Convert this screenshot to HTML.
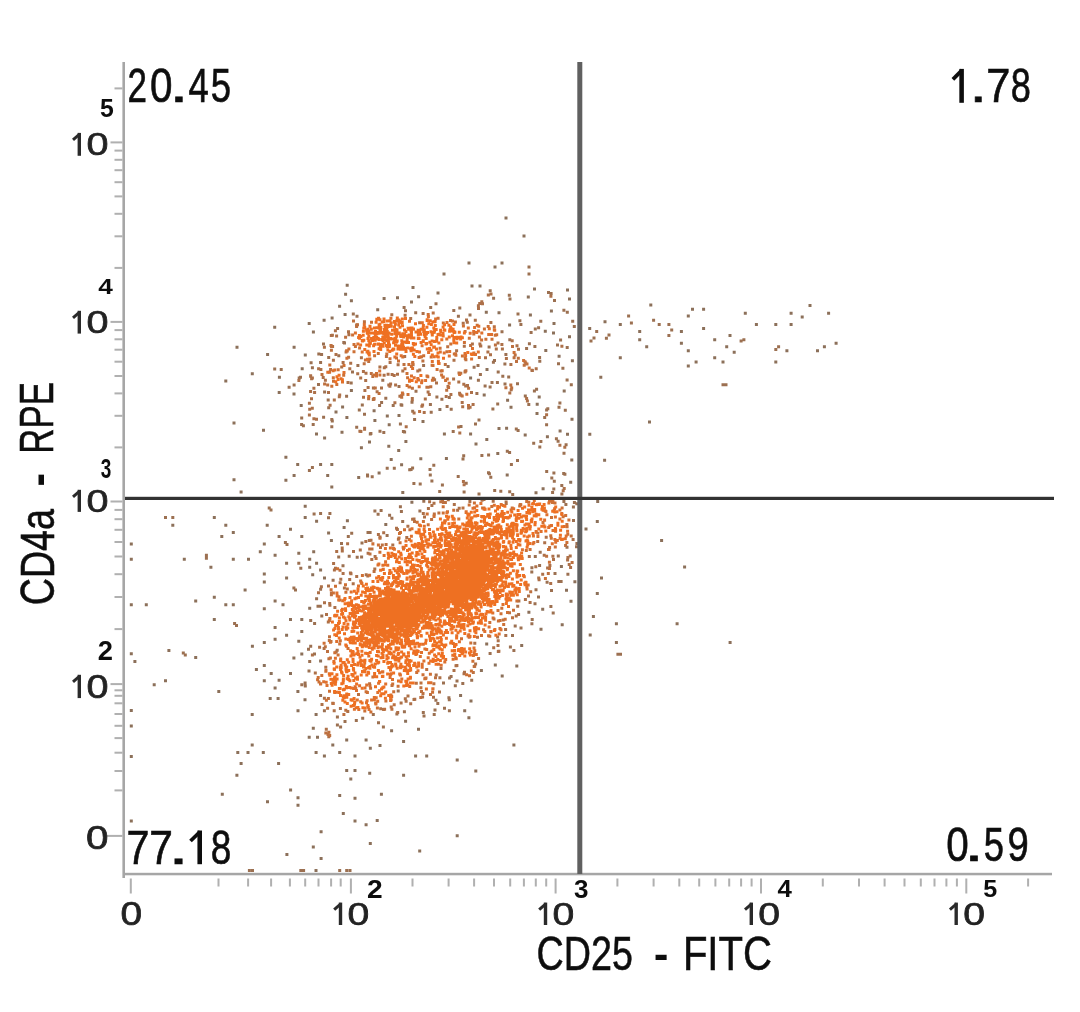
<!DOCTYPE html>
<html><head><meta charset="utf-8"><style>
html,body{margin:0;padding:0;background:#fff;}
body{width:1080px;height:1012px;overflow:hidden;}
svg{display:block;font-family:"Liberation Sans", sans-serif;}
</style></head><body>
<svg width="1080" height="1012" viewBox="0 0 1080 1012">
<defs><filter id="bl" x="0" y="0" width="1" height="1"><feGaussianBlur stdDeviation="0.55"/></filter></defs>
<rect width="1080" height="1012" fill="#fff"/>
<g filter="url(#bl)">
<rect x="122.4" y="62" width="2.6" height="816" fill="#a6a6a6"/>
<rect x="123" y="872.8" width="929" height="2.5" fill="#a6a6a6"/>
<rect x="106.5" y="834.9" width="16" height="2" fill="#b0b0b0"/>
<rect x="110.5" y="683.1" width="12" height="2" fill="#b0b0b0"/>
<rect x="110.5" y="500.5" width="12" height="2" fill="#b0b0b0"/>
<rect x="110.5" y="320.9" width="12" height="2" fill="#b0b0b0"/>
<rect x="110.5" y="141.4" width="12" height="2" fill="#b0b0b0"/>
<rect x="114.5" y="628.1" width="8" height="2" fill="#b0b0b0"/>
<rect x="114.5" y="596.0" width="8" height="2" fill="#b0b0b0"/>
<rect x="114.5" y="573.2" width="8" height="2" fill="#b0b0b0"/>
<rect x="114.5" y="555.5" width="8" height="2" fill="#b0b0b0"/>
<rect x="114.5" y="541.0" width="8" height="2" fill="#b0b0b0"/>
<rect x="114.5" y="528.8" width="8" height="2" fill="#b0b0b0"/>
<rect x="114.5" y="518.2" width="8" height="2" fill="#b0b0b0"/>
<rect x="114.5" y="508.9" width="8" height="2" fill="#b0b0b0"/>
<rect x="114.5" y="446.4" width="8" height="2" fill="#b0b0b0"/>
<rect x="114.5" y="414.8" width="8" height="2" fill="#b0b0b0"/>
<rect x="114.5" y="392.4" width="8" height="2" fill="#b0b0b0"/>
<rect x="114.5" y="375.0" width="8" height="2" fill="#b0b0b0"/>
<rect x="114.5" y="360.7" width="8" height="2" fill="#b0b0b0"/>
<rect x="114.5" y="348.7" width="8" height="2" fill="#b0b0b0"/>
<rect x="114.5" y="338.3" width="8" height="2" fill="#b0b0b0"/>
<rect x="114.5" y="329.1" width="8" height="2" fill="#b0b0b0"/>
<rect x="114.5" y="266.9" width="8" height="2" fill="#b0b0b0"/>
<rect x="114.5" y="235.3" width="8" height="2" fill="#b0b0b0"/>
<rect x="114.5" y="212.8" width="8" height="2" fill="#b0b0b0"/>
<rect x="114.5" y="195.4" width="8" height="2" fill="#b0b0b0"/>
<rect x="114.5" y="181.2" width="8" height="2" fill="#b0b0b0"/>
<rect x="114.5" y="169.2" width="8" height="2" fill="#b0b0b0"/>
<rect x="114.5" y="158.8" width="8" height="2" fill="#b0b0b0"/>
<rect x="114.5" y="149.6" width="8" height="2" fill="#b0b0b0"/>
<rect x="114.5" y="87.4" width="8" height="2" fill="#b0b0b0"/>
<rect x="114.5" y="689.3" width="8" height="2" fill="#b0b0b0"/>
<rect x="114.5" y="694.8" width="8" height="2" fill="#b0b0b0"/>
<rect x="114.5" y="702.3" width="8" height="2" fill="#b0b0b0"/>
<rect x="114.5" y="713.0" width="8" height="2" fill="#b0b0b0"/>
<rect x="114.5" y="724.8" width="8" height="2" fill="#b0b0b0"/>
<rect x="114.5" y="737.1" width="8" height="2" fill="#b0b0b0"/>
<rect x="114.5" y="751.7" width="8" height="2" fill="#b0b0b0"/>
<rect x="114.5" y="770.0" width="8" height="2" fill="#b0b0b0"/>
<rect x="114.5" y="789.4" width="8" height="2" fill="#b0b0b0"/>
<rect x="129.8" y="878.5" width="2" height="15" fill="#b0b0b0"/>
<rect x="349.9" y="878.5" width="2" height="15" fill="#b0b0b0"/>
<rect x="554.6" y="878.5" width="2" height="15" fill="#b0b0b0"/>
<rect x="760.0" y="878.5" width="2" height="15" fill="#b0b0b0"/>
<rect x="965.3" y="878.5" width="2" height="15" fill="#b0b0b0"/>
<rect x="411.5" y="878.5" width="2" height="8" fill="#b0b0b0"/>
<rect x="447.6" y="878.5" width="2" height="8" fill="#b0b0b0"/>
<rect x="473.1" y="878.5" width="2" height="8" fill="#b0b0b0"/>
<rect x="493.0" y="878.5" width="2" height="8" fill="#b0b0b0"/>
<rect x="509.2" y="878.5" width="2" height="8" fill="#b0b0b0"/>
<rect x="522.9" y="878.5" width="2" height="8" fill="#b0b0b0"/>
<rect x="534.8" y="878.5" width="2" height="8" fill="#b0b0b0"/>
<rect x="545.2" y="878.5" width="2" height="8" fill="#b0b0b0"/>
<rect x="616.4" y="878.5" width="2" height="8" fill="#b0b0b0"/>
<rect x="652.6" y="878.5" width="2" height="8" fill="#b0b0b0"/>
<rect x="678.3" y="878.5" width="2" height="8" fill="#b0b0b0"/>
<rect x="698.2" y="878.5" width="2" height="8" fill="#b0b0b0"/>
<rect x="714.4" y="878.5" width="2" height="8" fill="#b0b0b0"/>
<rect x="728.2" y="878.5" width="2" height="8" fill="#b0b0b0"/>
<rect x="740.1" y="878.5" width="2" height="8" fill="#b0b0b0"/>
<rect x="750.6" y="878.5" width="2" height="8" fill="#b0b0b0"/>
<rect x="821.8" y="878.5" width="2" height="8" fill="#b0b0b0"/>
<rect x="858.0" y="878.5" width="2" height="8" fill="#b0b0b0"/>
<rect x="883.6" y="878.5" width="2" height="8" fill="#b0b0b0"/>
<rect x="903.5" y="878.5" width="2" height="8" fill="#b0b0b0"/>
<rect x="919.8" y="878.5" width="2" height="8" fill="#b0b0b0"/>
<rect x="933.5" y="878.5" width="2" height="8" fill="#b0b0b0"/>
<rect x="945.4" y="878.5" width="2" height="8" fill="#b0b0b0"/>
<rect x="955.9" y="878.5" width="2" height="8" fill="#b0b0b0"/>
<rect x="1027.1" y="878.5" width="2" height="8" fill="#b0b0b0"/>
<rect x="217.5" y="878.5" width="2" height="8" fill="#b0b0b0"/>
<rect x="247.1" y="878.5" width="2" height="8" fill="#b0b0b0"/>
<rect x="270.1" y="878.5" width="2" height="8" fill="#b0b0b0"/>
<rect x="288.9" y="878.5" width="2" height="8" fill="#b0b0b0"/>
<rect x="304.2" y="878.5" width="2" height="8" fill="#b0b0b0"/>
<rect x="317.5" y="878.5" width="2" height="8" fill="#b0b0b0"/>
<rect x="330.1" y="878.5" width="2" height="8" fill="#b0b0b0"/>
<rect x="339.7" y="878.5" width="2" height="8" fill="#b0b0b0"/>
<g fill="#ec6e22"><path fill="rgb(140, 112, 90)" d="M527.4 610.7h3.0v3.0h-3.0zM559.9 565.1h3.0v3.0h-3.0zM342.6 526.1h3.0v3.0h-3.0zM541.6 487.3h3.0v3.0h-3.0zM384.3 522.9h3.0v3.0h-3.0zM515.3 664.4h3.0v3.0h-3.0zM345.9 519.2h3.0v3.0h-3.0zM469.5 699.6h3.0v3.0h-3.0zM560.7 623.3h3.0v3.0h-3.0zM404.1 719.7h3.0v3.0h-3.0zM565.0 588.7h3.0v3.0h-3.0zM390.1 729.3h3.0v3.0h-3.0zM541.2 607.8h3.0v3.0h-3.0zM573.4 580.3h3.0v3.0h-3.0zM496.3 451.9h3.0v3.0h-3.0zM539.5 627.7h3.0v3.0h-3.0zM410.4 500.7h3.0v3.0h-3.0zM485.2 642.6h3.0v3.0h-3.0zM277.6 678.8h3.0v3.0h-3.0zM569.5 599.7h3.0v3.0h-3.0zM417.0 727.8h3.0v3.0h-3.0zM327.1 531.5h3.0v3.0h-3.0zM534.5 491.2h3.0v3.0h-3.0zM569.2 480.8h3.0v3.0h-3.0zM543.8 329.8h3.0v3.0h-3.0zM528.9 313.5h3.0v3.0h-3.0zM508.1 323.6h3.0v3.0h-3.0zM387.3 444.8h3.0v3.0h-3.0zM469.1 376.4h3.0v3.0h-3.0zM509.5 405.8h3.0v3.0h-3.0zM570.9 359.3h3.0v3.0h-3.0zM506.1 398.8h3.0v3.0h-3.0zM482.7 393.6h3.0v3.0h-3.0zM417.1 295.2h3.0v3.0h-3.0zM400.1 463.2h3.0v3.0h-3.0zM442.9 432.5h3.0v3.0h-3.0zM568.0 335.2h3.0v3.0h-3.0zM382.6 297.0h3.0v3.0h-3.0zM343.6 312.9h3.0v3.0h-3.0zM349.9 299.3h3.0v3.0h-3.0zM387.7 423.2h3.0v3.0h-3.0zM338.1 304.8h3.0v3.0h-3.0zM330.6 316.4h3.0v3.0h-3.0zM410.0 300.6h3.0v3.0h-3.0zM438.4 408.0h3.0v3.0h-3.0zM533.0 287.6h3.0v3.0h-3.0zM485.5 368.1h3.0v3.0h-3.0zM376.2 308.3h3.0v3.0h-3.0zM344.1 292.8h3.0v3.0h-3.0zM273.2 325.7h3.0v3.0h-3.0zM340.5 430.7h3.0v3.0h-3.0zM396.0 296.3h3.0v3.0h-3.0zM469.1 432.4h3.0v3.0h-3.0zM345.7 283.7h3.0v3.0h-3.0zM397.2 449.1h3.0v3.0h-3.0zM421.5 419.9h3.0v3.0h-3.0zM341.1 405.6h3.0v3.0h-3.0zM397.5 414.1h3.0v3.0h-3.0zM497.5 311.3h3.0v3.0h-3.0zM545.9 435.3h3.0v3.0h-3.0zM505.7 473.6h3.0v3.0h-3.0zM535.7 402.8h3.0v3.0h-3.0zM474.5 442.4h3.0v3.0h-3.0zM419.3 457.3h3.0v3.0h-3.0zM562.7 389.4h3.0v3.0h-3.0zM523.7 433.5h3.0v3.0h-3.0zM497.5 427.1h3.0v3.0h-3.0zM377.6 471.6h3.0v3.0h-3.0zM368.0 440.5h3.0v3.0h-3.0zM404.4 440.1h3.0v3.0h-3.0zM359.9 446.3h3.0v3.0h-3.0zM389.7 457.9h3.0v3.0h-3.0zM349.9 389.0h3.0v3.0h-3.0zM373.4 418.9h3.0v3.0h-3.0zM566.0 432.8h3.0v3.0h-3.0zM537.7 395.4h3.0v3.0h-3.0zM357.2 475.9h3.0v3.0h-3.0zM485.3 438.1h3.0v3.0h-3.0zM401.3 490.9h3.0v3.0h-3.0zM535.5 411.9h3.0v3.0h-3.0zM558.6 429.6h3.0v3.0h-3.0zM385.8 414.5h3.0v3.0h-3.0zM570.5 417.7h3.0v3.0h-3.0zM570.3 458.6h3.0v3.0h-3.0zM372.6 409.3h3.0v3.0h-3.0zM345.4 416.1h3.0v3.0h-3.0zM444.9 457.0h3.0v3.0h-3.0zM505.1 426.8h3.0v3.0h-3.0zM484.8 310.8h3.0v3.0h-3.0zM549.9 309.5h3.0v3.0h-3.0zM544.3 349.0h3.0v3.0h-3.0zM568.0 297.6h3.0v3.0h-3.0zM552.0 331.6h3.0v3.0h-3.0zM552.5 322.0h3.0v3.0h-3.0zM557.6 354.7h3.0v3.0h-3.0zM526.8 295.6h3.0v3.0h-3.0zM588.2 327.1h3.0v3.0h-3.0zM603.5 320.2h3.0v3.0h-3.0zM618.8 322.9h3.0v3.0h-3.0zM638.2 329.9h3.0v3.0h-3.0zM638.2 338.2h3.0v3.0h-3.0zM645.2 345.2h3.0v3.0h-3.0zM618.8 356.3h3.0v3.0h-3.0zM599.3 375.7h3.0v3.0h-3.0zM649.3 303.5h3.0v3.0h-3.0zM679.9 329.9h3.0v3.0h-3.0zM679.9 341.8h3.0v3.0h-3.0zM686.8 314.6h3.0v3.0h-3.0zM691.0 307.7h3.0v3.0h-3.0zM702.1 307.7h3.0v3.0h-3.0zM702.1 327.1h3.0v3.0h-3.0zM686.8 349.3h3.0v3.0h-3.0zM686.8 364.6h3.0v3.0h-3.0zM694.6 360.4h3.0v3.0h-3.0zM713.2 338.2h3.0v3.0h-3.0zM713.2 356.3h3.0v3.0h-3.0zM721.5 360.4h3.0v3.0h-3.0zM728.5 334.1h3.0v3.0h-3.0zM725.2 345.2h3.0v3.0h-3.0zM732.7 350.7h3.0v3.0h-3.0zM743.8 311.8h3.0v3.0h-3.0zM754.9 322.9h3.0v3.0h-3.0zM774.3 322.9h3.0v3.0h-3.0zM785.4 349.3h3.0v3.0h-3.0zM774.3 360.4h3.0v3.0h-3.0zM789.6 311.8h3.0v3.0h-3.0zM789.6 322.9h3.0v3.0h-3.0zM800.7 315.4h3.0v3.0h-3.0zM808.5 304.1h3.0v3.0h-3.0zM827.1 311.8h3.0v3.0h-3.0zM816.0 349.3h3.0v3.0h-3.0zM822.9 345.2h3.0v3.0h-3.0zM834.6 341.8h3.0v3.0h-3.0zM648.0 420.5h3.0v3.0h-3.0zM588.3 432.7h3.0v3.0h-3.0zM603.1 458.8h3.0v3.0h-3.0zM596.2 499.9h3.0v3.0h-3.0zM595.8 520.1h3.0v3.0h-3.0zM584.5 527.5h3.0v3.0h-3.0zM660.1 538.9h3.0v3.0h-3.0zM683.1 565.5h3.0v3.0h-3.0zM600.0 576.5h3.0v3.0h-3.0zM595.8 591.9h3.0v3.0h-3.0zM591.9 614.9h3.0v3.0h-3.0zM614.9 622.3h3.0v3.0h-3.0zM675.6 622.3h3.0v3.0h-3.0zM588.7 633.6h3.0v3.0h-3.0zM614.9 641.1h3.0v3.0h-3.0zM728.6 641.1h3.0v3.0h-3.0zM171.3 523.8h3.0v3.0h-3.0zM212.8 515.9h3.0v3.0h-3.0zM224.3 523.8h3.0v3.0h-3.0zM231.8 531.1h3.0v3.0h-3.0zM220.3 535.0h3.0v3.0h-3.0zM265.7 523.8h3.0v3.0h-3.0zM303.7 504.8h3.0v3.0h-3.0zM303.7 515.9h3.0v3.0h-3.0zM315.1 519.8h3.0v3.0h-3.0zM289.0 527.7h3.0v3.0h-3.0zM277.6 535.0h3.0v3.0h-3.0zM300.3 535.0h3.0v3.0h-3.0zM329.9 539.0h3.0v3.0h-3.0zM129.8 542.4h3.0v3.0h-3.0zM129.8 557.8h3.0v3.0h-3.0zM182.8 557.8h3.0v3.0h-3.0zM209.4 565.7h3.0v3.0h-3.0zM231.8 557.8h3.0v3.0h-3.0zM247.0 557.8h3.0v3.0h-3.0zM262.8 542.4h3.0v3.0h-3.0zM258.8 550.3h3.0v3.0h-3.0zM273.6 553.8h3.0v3.0h-3.0zM297.3 551.8h3.0v3.0h-3.0zM312.2 550.3h3.0v3.0h-3.0zM308.2 557.8h3.0v3.0h-3.0zM285.1 561.7h3.0v3.0h-3.0zM308.2 565.7h3.0v3.0h-3.0zM315.1 561.7h3.0v3.0h-3.0zM319.1 568.6h3.0v3.0h-3.0zM311.2 573.2h3.0v3.0h-3.0zM323.0 576.5h3.0v3.0h-3.0zM262.8 572.6h3.0v3.0h-3.0zM262.8 580.5h3.0v3.0h-3.0zM285.1 576.5h3.0v3.0h-3.0zM243.6 588.4h3.0v3.0h-3.0zM129.8 603.2h3.0v3.0h-3.0zM144.8 603.2h3.0v3.0h-3.0zM194.2 599.6h3.0v3.0h-3.0zM212.8 595.7h3.0v3.0h-3.0zM224.3 603.2h3.0v3.0h-3.0zM231.8 603.2h3.0v3.0h-3.0zM273.6 599.6h3.0v3.0h-3.0zM281.5 603.2h3.0v3.0h-3.0zM262.8 607.2h3.0v3.0h-3.0zM308.2 606.8h3.0v3.0h-3.0zM212.8 618.0h3.0v3.0h-3.0zM289.0 618.0h3.0v3.0h-3.0zM300.3 618.0h3.0v3.0h-3.0zM273.6 625.9h3.0v3.0h-3.0zM285.1 633.8h3.0v3.0h-3.0zM300.3 629.9h3.0v3.0h-3.0zM273.6 637.8h3.0v3.0h-3.0zM262.8 641.1h3.0v3.0h-3.0zM250.9 644.7h3.0v3.0h-3.0zM297.3 639.7h3.0v3.0h-3.0zM129.8 652.2h3.0v3.0h-3.0zM133.4 660.1h3.0v3.0h-3.0zM167.4 649.0h3.0v3.0h-3.0zM194.2 656.1h3.0v3.0h-3.0zM292.4 656.5h3.0v3.0h-3.0zM300.3 652.6h3.0v3.0h-3.0zM319.1 659.5h3.0v3.0h-3.0zM262.8 664.0h3.0v3.0h-3.0zM254.9 668.0h3.0v3.0h-3.0zM269.7 671.9h3.0v3.0h-3.0zM289.0 671.9h3.0v3.0h-3.0zM152.7 683.2h3.0v3.0h-3.0zM164.0 679.3h3.0v3.0h-3.0zM262.8 679.3h3.0v3.0h-3.0zM273.6 686.6h3.0v3.0h-3.0zM296.4 690.1h3.0v3.0h-3.0zM217.3 690.1h3.0v3.0h-3.0zM268.7 697.0h3.0v3.0h-3.0zM276.6 697.0h3.0v3.0h-3.0zM250.7 712.9h3.0v3.0h-3.0zM250.7 743.5h3.0v3.0h-3.0zM236.3 751.0h3.0v3.0h-3.0zM246.5 751.0h3.0v3.0h-3.0zM261.8 751.0h3.0v3.0h-3.0zM239.6 762.1h3.0v3.0h-3.0zM235.4 773.8h3.0v3.0h-3.0zM277.1 762.1h3.0v3.0h-3.0zM289.1 788.5h3.0v3.0h-3.0zM296.5 796.3h3.0v3.0h-3.0zM296.5 803.8h3.0v3.0h-3.0zM266.0 800.2h3.0v3.0h-3.0zM307.7 735.7h3.0v3.0h-3.0zM316.0 735.7h3.0v3.0h-3.0zM311.8 726.8h3.0v3.0h-3.0zM314.6 751.0h3.0v3.0h-3.0zM322.9 754.6h3.0v3.0h-3.0zM331.3 743.5h3.0v3.0h-3.0zM338.2 751.0h3.0v3.0h-3.0zM345.2 738.5h3.0v3.0h-3.0zM353.5 754.6h3.0v3.0h-3.0zM345.2 769.1h3.0v3.0h-3.0zM353.5 769.1h3.0v3.0h-3.0zM349.3 777.4h3.0v3.0h-3.0zM368.2 771.8h3.0v3.0h-3.0zM364.6 738.5h3.0v3.0h-3.0zM368.8 746.8h3.0v3.0h-3.0zM378.5 744.1h3.0v3.0h-3.0zM402.1 739.9h3.0v3.0h-3.0zM402.1 773.8h3.0v3.0h-3.0zM379.9 792.7h3.0v3.0h-3.0zM338.2 794.1h3.0v3.0h-3.0zM353.5 796.8h3.0v3.0h-3.0zM341.8 812.1h3.0v3.0h-3.0zM353.5 819.6h3.0v3.0h-3.0zM364.6 823.2h3.0v3.0h-3.0zM375.7 819.1h3.0v3.0h-3.0zM319.6 830.2h3.0v3.0h-3.0zM311.8 845.4h3.0v3.0h-3.0zM285.4 852.9h3.0v3.0h-3.0zM319.6 857.1h3.0v3.0h-3.0zM368.8 842.1h3.0v3.0h-3.0zM418.2 849.6h3.0v3.0h-3.0zM455.7 834.3h3.0v3.0h-3.0zM414.1 754.6h3.0v3.0h-3.0zM425.2 754.6h3.0v3.0h-3.0zM455.7 758.5h3.0v3.0h-3.0zM474.3 769.6h3.0v3.0h-3.0zM512.4 743.5h3.0v3.0h-3.0zM467.4 716.3h3.0v3.0h-3.0zM463.2 709.3h3.0v3.0h-3.0zM459.1 694.1h3.0v3.0h-3.0zM500.7 674.6h3.0v3.0h-3.0zM493.8 663.5h3.0v3.0h-3.0zM520.2 644.1h3.0v3.0h-3.0zM479.9 669.1h3.0v3.0h-3.0zM296.5 709.3h3.0v3.0h-3.0zM303.5 698.2h3.0v3.0h-3.0zM314.6 712.9h3.0v3.0h-3.0zM129.8 709.1h3.0v3.0h-3.0zM129.8 724.5h3.0v3.0h-3.0zM129.8 755.1h3.0v3.0h-3.0zM129.8 819.5h3.0v3.0h-3.0zM220.8 792.7h3.0v3.0h-3.0zM314.5 869.1h3.0v3.0h-3.0zM235.5 345.8h3.0v3.0h-3.0zM224.3 379.4h3.0v3.0h-3.0zM250.8 372.3h3.0v3.0h-3.0zM266.1 352.9h3.0v3.0h-3.0zM277.9 375.8h3.0v3.0h-3.0zM277.7 391.0h3.0v3.0h-3.0zM292.6 345.8h3.0v3.0h-3.0zM303.8 353.4h3.0v3.0h-3.0zM311.9 330.5h3.0v3.0h-3.0zM232.5 421.6h3.0v3.0h-3.0zM262.0 428.7h3.0v3.0h-3.0zM284.4 455.8h3.0v3.0h-3.0zM296.2 462.9h3.0v3.0h-3.0zM292.6 474.1h3.0v3.0h-3.0zM284.4 478.8h3.0v3.0h-3.0zM232.5 478.2h3.0v3.0h-3.0zM239.6 490.5h3.0v3.0h-3.0zM319.1 462.9h3.0v3.0h-3.0zM330.3 462.9h3.0v3.0h-3.0zM326.2 474.1h3.0v3.0h-3.0zM330.3 485.4h3.0v3.0h-3.0zM300.7 367.2h3.0v3.0h-3.0zM299.7 403.9h3.0v3.0h-3.0zM315.0 432.4h3.0v3.0h-3.0zM323.1 436.5h3.0v3.0h-3.0zM307.7 322.0h3.0v3.0h-3.0zM322.6 318.8h3.0v3.0h-3.0zM504.5 216.5h3.0v3.0h-3.0zM522.5 234.5h3.0v3.0h-3.0zM467.5 261.5h3.0v3.0h-3.0zM493.5 265.5h3.0v3.0h-3.0zM500.5 261.5h3.0v3.0h-3.0zM442.5 272.5h3.0v3.0h-3.0zM411.5 286.0h3.0v3.0h-3.0zM566.0 288.5h3.0v3.0h-3.0zM436.5 291.5h3.0v3.0h-3.0zM470.5 284.5h3.0v3.0h-3.0zM478.5 284.5h3.0v3.0h-3.0zM292.5 392.5h3.0v3.0h-3.0zM334.5 410.4h3.0v3.0h-3.0z"/><path fill="rgb(156, 112, 81)" d="M312.6 512.6h3.0v3.0h-3.0zM307.5 669.4h3.0v3.0h-3.0zM340.0 542.1h3.0v3.0h-3.0zM449.6 675.0h3.0v3.0h-3.0zM461.5 457.5h3.0v3.0h-3.0zM442.0 681.5h3.0v3.0h-3.0zM461.3 681.9h3.0v3.0h-3.0zM575.0 545.2h3.0v3.0h-3.0zM530.7 618.1h3.0v3.0h-3.0zM571.9 505.6h3.0v3.0h-3.0zM514.8 427.5h3.0v3.0h-3.0zM557.3 579.9h3.0v3.0h-3.0zM530.4 566.2h3.0v3.0h-3.0zM307.0 647.7h3.0v3.0h-3.0zM572.0 518.9h3.0v3.0h-3.0zM343.5 720.1h3.0v3.0h-3.0zM519.5 626.5h3.0v3.0h-3.0zM487.1 453.4h3.0v3.0h-3.0zM402.9 710.2h3.0v3.0h-3.0zM354.8 719.1h3.0v3.0h-3.0zM545.6 580.7h3.0v3.0h-3.0zM379.6 509.1h3.0v3.0h-3.0zM422.5 714.6h3.0v3.0h-3.0zM347.7 554.7h3.0v3.0h-3.0zM328.4 511.9h3.0v3.0h-3.0zM534.5 588.3h3.0v3.0h-3.0zM438.2 489.9h3.0v3.0h-3.0zM488.6 651.9h3.0v3.0h-3.0zM533.5 602.3h3.0v3.0h-3.0zM551.7 611.6h3.0v3.0h-3.0zM360.5 541.6h3.0v3.0h-3.0zM453.8 684.3h3.0v3.0h-3.0zM538.7 550.7h3.0v3.0h-3.0zM530.3 570.5h3.0v3.0h-3.0zM390.4 516.7h3.0v3.0h-3.0zM422.3 499.8h3.0v3.0h-3.0zM388.1 513.7h3.0v3.0h-3.0zM538.1 564.0h3.0v3.0h-3.0zM559.6 580.1h3.0v3.0h-3.0zM428.8 473.6h3.0v3.0h-3.0zM401.2 520.1h3.0v3.0h-3.0zM530.4 622.3h3.0v3.0h-3.0zM537.0 595.4h3.0v3.0h-3.0zM448.1 676.6h3.0v3.0h-3.0zM350.2 531.7h3.0v3.0h-3.0zM443.0 706.7h3.0v3.0h-3.0zM355.7 555.8h3.0v3.0h-3.0zM553.5 571.9h3.0v3.0h-3.0zM434.4 698.8h3.0v3.0h-3.0zM433.5 708.4h3.0v3.0h-3.0zM572.9 501.0h3.0v3.0h-3.0zM339.1 725.6h3.0v3.0h-3.0zM335.9 715.5h3.0v3.0h-3.0zM373.4 509.5h3.0v3.0h-3.0zM335.9 723.5h3.0v3.0h-3.0zM303.8 684.5h3.0v3.0h-3.0zM418.4 509.6h3.0v3.0h-3.0zM513.7 624.4h3.0v3.0h-3.0zM376.6 512.7h3.0v3.0h-3.0zM331.6 578.7h3.0v3.0h-3.0zM455.5 679.6h3.0v3.0h-3.0zM566.4 572.7h3.0v3.0h-3.0zM398.9 505.2h3.0v3.0h-3.0zM477.5 492.4h3.0v3.0h-3.0zM436.3 701.9h3.0v3.0h-3.0zM371.8 712.9h3.0v3.0h-3.0zM385.6 534.1h3.0v3.0h-3.0zM395.4 712.6h3.0v3.0h-3.0zM545.2 470.1h3.0v3.0h-3.0zM511.0 634.1h3.0v3.0h-3.0zM318.8 604.8h3.0v3.0h-3.0zM396.7 689.4h3.0v3.0h-3.0zM368.6 531.0h3.0v3.0h-3.0zM366.5 531.0h3.0v3.0h-3.0zM508.9 645.4h3.0v3.0h-3.0zM550.0 588.9h3.0v3.0h-3.0zM377.0 721.3h3.0v3.0h-3.0zM303.6 681.4h3.0v3.0h-3.0zM575.3 502.2h3.0v3.0h-3.0zM565.5 545.7h3.0v3.0h-3.0zM346.8 535.1h3.0v3.0h-3.0zM361.2 716.8h3.0v3.0h-3.0zM447.8 698.2h3.0v3.0h-3.0zM480.4 453.9h3.0v3.0h-3.0zM313.0 652.4h3.0v3.0h-3.0zM421.8 711.1h3.0v3.0h-3.0zM509.9 463.0h3.0v3.0h-3.0zM447.4 696.2h3.0v3.0h-3.0zM493.2 489.1h3.0v3.0h-3.0zM575.4 541.9h3.0v3.0h-3.0zM381.9 725.5h3.0v3.0h-3.0zM316.5 604.8h3.0v3.0h-3.0zM545.1 408.5h3.0v3.0h-3.0zM399.9 510.1h3.0v3.0h-3.0zM320.3 614.5h3.0v3.0h-3.0zM337.2 555.5h3.0v3.0h-3.0zM556.8 554.5h3.0v3.0h-3.0zM549.4 604.9h3.0v3.0h-3.0zM341.5 564.3h3.0v3.0h-3.0zM533.8 555.1h3.0v3.0h-3.0zM560.4 492.6h3.0v3.0h-3.0zM562.4 500.1h3.0v3.0h-3.0zM360.1 555.6h3.0v3.0h-3.0zM511.2 492.9h3.0v3.0h-3.0zM550.3 476.4h3.0v3.0h-3.0zM564.4 502.9h3.0v3.0h-3.0zM404.0 309.3h3.0v3.0h-3.0zM414.2 311.3h3.0v3.0h-3.0zM343.0 341.4h3.0v3.0h-3.0zM342.3 341.0h3.0v3.0h-3.0zM355.5 314.7h3.0v3.0h-3.0zM529.6 330.9h3.0v3.0h-3.0zM527.9 342.2h3.0v3.0h-3.0zM539.3 319.7h3.0v3.0h-3.0zM472.6 365.7h3.0v3.0h-3.0zM537.1 326.3h3.0v3.0h-3.0zM456.9 314.7h3.0v3.0h-3.0zM508.3 338.2h3.0v3.0h-3.0zM518.4 319.3h3.0v3.0h-3.0zM458.3 306.5h3.0v3.0h-3.0zM452.3 308.9h3.0v3.0h-3.0zM500.5 330.2h3.0v3.0h-3.0zM336.1 326.9h3.0v3.0h-3.0zM422.1 364.0h3.0v3.0h-3.0zM476.5 364.1h3.0v3.0h-3.0zM381.3 378.8h3.0v3.0h-3.0zM478.9 373.0h3.0v3.0h-3.0zM408.2 468.2h3.0v3.0h-3.0zM351.0 370.6h3.0v3.0h-3.0zM572.8 325.1h3.0v3.0h-3.0zM363.0 412.7h3.0v3.0h-3.0zM337.3 354.2h3.0v3.0h-3.0zM516.0 382.3h3.0v3.0h-3.0zM475.4 391.9h3.0v3.0h-3.0zM445.6 404.9h3.0v3.0h-3.0zM501.3 374.8h3.0v3.0h-3.0zM527.3 402.9h3.0v3.0h-3.0zM496.2 402.6h3.0v3.0h-3.0zM533.8 327.6h3.0v3.0h-3.0zM378.1 404.1h3.0v3.0h-3.0zM357.8 408.4h3.0v3.0h-3.0zM533.4 344.9h3.0v3.0h-3.0zM401.9 430.1h3.0v3.0h-3.0zM368.8 432.4h3.0v3.0h-3.0zM402.6 305.9h3.0v3.0h-3.0zM468.5 313.6h3.0v3.0h-3.0zM483.6 384.6h3.0v3.0h-3.0zM351.8 312.6h3.0v3.0h-3.0zM380.1 401.1h3.0v3.0h-3.0zM382.3 431.0h3.0v3.0h-3.0zM488.6 385.6h3.0v3.0h-3.0zM356.4 364.0h3.0v3.0h-3.0zM496.7 370.6h3.0v3.0h-3.0zM413.1 417.9h3.0v3.0h-3.0zM561.4 366.7h3.0v3.0h-3.0zM411.2 409.8h3.0v3.0h-3.0zM391.7 404.1h3.0v3.0h-3.0zM345.1 394.8h3.0v3.0h-3.0zM429.7 410.8h3.0v3.0h-3.0zM476.9 378.7h3.0v3.0h-3.0zM384.3 396.8h3.0v3.0h-3.0zM558.4 401.4h3.0v3.0h-3.0zM446.6 365.1h3.0v3.0h-3.0zM434.5 302.2h3.0v3.0h-3.0zM447.8 396.1h3.0v3.0h-3.0zM414.5 389.7h3.0v3.0h-3.0zM403.1 430.4h3.0v3.0h-3.0zM525.1 347.0h3.0v3.0h-3.0zM429.2 306.0h3.0v3.0h-3.0zM349.7 381.5h3.0v3.0h-3.0zM369.4 432.0h3.0v3.0h-3.0zM503.4 362.4h3.0v3.0h-3.0zM326.7 398.4h3.0v3.0h-3.0zM507.2 375.5h3.0v3.0h-3.0zM538.1 355.9h3.0v3.0h-3.0zM508.1 450.9h3.0v3.0h-3.0zM459.5 425.1h3.0v3.0h-3.0zM398.9 422.6h3.0v3.0h-3.0zM505.8 449.7h3.0v3.0h-3.0zM366.1 474.6h3.0v3.0h-3.0zM464.7 481.8h3.0v3.0h-3.0zM490.5 381.0h3.0v3.0h-3.0zM456.7 475.1h3.0v3.0h-3.0zM491.4 407.4h3.0v3.0h-3.0zM508.2 490.3h3.0v3.0h-3.0zM432.3 463.8h3.0v3.0h-3.0zM538.3 445.5h3.0v3.0h-3.0zM451.7 429.9h3.0v3.0h-3.0zM532.9 389.5h3.0v3.0h-3.0zM487.9 472.3h3.0v3.0h-3.0zM523.8 394.6h3.0v3.0h-3.0zM563.8 408.7h3.0v3.0h-3.0zM418.7 482.4h3.0v3.0h-3.0zM355.2 425.7h3.0v3.0h-3.0zM535.1 387.7h3.0v3.0h-3.0zM440.4 397.7h3.0v3.0h-3.0zM409.6 468.0h3.0v3.0h-3.0zM554.9 437.2h3.0v3.0h-3.0zM385.7 466.7h3.0v3.0h-3.0zM552.8 479.7h3.0v3.0h-3.0zM489.3 475.7h3.0v3.0h-3.0zM378.5 429.7h3.0v3.0h-3.0zM562.5 451.7h3.0v3.0h-3.0zM503.5 382.6h3.0v3.0h-3.0zM532.2 441.8h3.0v3.0h-3.0zM551.1 490.9h3.0v3.0h-3.0zM562.2 472.0h3.0v3.0h-3.0zM565.6 378.5h3.0v3.0h-3.0zM430.4 479.5h3.0v3.0h-3.0zM563.4 472.7h3.0v3.0h-3.0zM477.5 418.5h3.0v3.0h-3.0zM564.6 443.3h3.0v3.0h-3.0zM449.7 407.8h3.0v3.0h-3.0zM462.6 490.6h3.0v3.0h-3.0zM474.0 422.4h3.0v3.0h-3.0zM499.3 489.7h3.0v3.0h-3.0zM428.9 403.0h3.0v3.0h-3.0zM495.9 380.9h3.0v3.0h-3.0zM516.0 459.0h3.0v3.0h-3.0zM557.5 405.7h3.0v3.0h-3.0zM397.5 384.9h3.0v3.0h-3.0zM399.6 403.3h3.0v3.0h-3.0zM410.5 400.7h3.0v3.0h-3.0zM366.0 473.6h3.0v3.0h-3.0zM487.0 471.3h3.0v3.0h-3.0zM543.2 416.0h3.0v3.0h-3.0zM462.2 454.2h3.0v3.0h-3.0zM516.6 429.1h3.0v3.0h-3.0zM370.7 475.3h3.0v3.0h-3.0zM400.3 403.7h3.0v3.0h-3.0zM539.4 440.0h3.0v3.0h-3.0zM392.8 466.7h3.0v3.0h-3.0zM546.3 407.2h3.0v3.0h-3.0zM428.5 468.0h3.0v3.0h-3.0zM360.8 403.4h3.0v3.0h-3.0zM556.6 439.7h3.0v3.0h-3.0zM552.3 487.5h3.0v3.0h-3.0zM569.8 383.3h3.0v3.0h-3.0zM412.4 481.9h3.0v3.0h-3.0zM560.3 483.9h3.0v3.0h-3.0zM552.4 471.6h3.0v3.0h-3.0zM440.9 483.6h3.0v3.0h-3.0zM545.1 423.2h3.0v3.0h-3.0zM435.4 395.4h3.0v3.0h-3.0zM411.1 466.4h3.0v3.0h-3.0zM538.3 359.8h3.0v3.0h-3.0zM553.0 299.1h3.0v3.0h-3.0zM571.2 319.8h3.0v3.0h-3.0zM504.4 352.9h3.0v3.0h-3.0zM547.0 291.1h3.0v3.0h-3.0zM559.1 338.5h3.0v3.0h-3.0zM565.7 346.1h3.0v3.0h-3.0zM565.8 310.8h3.0v3.0h-3.0zM492.1 296.7h3.0v3.0h-3.0zM516.5 312.6h3.0v3.0h-3.0zM562.4 308.7h3.0v3.0h-3.0zM487.6 345.4h3.0v3.0h-3.0zM549.6 291.9h3.0v3.0h-3.0zM508.5 297.4h3.0v3.0h-3.0zM519.4 323.1h3.0v3.0h-3.0zM488.7 289.3h3.0v3.0h-3.0zM507.8 293.8h3.0v3.0h-3.0zM493.0 359.1h3.0v3.0h-3.0zM491.9 360.7h3.0v3.0h-3.0zM557.0 362.2h3.0v3.0h-3.0zM556.0 343.6h3.0v3.0h-3.0zM595.2 329.9h3.0v3.0h-3.0zM589.5 339.5h3.0v3.0h-3.0zM592.5 336.5h3.0v3.0h-3.0zM604.9 336.8h3.0v3.0h-3.0zM607.5 333.5h3.0v3.0h-3.0zM627.1 314.6h3.0v3.0h-3.0zM629.9 321.5h3.0v3.0h-3.0zM652.1 318.8h3.0v3.0h-3.0zM657.7 322.9h3.0v3.0h-3.0zM667.4 322.9h3.0v3.0h-3.0zM670.2 328.5h3.0v3.0h-3.0zM667.4 334.1h3.0v3.0h-3.0zM721.5 383.3h3.0v3.0h-3.0zM724.5 383.3h3.0v3.0h-3.0zM739.6 339.6h3.0v3.0h-3.0zM742.4 338.2h3.0v3.0h-3.0zM774.3 347.9h3.0v3.0h-3.0zM777.1 345.2h3.0v3.0h-3.0zM616.4 652.8h3.0v3.0h-3.0zM619.0 652.8h3.0v3.0h-3.0zM164.0 515.9h3.0v3.0h-3.0zM171.3 515.9h3.0v3.0h-3.0zM267.7 506.4h3.0v3.0h-3.0zM269.5 508.5h3.0v3.0h-3.0zM319.1 511.9h3.0v3.0h-3.0zM327.0 516.3h3.0v3.0h-3.0zM283.9 541.0h3.0v3.0h-3.0zM285.5 543.0h3.0v3.0h-3.0zM204.9 553.8h3.0v3.0h-3.0zM204.9 556.8h3.0v3.0h-3.0zM297.3 561.7h3.0v3.0h-3.0zM299.3 566.7h3.0v3.0h-3.0zM292.4 586.4h3.0v3.0h-3.0zM294.0 588.5h3.0v3.0h-3.0zM319.1 587.8h3.0v3.0h-3.0zM315.1 597.3h3.0v3.0h-3.0zM233.1 622.0h3.0v3.0h-3.0zM235.0 624.0h3.0v3.0h-3.0zM309.2 619.0h3.0v3.0h-3.0zM313.1 622.0h3.0v3.0h-3.0zM309.2 644.7h3.0v3.0h-3.0zM181.8 651.6h3.0v3.0h-3.0zM183.8 653.6h3.0v3.0h-3.0zM308.2 660.1h3.0v3.0h-3.0zM300.3 683.2h3.0v3.0h-3.0zM319.1 694.1h3.0v3.0h-3.0zM447.9 709.3h3.0v3.0h-3.0zM432.7 712.9h3.0v3.0h-3.0zM470.2 678.8h3.0v3.0h-3.0zM512.4 649.1h3.0v3.0h-3.0zM322.9 709.3h3.0v3.0h-3.0zM247.9 869.1h3.0v3.0h-3.0zM251.0 869.1h3.0v3.0h-3.0zM299.3 869.1h3.0v3.0h-3.0zM302.1 869.1h3.0v3.0h-3.0zM338.2 869.1h3.0v3.0h-3.0zM345.2 869.1h3.0v3.0h-3.0zM348.5 869.1h3.0v3.0h-3.0zM273.2 367.6h3.0v3.0h-3.0zM307.9 469.1h3.0v3.0h-3.0zM310.9 466.0h3.0v3.0h-3.0zM292.6 383.5h3.0v3.0h-3.0zM297.7 376.4h3.0v3.0h-3.0zM323.1 390.6h3.0v3.0h-3.0zM330.3 418.1h3.0v3.0h-3.0zM330.3 425.3h3.0v3.0h-3.0zM310.9 366.2h3.0v3.0h-3.0zM319.1 361.1h3.0v3.0h-3.0zM320.1 352.9h3.0v3.0h-3.0zM327.2 356.0h3.0v3.0h-3.0zM527.5 265.5h3.0v3.0h-3.0zM527.5 272.5h3.0v3.0h-3.0zM301.9 424.3h3.0v3.0h-3.0zM317.0 382.9h3.0v3.0h-3.0zM309.6 361.2h3.0v3.0h-3.0zM322.0 342.4h3.0v3.0h-3.0zM311.7 423.0h3.0v3.0h-3.0zM300.2 416.5h3.0v3.0h-3.0zM317.3 352.5h3.0v3.0h-3.0zM279.7 368.1h3.0v3.0h-3.0zM327.2 406.2h3.0v3.0h-3.0zM322.1 415.7h3.0v3.0h-3.0zM287.6 385.7h3.0v3.0h-3.0zM330.8 419.5h3.0v3.0h-3.0zM300.1 423.1h3.0v3.0h-3.0zM299.0 375.8h3.0v3.0h-3.0z"/><path fill="rgb(173, 112, 72)" d="M523.9 597.9h3.0v3.0h-3.0zM452.8 502.9h3.0v3.0h-3.0zM411.1 517.8h3.0v3.0h-3.0zM569.1 566.0h3.0v3.0h-3.0zM421.8 511.9h3.0v3.0h-3.0zM432.0 695.7h3.0v3.0h-3.0zM514.7 614.5h3.0v3.0h-3.0zM373.6 555.0h3.0v3.0h-3.0zM346.1 542.2h3.0v3.0h-3.0zM537.6 578.2h3.0v3.0h-3.0zM426.9 506.9h3.0v3.0h-3.0zM322.6 647.0h3.0v3.0h-3.0zM396.2 711.1h3.0v3.0h-3.0zM379.2 707.2h3.0v3.0h-3.0zM412.5 517.4h3.0v3.0h-3.0zM563.3 445.7h3.0v3.0h-3.0zM376.9 533.0h3.0v3.0h-3.0zM571.6 538.1h3.0v3.0h-3.0zM546.1 566.6h3.0v3.0h-3.0zM339.3 577.7h3.0v3.0h-3.0zM395.9 528.1h3.0v3.0h-3.0zM434.7 673.5h3.0v3.0h-3.0zM335.2 550.0h3.0v3.0h-3.0zM567.7 562.9h3.0v3.0h-3.0zM568.7 554.6h3.0v3.0h-3.0zM497.4 649.8h3.0v3.0h-3.0zM391.3 543.4h3.0v3.0h-3.0zM504.7 502.1h3.0v3.0h-3.0zM412.5 698.0h3.0v3.0h-3.0zM517.1 612.9h3.0v3.0h-3.0zM527.0 594.4h3.0v3.0h-3.0zM462.5 672.3h3.0v3.0h-3.0zM463.0 670.8h3.0v3.0h-3.0zM457.7 506.7h3.0v3.0h-3.0zM324.3 665.8h3.0v3.0h-3.0zM338.6 581.3h3.0v3.0h-3.0zM428.1 500.2h3.0v3.0h-3.0zM328.4 603.8h3.0v3.0h-3.0zM438.4 676.2h3.0v3.0h-3.0zM370.3 557.9h3.0v3.0h-3.0zM317.0 591.2h3.0v3.0h-3.0zM474.1 662.5h3.0v3.0h-3.0zM322.9 696.8h3.0v3.0h-3.0zM527.8 555.1h3.0v3.0h-3.0zM517.4 599.5h3.0v3.0h-3.0zM544.7 535.7h3.0v3.0h-3.0zM432.5 501.7h3.0v3.0h-3.0zM340.8 549.6h3.0v3.0h-3.0zM396.9 537.8h3.0v3.0h-3.0zM346.3 709.9h3.0v3.0h-3.0zM468.4 500.0h3.0v3.0h-3.0zM332.1 561.9h3.0v3.0h-3.0zM562.7 487.0h3.0v3.0h-3.0zM454.5 664.2h3.0v3.0h-3.0zM404.6 699.7h3.0v3.0h-3.0zM542.7 553.7h3.0v3.0h-3.0zM364.7 573.2h3.0v3.0h-3.0zM369.5 538.7h3.0v3.0h-3.0zM496.7 639.2h3.0v3.0h-3.0zM439.5 667.0h3.0v3.0h-3.0zM338.9 707.1h3.0v3.0h-3.0zM382.1 707.9h3.0v3.0h-3.0zM409.2 702.2h3.0v3.0h-3.0zM423.0 515.4h3.0v3.0h-3.0zM534.3 565.2h3.0v3.0h-3.0zM504.6 500.5h3.0v3.0h-3.0zM324.8 727.7h3.0v3.0h-3.0zM413.3 697.7h3.0v3.0h-3.0zM320.5 702.9h3.0v3.0h-3.0zM340.7 546.5h3.0v3.0h-3.0zM319.9 585.2h3.0v3.0h-3.0zM492.2 646.2h3.0v3.0h-3.0zM399.6 701.6h3.0v3.0h-3.0zM403.8 697.3h3.0v3.0h-3.0zM342.9 586.4h3.0v3.0h-3.0zM355.2 575.1h3.0v3.0h-3.0zM358.8 548.6h3.0v3.0h-3.0zM430.4 503.9h3.0v3.0h-3.0zM327.3 735.3h3.0v3.0h-3.0zM364.3 540.1h3.0v3.0h-3.0zM395.0 526.8h3.0v3.0h-3.0zM366.3 574.5h3.0v3.0h-3.0zM549.2 582.0h3.0v3.0h-3.0zM504.1 628.0h3.0v3.0h-3.0zM313.8 671.6h3.0v3.0h-3.0zM378.5 535.6h3.0v3.0h-3.0zM332.9 568.5h3.0v3.0h-3.0zM382.2 531.3h3.0v3.0h-3.0zM334.7 650.6h3.0v3.0h-3.0zM367.8 539.0h3.0v3.0h-3.0zM541.2 572.7h3.0v3.0h-3.0zM438.0 690.4h3.0v3.0h-3.0zM473.3 641.7h3.0v3.0h-3.0zM352.0 550.0h3.0v3.0h-3.0zM455.4 664.0h3.0v3.0h-3.0zM504.3 633.9h3.0v3.0h-3.0zM406.5 694.6h3.0v3.0h-3.0zM421.1 695.5h3.0v3.0h-3.0zM548.4 564.1h3.0v3.0h-3.0zM491.7 499.8h3.0v3.0h-3.0zM446.8 498.3h3.0v3.0h-3.0zM335.7 648.8h3.0v3.0h-3.0zM349.5 572.2h3.0v3.0h-3.0zM496.1 635.6h3.0v3.0h-3.0zM351.7 582.2h3.0v3.0h-3.0zM326.8 620.4h3.0v3.0h-3.0zM452.5 669.1h3.0v3.0h-3.0zM348.9 571.4h3.0v3.0h-3.0zM333.4 606.1h3.0v3.0h-3.0zM348.2 577.9h3.0v3.0h-3.0zM551.4 554.7h3.0v3.0h-3.0zM552.0 558.1h3.0v3.0h-3.0zM480.5 498.8h3.0v3.0h-3.0zM406.4 524.8h3.0v3.0h-3.0zM405.3 536.1h3.0v3.0h-3.0zM528.6 601.0h3.0v3.0h-3.0zM566.1 558.5h3.0v3.0h-3.0zM328.2 602.1h3.0v3.0h-3.0zM373.3 567.6h3.0v3.0h-3.0zM516.2 604.7h3.0v3.0h-3.0zM496.8 649.9h3.0v3.0h-3.0zM566.4 556.1h3.0v3.0h-3.0zM543.2 541.2h3.0v3.0h-3.0zM310.9 653.6h3.0v3.0h-3.0zM334.0 566.8h3.0v3.0h-3.0zM537.2 576.4h3.0v3.0h-3.0zM482.5 498.0h3.0v3.0h-3.0zM366.6 551.7h3.0v3.0h-3.0zM456.1 508.7h3.0v3.0h-3.0zM341.6 572.1h3.0v3.0h-3.0zM355.1 323.4h3.0v3.0h-3.0zM333.9 329.3h3.0v3.0h-3.0zM409.2 317.1h3.0v3.0h-3.0zM388.6 361.0h3.0v3.0h-3.0zM347.4 333.3h3.0v3.0h-3.0zM421.6 312.0h3.0v3.0h-3.0zM455.1 349.2h3.0v3.0h-3.0zM479.3 344.5h3.0v3.0h-3.0zM465.0 318.6h3.0v3.0h-3.0zM496.5 341.4h3.0v3.0h-3.0zM500.4 343.0h3.0v3.0h-3.0zM465.8 320.7h3.0v3.0h-3.0zM478.4 342.6h3.0v3.0h-3.0zM461.7 321.8h3.0v3.0h-3.0zM484.0 356.3h3.0v3.0h-3.0zM403.6 313.7h3.0v3.0h-3.0zM312.4 386.7h3.0v3.0h-3.0zM386.6 372.7h3.0v3.0h-3.0zM340.2 365.5h3.0v3.0h-3.0zM356.2 372.3h3.0v3.0h-3.0zM504.9 357.1h3.0v3.0h-3.0zM375.6 390.2h3.0v3.0h-3.0zM462.3 382.7h3.0v3.0h-3.0zM477.0 307.0h3.0v3.0h-3.0zM457.3 380.4h3.0v3.0h-3.0zM390.6 373.1h3.0v3.0h-3.0zM452.5 358.7h3.0v3.0h-3.0zM387.3 383.5h3.0v3.0h-3.0zM466.0 384.0h3.0v3.0h-3.0zM346.5 381.0h3.0v3.0h-3.0zM366.6 385.9h3.0v3.0h-3.0zM389.1 382.6h3.0v3.0h-3.0zM515.5 344.3h3.0v3.0h-3.0zM530.4 368.8h3.0v3.0h-3.0zM390.3 313.2h3.0v3.0h-3.0zM416.3 369.5h3.0v3.0h-3.0zM348.3 367.2h3.0v3.0h-3.0zM427.8 392.9h3.0v3.0h-3.0zM364.5 371.7h3.0v3.0h-3.0zM458.3 431.5h3.0v3.0h-3.0zM480.3 300.2h3.0v3.0h-3.0zM420.4 404.7h3.0v3.0h-3.0zM410.8 398.3h3.0v3.0h-3.0zM384.3 365.2h3.0v3.0h-3.0zM470.9 342.4h3.0v3.0h-3.0zM321.7 376.0h3.0v3.0h-3.0zM494.8 347.4h3.0v3.0h-3.0zM525.9 399.6h3.0v3.0h-3.0zM468.6 405.8h3.0v3.0h-3.0zM371.8 398.1h3.0v3.0h-3.0zM341.6 361.0h3.0v3.0h-3.0zM382.8 366.2h3.0v3.0h-3.0zM530.9 368.9h3.0v3.0h-3.0zM364.2 379.0h3.0v3.0h-3.0zM479.0 344.6h3.0v3.0h-3.0zM396.6 363.3h3.0v3.0h-3.0zM457.1 425.6h3.0v3.0h-3.0zM398.4 394.7h3.0v3.0h-3.0zM449.4 393.0h3.0v3.0h-3.0zM418.3 368.6h3.0v3.0h-3.0zM423.8 397.5h3.0v3.0h-3.0zM319.4 368.1h3.0v3.0h-3.0zM371.9 386.6h3.0v3.0h-3.0zM525.1 396.9h3.0v3.0h-3.0zM297.4 378.9h3.0v3.0h-3.0zM486.8 293.5h3.0v3.0h-3.0zM433.1 378.2h3.0v3.0h-3.0zM464.2 384.4h3.0v3.0h-3.0zM489.0 353.3h3.0v3.0h-3.0zM396.0 372.8h3.0v3.0h-3.0zM467.1 406.6h3.0v3.0h-3.0zM392.7 373.9h3.0v3.0h-3.0zM393.4 401.2h3.0v3.0h-3.0zM452.1 377.4h3.0v3.0h-3.0zM534.7 367.2h3.0v3.0h-3.0zM378.4 365.5h3.0v3.0h-3.0zM388.4 384.8h3.0v3.0h-3.0zM458.5 393.0h3.0v3.0h-3.0zM461.2 405.2h3.0v3.0h-3.0zM435.0 381.4h3.0v3.0h-3.0zM349.2 361.7h3.0v3.0h-3.0zM347.0 330.2h3.0v3.0h-3.0zM508.3 391.5h3.0v3.0h-3.0zM359.2 376.4h3.0v3.0h-3.0zM462.8 344.8h3.0v3.0h-3.0zM382.6 373.8h3.0v3.0h-3.0zM380.0 386.5h3.0v3.0h-3.0zM403.2 355.1h3.0v3.0h-3.0zM335.1 334.4h3.0v3.0h-3.0zM363.1 426.8h3.0v3.0h-3.0zM458.1 391.7h3.0v3.0h-3.0zM331.1 344.9h3.0v3.0h-3.0zM338.2 393.4h3.0v3.0h-3.0zM359.9 356.3h3.0v3.0h-3.0zM401.3 369.6h3.0v3.0h-3.0zM329.8 333.9h3.0v3.0h-3.0zM361.9 370.1h3.0v3.0h-3.0zM363.4 389.1h3.0v3.0h-3.0zM470.0 391.1h3.0v3.0h-3.0zM426.6 390.5h3.0v3.0h-3.0zM558.4 443.8h3.0v3.0h-3.0zM461.9 480.1h3.0v3.0h-3.0zM359.4 430.0h3.0v3.0h-3.0zM446.5 385.1h3.0v3.0h-3.0zM404.7 425.2h3.0v3.0h-3.0zM358.4 429.7h3.0v3.0h-3.0zM444.7 394.9h3.0v3.0h-3.0zM394.1 383.4h3.0v3.0h-3.0zM422.7 411.1h3.0v3.0h-3.0zM471.6 403.1h3.0v3.0h-3.0zM545.1 413.3h3.0v3.0h-3.0zM509.7 388.2h3.0v3.0h-3.0zM412.6 411.4h3.0v3.0h-3.0zM460.7 400.9h3.0v3.0h-3.0zM462.6 483.3h3.0v3.0h-3.0zM410.8 397.0h3.0v3.0h-3.0zM363.1 427.8h3.0v3.0h-3.0zM362.0 395.8h3.0v3.0h-3.0zM421.1 403.4h3.0v3.0h-3.0zM561.7 489.3h3.0v3.0h-3.0zM486.4 350.6h3.0v3.0h-3.0zM489.4 321.1h3.0v3.0h-3.0zM476.9 304.3h3.0v3.0h-3.0zM510.7 339.3h3.0v3.0h-3.0zM500.9 347.6h3.0v3.0h-3.0zM560.4 344.7h3.0v3.0h-3.0zM517.0 347.7h3.0v3.0h-3.0zM481.0 302.2h3.0v3.0h-3.0zM478.2 302.1h3.0v3.0h-3.0zM549.4 294.8h3.0v3.0h-3.0zM509.4 362.9h3.0v3.0h-3.0zM473.8 318.7h3.0v3.0h-3.0zM327.0 584.4h3.0v3.0h-3.0zM323.0 601.2h3.0v3.0h-3.0zM325.0 613.1h3.0v3.0h-3.0zM318.1 645.7h3.0v3.0h-3.0zM496.5 644.1h3.0v3.0h-3.0zM332.7 709.3h3.0v3.0h-3.0zM331.3 701.8h3.0v3.0h-3.0zM310.9 376.4h3.0v3.0h-3.0zM307.9 401.8h3.0v3.0h-3.0zM307.9 413.6h3.0v3.0h-3.0zM315.0 417.7h3.0v3.0h-3.0zM322.9 345.7h3.0v3.0h-3.0zM330.9 333.7h3.0v3.0h-3.0zM489.5 292.5h3.0v3.0h-3.0zM332.8 398.4h3.0v3.0h-3.0zM309.1 390.1h3.0v3.0h-3.0zM334.5 353.0h3.0v3.0h-3.0zM308.2 407.7h3.0v3.0h-3.0zM310.0 397.3h3.0v3.0h-3.0zM312.4 417.2h3.0v3.0h-3.0zM309.1 374.2h3.0v3.0h-3.0zM337.8 395.3h3.0v3.0h-3.0zM310.8 406.7h3.0v3.0h-3.0zM317.1 367.3h3.0v3.0h-3.0zM328.6 403.7h3.0v3.0h-3.0zM313.1 391.1h3.0v3.0h-3.0zM309.2 374.7h3.0v3.0h-3.0zM323.9 378.7h3.0v3.0h-3.0zM310.1 377.3h3.0v3.0h-3.0zM331.9 358.7h3.0v3.0h-3.0zM327.0 390.9h3.0v3.0h-3.0z"/><path fill="rgb(189, 112, 63)" d="M492.5 617.6h3.0v3.0h-3.0zM570.6 561.1h3.0v3.0h-3.0zM374.6 557.1h3.0v3.0h-3.0zM476.0 635.7h3.0v3.0h-3.0zM379.0 546.0h3.0v3.0h-3.0zM345.8 587.4h3.0v3.0h-3.0zM397.5 536.6h3.0v3.0h-3.0zM327.4 730.8h3.0v3.0h-3.0zM443.9 501.0h3.0v3.0h-3.0zM441.1 498.0h3.0v3.0h-3.0zM390.5 684.0h3.0v3.0h-3.0zM414.8 681.8h3.0v3.0h-3.0zM477.1 657.0h3.0v3.0h-3.0zM441.9 500.9h3.0v3.0h-3.0zM328.2 733.9h3.0v3.0h-3.0zM392.7 703.3h3.0v3.0h-3.0zM473.2 664.8h3.0v3.0h-3.0zM421.5 691.9h3.0v3.0h-3.0zM326.5 733.0h3.0v3.0h-3.0zM413.0 520.0h3.0v3.0h-3.0zM326.1 706.8h3.0v3.0h-3.0zM323.8 645.3h3.0v3.0h-3.0zM501.7 618.5h3.0v3.0h-3.0zM368.5 552.5h3.0v3.0h-3.0zM547.6 548.0h3.0v3.0h-3.0zM419.4 686.2h3.0v3.0h-3.0zM419.5 681.4h3.0v3.0h-3.0zM471.8 670.9h3.0v3.0h-3.0zM545.1 554.7h3.0v3.0h-3.0zM425.2 668.0h3.0v3.0h-3.0zM328.0 635.3h3.0v3.0h-3.0zM383.1 707.7h3.0v3.0h-3.0zM548.0 567.1h3.0v3.0h-3.0zM439.3 500.2h3.0v3.0h-3.0zM569.7 534.4h3.0v3.0h-3.0zM472.7 665.0h3.0v3.0h-3.0zM329.9 591.5h3.0v3.0h-3.0zM432.4 682.3h3.0v3.0h-3.0zM329.5 640.1h3.0v3.0h-3.0zM508.0 611.3h3.0v3.0h-3.0zM419.3 696.0h3.0v3.0h-3.0zM368.1 682.3h3.0v3.0h-3.0zM390.4 707.8h3.0v3.0h-3.0zM327.4 657.2h3.0v3.0h-3.0zM368.2 547.4h3.0v3.0h-3.0zM326.9 696.9h3.0v3.0h-3.0zM344.3 708.7h3.0v3.0h-3.0zM434.0 676.2h3.0v3.0h-3.0zM380.8 543.4h3.0v3.0h-3.0zM546.8 572.1h3.0v3.0h-3.0zM529.2 590.2h3.0v3.0h-3.0zM430.1 518.1h3.0v3.0h-3.0zM420.0 690.1h3.0v3.0h-3.0zM408.4 528.3h3.0v3.0h-3.0zM370.5 547.6h3.0v3.0h-3.0zM327.8 638.9h3.0v3.0h-3.0zM331.7 702.0h3.0v3.0h-3.0zM326.0 649.9h3.0v3.0h-3.0zM548.1 546.1h3.0v3.0h-3.0zM357.0 693.1h3.0v3.0h-3.0zM461.5 506.6h3.0v3.0h-3.0zM437.4 511.5h3.0v3.0h-3.0zM429.0 693.1h3.0v3.0h-3.0zM511.0 616.3h3.0v3.0h-3.0zM378.5 536.7h3.0v3.0h-3.0zM327.9 618.9h3.0v3.0h-3.0zM372.6 570.0h3.0v3.0h-3.0zM389.7 705.5h3.0v3.0h-3.0zM564.1 544.0h3.0v3.0h-3.0zM338.5 568.7h3.0v3.0h-3.0zM432.8 512.6h3.0v3.0h-3.0zM536.2 540.1h3.0v3.0h-3.0zM384.6 542.9h3.0v3.0h-3.0zM355.1 325.0h3.0v3.0h-3.0zM362.9 320.2h3.0v3.0h-3.0zM384.9 355.1h3.0v3.0h-3.0zM352.0 319.5h3.0v3.0h-3.0zM344.6 350.4h3.0v3.0h-3.0zM511.0 345.1h3.0v3.0h-3.0zM477.8 355.9h3.0v3.0h-3.0zM493.9 343.4h3.0v3.0h-3.0zM516.8 356.7h3.0v3.0h-3.0zM418.1 321.2h3.0v3.0h-3.0zM421.4 359.4h3.0v3.0h-3.0zM356.0 323.3h3.0v3.0h-3.0zM402.5 362.9h3.0v3.0h-3.0zM431.7 311.4h3.0v3.0h-3.0zM492.8 325.2h3.0v3.0h-3.0zM344.1 335.8h3.0v3.0h-3.0zM446.2 345.2h3.0v3.0h-3.0zM469.1 343.9h3.0v3.0h-3.0zM464.4 358.2h3.0v3.0h-3.0zM463.5 370.6h3.0v3.0h-3.0zM457.5 371.5h3.0v3.0h-3.0zM504.4 386.3h3.0v3.0h-3.0zM418.1 409.9h3.0v3.0h-3.0zM329.5 344.1h3.0v3.0h-3.0zM425.4 385.7h3.0v3.0h-3.0zM362.7 362.3h3.0v3.0h-3.0zM410.9 386.8h3.0v3.0h-3.0zM329.9 348.8h3.0v3.0h-3.0zM443.8 363.1h3.0v3.0h-3.0zM445.2 388.8h3.0v3.0h-3.0zM329.1 368.1h3.0v3.0h-3.0zM522.7 363.8h3.0v3.0h-3.0zM371.3 375.1h3.0v3.0h-3.0zM447.1 385.9h3.0v3.0h-3.0zM467.1 386.8h3.0v3.0h-3.0zM439.4 369.6h3.0v3.0h-3.0zM401.4 392.7h3.0v3.0h-3.0zM347.1 355.7h3.0v3.0h-3.0zM367.2 360.0h3.0v3.0h-3.0zM367.1 397.3h3.0v3.0h-3.0zM369.8 371.9h3.0v3.0h-3.0zM459.3 371.8h3.0v3.0h-3.0zM525.5 362.5h3.0v3.0h-3.0zM464.4 369.3h3.0v3.0h-3.0zM400.2 395.7h3.0v3.0h-3.0zM524.2 361.6h3.0v3.0h-3.0zM460.7 394.4h3.0v3.0h-3.0zM513.7 353.5h3.0v3.0h-3.0zM377.6 392.1h3.0v3.0h-3.0zM467.0 404.0h3.0v3.0h-3.0zM373.8 386.5h3.0v3.0h-3.0zM463.8 369.7h3.0v3.0h-3.0zM429.3 385.2h3.0v3.0h-3.0zM403.5 367.2h3.0v3.0h-3.0zM426.6 385.8h3.0v3.0h-3.0zM323.1 382.6h3.0v3.0h-3.0zM411.6 363.2h3.0v3.0h-3.0zM372.5 397.1h3.0v3.0h-3.0zM509.3 383.6h3.0v3.0h-3.0zM510.2 386.6h3.0v3.0h-3.0zM459.4 393.7h3.0v3.0h-3.0zM399.9 394.2h3.0v3.0h-3.0zM431.8 376.8h3.0v3.0h-3.0zM372.6 397.5h3.0v3.0h-3.0zM512.6 356.2h3.0v3.0h-3.0zM523.5 360.2h3.0v3.0h-3.0zM515.0 360.0h3.0v3.0h-3.0zM329.9 593.3h3.0v3.0h-3.0zM324.3 731.5h3.0v3.0h-3.0zM342.4 712.9h3.0v3.0h-3.0zM326.2 383.5h3.0v3.0h-3.0zM330.0 344.8h3.0v3.0h-3.0zM320.5 372.9h3.0v3.0h-3.0zM330.2 345.1h3.0v3.0h-3.0z"/><path fill="rgb(205, 112, 54)" d="M338.8 639.2h3.0v3.0h-3.0zM500.3 606.7h3.0v3.0h-3.0zM488.3 620.9h3.0v3.0h-3.0zM565.6 525.2h3.0v3.0h-3.0zM344.0 583.3h3.0v3.0h-3.0zM547.0 548.0h3.0v3.0h-3.0zM536.4 531.7h3.0v3.0h-3.0zM496.9 619.6h3.0v3.0h-3.0zM336.1 567.2h3.0v3.0h-3.0zM547.9 560.8h3.0v3.0h-3.0zM371.4 542.5h3.0v3.0h-3.0zM333.3 651.3h3.0v3.0h-3.0zM525.2 500.1h3.0v3.0h-3.0zM467.7 635.7h3.0v3.0h-3.0zM491.6 616.6h3.0v3.0h-3.0zM472.9 501.6h3.0v3.0h-3.0zM469.3 641.5h3.0v3.0h-3.0zM524.8 549.0h3.0v3.0h-3.0zM364.6 690.2h3.0v3.0h-3.0zM482.4 506.5h3.0v3.0h-3.0zM553.8 545.4h3.0v3.0h-3.0zM441.7 505.2h3.0v3.0h-3.0zM482.1 628.3h3.0v3.0h-3.0zM338.2 642.4h3.0v3.0h-3.0zM328.4 617.1h3.0v3.0h-3.0zM549.3 534.2h3.0v3.0h-3.0zM320.3 673.9h3.0v3.0h-3.0zM396.6 684.7h3.0v3.0h-3.0zM502.2 622.9h3.0v3.0h-3.0zM567.4 518.4h3.0v3.0h-3.0zM423.3 677.3h3.0v3.0h-3.0zM403.0 528.2h3.0v3.0h-3.0zM424.5 676.6h3.0v3.0h-3.0zM376.9 543.5h3.0v3.0h-3.0zM488.3 634.8h3.0v3.0h-3.0zM441.7 511.5h3.0v3.0h-3.0zM499.5 612.2h3.0v3.0h-3.0zM428.9 672.7h3.0v3.0h-3.0zM521.0 567.3h3.0v3.0h-3.0zM561.6 515.3h3.0v3.0h-3.0zM336.6 653.5h3.0v3.0h-3.0zM328.0 689.7h3.0v3.0h-3.0zM425.7 512.4h3.0v3.0h-3.0zM467.7 503.4h3.0v3.0h-3.0zM550.0 516.1h3.0v3.0h-3.0zM424.0 676.9h3.0v3.0h-3.0zM371.4 542.2h3.0v3.0h-3.0zM565.4 523.1h3.0v3.0h-3.0zM550.8 499.8h3.0v3.0h-3.0zM324.9 698.8h3.0v3.0h-3.0zM331.9 591.4h3.0v3.0h-3.0zM565.4 541.0h3.0v3.0h-3.0zM541.5 521.0h3.0v3.0h-3.0zM415.7 520.7h3.0v3.0h-3.0zM334.0 584.7h3.0v3.0h-3.0zM369.1 686.8h3.0v3.0h-3.0zM432.5 515.1h3.0v3.0h-3.0zM549.8 536.7h3.0v3.0h-3.0zM368.1 573.7h3.0v3.0h-3.0zM503.7 617.8h3.0v3.0h-3.0zM421.9 519.9h3.0v3.0h-3.0zM454.3 656.2h3.0v3.0h-3.0zM415.2 671.1h3.0v3.0h-3.0zM384.4 699.6h3.0v3.0h-3.0zM365.9 691.1h3.0v3.0h-3.0zM346.5 647.0h3.0v3.0h-3.0zM324.3 669.8h3.0v3.0h-3.0zM465.1 673.3h3.0v3.0h-3.0zM496.5 609.1h3.0v3.0h-3.0zM344.4 590.7h3.0v3.0h-3.0zM480.0 634.0h3.0v3.0h-3.0zM506.0 611.1h3.0v3.0h-3.0zM369.4 710.4h3.0v3.0h-3.0zM490.3 505.0h3.0v3.0h-3.0zM392.2 690.2h3.0v3.0h-3.0zM371.4 675.4h3.0v3.0h-3.0zM528.6 548.0h3.0v3.0h-3.0zM468.0 674.2h3.0v3.0h-3.0zM498.5 626.9h3.0v3.0h-3.0zM566.3 532.8h3.0v3.0h-3.0zM426.7 523.3h3.0v3.0h-3.0zM521.2 567.4h3.0v3.0h-3.0zM487.1 634.3h3.0v3.0h-3.0zM515.4 599.4h3.0v3.0h-3.0zM324.5 669.0h3.0v3.0h-3.0zM363.3 709.4h3.0v3.0h-3.0zM421.5 673.2h3.0v3.0h-3.0zM359.2 579.5h3.0v3.0h-3.0zM457.3 517.6h3.0v3.0h-3.0zM431.1 690.8h3.0v3.0h-3.0zM316.7 676.0h3.0v3.0h-3.0zM338.4 598.5h3.0v3.0h-3.0zM378.4 550.8h3.0v3.0h-3.0zM319.2 682.2h3.0v3.0h-3.0zM543.9 577.1h3.0v3.0h-3.0zM368.5 684.3h3.0v3.0h-3.0zM512.0 608.7h3.0v3.0h-3.0zM398.6 541.3h3.0v3.0h-3.0zM391.2 682.4h3.0v3.0h-3.0zM481.1 506.5h3.0v3.0h-3.0zM319.0 682.6h3.0v3.0h-3.0zM322.6 641.8h3.0v3.0h-3.0zM407.9 538.1h3.0v3.0h-3.0zM432.6 514.5h3.0v3.0h-3.0zM498.6 619.1h3.0v3.0h-3.0zM452.2 508.8h3.0v3.0h-3.0zM469.9 669.4h3.0v3.0h-3.0zM375.9 706.4h3.0v3.0h-3.0zM460.0 637.3h3.0v3.0h-3.0zM398.0 532.1h3.0v3.0h-3.0zM329.6 588.3h3.0v3.0h-3.0zM471.4 659.8h3.0v3.0h-3.0zM360.9 573.9h3.0v3.0h-3.0zM374.2 701.6h3.0v3.0h-3.0zM510.7 506.6h3.0v3.0h-3.0zM551.5 500.3h3.0v3.0h-3.0zM518.2 504.5h3.0v3.0h-3.0zM551.0 500.9h3.0v3.0h-3.0zM560.6 506.5h3.0v3.0h-3.0zM553.5 501.6h3.0v3.0h-3.0zM519.3 503.2h3.0v3.0h-3.0zM527.3 500.8h3.0v3.0h-3.0zM399.0 531.1h3.0v3.0h-3.0zM518.7 503.0h3.0v3.0h-3.0zM548.0 499.8h3.0v3.0h-3.0zM564.2 514.0h3.0v3.0h-3.0zM446.0 510.2h3.0v3.0h-3.0zM347.4 347.5h3.0v3.0h-3.0zM345.4 356.8h3.0v3.0h-3.0zM352.5 350.2h3.0v3.0h-3.0zM351.1 333.4h3.0v3.0h-3.0zM353.9 345.0h3.0v3.0h-3.0zM373.1 354.3h3.0v3.0h-3.0zM352.5 343.0h3.0v3.0h-3.0zM370.0 320.8h3.0v3.0h-3.0zM436.6 316.7h3.0v3.0h-3.0zM426.7 313.1h3.0v3.0h-3.0zM368.4 357.4h3.0v3.0h-3.0zM385.3 352.5h3.0v3.0h-3.0zM463.6 330.1h3.0v3.0h-3.0zM420.0 355.2h3.0v3.0h-3.0zM449.0 319.1h3.0v3.0h-3.0zM512.6 351.1h3.0v3.0h-3.0zM452.8 352.4h3.0v3.0h-3.0zM472.3 332.6h3.0v3.0h-3.0zM486.7 325.0h3.0v3.0h-3.0zM376.8 352.1h3.0v3.0h-3.0zM475.7 323.7h3.0v3.0h-3.0zM453.9 320.6h3.0v3.0h-3.0zM449.3 342.5h3.0v3.0h-3.0zM358.1 346.4h3.0v3.0h-3.0zM490.5 337.8h3.0v3.0h-3.0zM477.9 335.4h3.0v3.0h-3.0zM450.9 319.5h3.0v3.0h-3.0zM493.8 333.7h3.0v3.0h-3.0zM445.4 350.2h3.0v3.0h-3.0zM462.9 341.1h3.0v3.0h-3.0zM441.8 321.4h3.0v3.0h-3.0zM431.5 364.0h3.0v3.0h-3.0zM429.7 355.6h3.0v3.0h-3.0zM336.7 368.2h3.0v3.0h-3.0zM367.3 394.9h3.0v3.0h-3.0zM444.1 379.1h3.0v3.0h-3.0zM430.6 363.8h3.0v3.0h-3.0zM407.4 363.0h3.0v3.0h-3.0zM441.4 375.7h3.0v3.0h-3.0zM417.7 385.2h3.0v3.0h-3.0zM411.3 361.1h3.0v3.0h-3.0zM342.2 373.7h3.0v3.0h-3.0zM328.3 363.6h3.0v3.0h-3.0zM465.3 392.7h3.0v3.0h-3.0zM342.5 363.9h3.0v3.0h-3.0zM345.8 349.6h3.0v3.0h-3.0zM375.0 372.0h3.0v3.0h-3.0zM400.9 391.4h3.0v3.0h-3.0zM484.4 337.7h3.0v3.0h-3.0zM405.5 372.1h3.0v3.0h-3.0zM454.0 352.3h3.0v3.0h-3.0zM467.8 336.8h3.0v3.0h-3.0zM388.5 357.2h3.0v3.0h-3.0zM419.0 355.6h3.0v3.0h-3.0zM438.6 346.7h3.0v3.0h-3.0zM378.4 373.6h3.0v3.0h-3.0zM440.1 373.4h3.0v3.0h-3.0zM411.1 361.7h3.0v3.0h-3.0zM363.9 358.4h3.0v3.0h-3.0zM426.3 375.3h3.0v3.0h-3.0zM463.8 356.9h3.0v3.0h-3.0zM401.3 355.4h3.0v3.0h-3.0zM395.0 356.5h3.0v3.0h-3.0zM425.5 374.5h3.0v3.0h-3.0zM345.1 349.3h3.0v3.0h-3.0zM397.0 359.6h3.0v3.0h-3.0zM460.9 354.4h3.0v3.0h-3.0zM440.7 369.3h3.0v3.0h-3.0zM406.5 392.9h3.0v3.0h-3.0zM435.6 368.1h3.0v3.0h-3.0zM454.4 353.7h3.0v3.0h-3.0zM458.1 373.1h3.0v3.0h-3.0zM335.3 383.0h3.0v3.0h-3.0zM422.2 354.3h3.0v3.0h-3.0zM461.9 324.5h3.0v3.0h-3.0zM482.9 327.5h3.0v3.0h-3.0zM408.1 385.4h3.0v3.0h-3.0zM405.6 384.0h3.0v3.0h-3.0zM375.0 374.4h3.0v3.0h-3.0zM447.7 381.8h3.0v3.0h-3.0zM445.8 377.4h3.0v3.0h-3.0zM406.1 376.2h3.0v3.0h-3.0zM409.9 365.0h3.0v3.0h-3.0zM430.9 378.7h3.0v3.0h-3.0zM373.0 373.6h3.0v3.0h-3.0zM441.8 375.5h3.0v3.0h-3.0zM407.6 385.5h3.0v3.0h-3.0zM522.1 359.0h3.0v3.0h-3.0zM480.1 338.5h3.0v3.0h-3.0zM495.2 333.3h3.0v3.0h-3.0zM527.7 366.4h3.0v3.0h-3.0zM328.9 640.7h3.0v3.0h-3.0zM328.9 656.5h3.0v3.0h-3.0zM316.1 678.3h3.0v3.0h-3.0zM317.5 680.5h3.0v3.0h-3.0zM328.1 370.7h3.0v3.0h-3.0zM331.8 376.3h3.0v3.0h-3.0zM332.0 379.8h3.0v3.0h-3.0zM330.3 384.7h3.0v3.0h-3.0z"/><path fill="rgb(222, 112, 45)" d="M526.7 583.6h3.0v3.0h-3.0zM473.1 506.2h3.0v3.0h-3.0zM376.5 563.6h3.0v3.0h-3.0zM355.0 689.1h3.0v3.0h-3.0zM410.5 527.3h3.0v3.0h-3.0zM381.3 670.3h3.0v3.0h-3.0zM380.8 670.4h3.0v3.0h-3.0zM468.5 635.0h3.0v3.0h-3.0zM543.5 509.3h3.0v3.0h-3.0zM443.2 519.4h3.0v3.0h-3.0zM370.1 698.4h3.0v3.0h-3.0zM501.5 602.9h3.0v3.0h-3.0zM352.9 707.7h3.0v3.0h-3.0zM547.4 501.4h3.0v3.0h-3.0zM388.9 546.4h3.0v3.0h-3.0zM497.7 632.4h3.0v3.0h-3.0zM427.1 681.2h3.0v3.0h-3.0zM558.4 508.4h3.0v3.0h-3.0zM398.2 672.5h3.0v3.0h-3.0zM420.7 665.8h3.0v3.0h-3.0zM471.9 654.1h3.0v3.0h-3.0zM548.3 524.6h3.0v3.0h-3.0zM518.4 543.5h3.0v3.0h-3.0zM564.7 534.6h3.0v3.0h-3.0zM335.4 591.4h3.0v3.0h-3.0zM324.7 680.8h3.0v3.0h-3.0zM499.7 502.9h3.0v3.0h-3.0zM457.9 640.3h3.0v3.0h-3.0zM422.4 659.4h3.0v3.0h-3.0zM483.3 630.0h3.0v3.0h-3.0zM424.9 687.5h3.0v3.0h-3.0zM352.1 686.9h3.0v3.0h-3.0zM383.9 547.1h3.0v3.0h-3.0zM451.8 641.9h3.0v3.0h-3.0zM558.6 536.7h3.0v3.0h-3.0zM522.8 575.2h3.0v3.0h-3.0zM388.0 572.0h3.0v3.0h-3.0zM367.3 654.6h3.0v3.0h-3.0zM512.2 507.2h3.0v3.0h-3.0zM423.4 647.5h3.0v3.0h-3.0zM427.5 661.8h3.0v3.0h-3.0zM489.3 630.0h3.0v3.0h-3.0zM553.4 537.9h3.0v3.0h-3.0zM344.8 627.7h3.0v3.0h-3.0zM390.2 695.1h3.0v3.0h-3.0zM443.8 519.2h3.0v3.0h-3.0zM374.4 702.5h3.0v3.0h-3.0zM373.1 675.1h3.0v3.0h-3.0zM451.6 657.8h3.0v3.0h-3.0zM414.4 653.1h3.0v3.0h-3.0zM555.8 538.9h3.0v3.0h-3.0zM525.3 585.6h3.0v3.0h-3.0zM384.2 682.6h3.0v3.0h-3.0zM473.3 649.3h3.0v3.0h-3.0zM543.1 518.8h3.0v3.0h-3.0zM357.0 584.4h3.0v3.0h-3.0zM377.4 562.4h3.0v3.0h-3.0zM335.2 640.1h3.0v3.0h-3.0zM359.2 700.3h3.0v3.0h-3.0zM391.0 678.1h3.0v3.0h-3.0zM333.9 656.8h3.0v3.0h-3.0zM397.0 679.6h3.0v3.0h-3.0zM437.0 662.7h3.0v3.0h-3.0zM365.0 701.3h3.0v3.0h-3.0zM531.9 534.5h3.0v3.0h-3.0zM489.6 630.3h3.0v3.0h-3.0zM337.2 598.6h3.0v3.0h-3.0zM365.6 699.3h3.0v3.0h-3.0zM536.4 534.9h3.0v3.0h-3.0zM381.8 567.7h3.0v3.0h-3.0zM421.8 642.8h3.0v3.0h-3.0zM417.9 523.6h3.0v3.0h-3.0zM532.8 499.0h3.0v3.0h-3.0zM426.7 656.3h3.0v3.0h-3.0zM400.3 677.4h3.0v3.0h-3.0zM547.2 526.0h3.0v3.0h-3.0zM418.8 655.1h3.0v3.0h-3.0zM409.9 534.8h3.0v3.0h-3.0zM466.6 634.6h3.0v3.0h-3.0zM471.5 506.7h3.0v3.0h-3.0zM334.7 690.7h3.0v3.0h-3.0zM428.0 528.0h3.0v3.0h-3.0zM398.9 673.6h3.0v3.0h-3.0zM467.3 633.2h3.0v3.0h-3.0zM431.5 687.3h3.0v3.0h-3.0zM562.8 524.9h3.0v3.0h-3.0zM359.9 581.2h3.0v3.0h-3.0zM376.3 690.9h3.0v3.0h-3.0zM416.5 669.2h3.0v3.0h-3.0zM381.4 563.7h3.0v3.0h-3.0zM472.5 646.4h3.0v3.0h-3.0zM444.2 657.9h3.0v3.0h-3.0zM367.6 708.1h3.0v3.0h-3.0zM443.3 660.4h3.0v3.0h-3.0zM551.5 529.1h3.0v3.0h-3.0zM543.1 518.4h3.0v3.0h-3.0zM408.8 676.7h3.0v3.0h-3.0zM372.9 698.3h3.0v3.0h-3.0zM451.3 653.7h3.0v3.0h-3.0zM550.0 523.9h3.0v3.0h-3.0zM332.4 660.1h3.0v3.0h-3.0zM552.4 509.3h3.0v3.0h-3.0zM377.1 681.8h3.0v3.0h-3.0zM360.4 581.9h3.0v3.0h-3.0zM357.3 707.9h3.0v3.0h-3.0zM389.1 698.9h3.0v3.0h-3.0zM479.4 502.1h3.0v3.0h-3.0zM322.2 680.2h3.0v3.0h-3.0zM429.4 681.2h3.0v3.0h-3.0zM455.2 634.2h3.0v3.0h-3.0zM337.5 595.2h3.0v3.0h-3.0zM404.5 539.4h3.0v3.0h-3.0zM464.6 511.0h3.0v3.0h-3.0zM389.7 672.3h3.0v3.0h-3.0zM401.6 545.7h3.0v3.0h-3.0zM363.5 686.5h3.0v3.0h-3.0zM365.2 683.6h3.0v3.0h-3.0zM534.8 530.7h3.0v3.0h-3.0zM553.1 507.2h3.0v3.0h-3.0zM445.4 511.3h3.0v3.0h-3.0zM392.0 546.9h3.0v3.0h-3.0zM374.7 696.2h3.0v3.0h-3.0zM376.2 699.7h3.0v3.0h-3.0zM474.8 653.1h3.0v3.0h-3.0zM420.0 651.1h3.0v3.0h-3.0zM420.7 662.8h3.0v3.0h-3.0zM560.3 512.1h3.0v3.0h-3.0zM341.2 599.2h3.0v3.0h-3.0zM355.8 698.4h3.0v3.0h-3.0zM339.2 657.4h3.0v3.0h-3.0zM382.6 554.1h3.0v3.0h-3.0zM474.4 628.2h3.0v3.0h-3.0zM408.2 685.0h3.0v3.0h-3.0zM566.1 529.7h3.0v3.0h-3.0zM340.9 607.7h3.0v3.0h-3.0zM493.4 628.0h3.0v3.0h-3.0zM439.7 663.8h3.0v3.0h-3.0zM388.9 673.1h3.0v3.0h-3.0zM402.6 546.1h3.0v3.0h-3.0zM487.6 625.4h3.0v3.0h-3.0zM353.6 685.2h3.0v3.0h-3.0zM354.7 706.3h3.0v3.0h-3.0zM392.9 547.7h3.0v3.0h-3.0zM372.8 695.9h3.0v3.0h-3.0zM525.6 587.5h3.0v3.0h-3.0zM388.6 676.0h3.0v3.0h-3.0zM389.7 698.2h3.0v3.0h-3.0zM366.8 705.7h3.0v3.0h-3.0zM531.5 542.3h3.0v3.0h-3.0zM422.8 524.8h3.0v3.0h-3.0zM425.2 648.0h3.0v3.0h-3.0zM554.2 540.8h3.0v3.0h-3.0zM335.7 594.6h3.0v3.0h-3.0zM354.3 686.8h3.0v3.0h-3.0zM333.0 667.7h3.0v3.0h-3.0zM378.1 671.2h3.0v3.0h-3.0zM454.7 657.2h3.0v3.0h-3.0zM491.3 611.4h3.0v3.0h-3.0zM345.1 644.7h3.0v3.0h-3.0zM349.7 590.4h3.0v3.0h-3.0zM325.5 684.1h3.0v3.0h-3.0zM402.0 547.6h3.0v3.0h-3.0zM464.7 510.2h3.0v3.0h-3.0zM499.5 628.3h3.0v3.0h-3.0zM427.8 651.8h3.0v3.0h-3.0zM389.5 693.6h3.0v3.0h-3.0zM333.2 691.1h3.0v3.0h-3.0zM384.1 560.3h3.0v3.0h-3.0zM472.7 651.5h3.0v3.0h-3.0zM532.4 541.0h3.0v3.0h-3.0zM431.3 687.4h3.0v3.0h-3.0zM520.9 548.3h3.0v3.0h-3.0zM358.1 684.3h3.0v3.0h-3.0zM525.4 583.6h3.0v3.0h-3.0zM558.4 517.4h3.0v3.0h-3.0zM553.9 515.6h3.0v3.0h-3.0zM492.8 503.7h3.0v3.0h-3.0zM545.4 513.3h3.0v3.0h-3.0zM554.1 529.8h3.0v3.0h-3.0zM501.6 504.1h3.0v3.0h-3.0zM381.6 568.0h3.0v3.0h-3.0zM550.8 542.2h3.0v3.0h-3.0zM544.4 510.0h3.0v3.0h-3.0zM475.4 504.5h3.0v3.0h-3.0zM563.8 537.3h3.0v3.0h-3.0zM534.6 529.9h3.0v3.0h-3.0zM509.6 508.4h3.0v3.0h-3.0zM539.6 529.9h3.0v3.0h-3.0zM386.3 563.7h3.0v3.0h-3.0zM482.5 507.6h3.0v3.0h-3.0zM393.4 355.4h3.0v3.0h-3.0zM377.1 316.8h3.0v3.0h-3.0zM426.9 315.3h3.0v3.0h-3.0zM445.3 337.4h3.0v3.0h-3.0zM418.0 350.4h3.0v3.0h-3.0zM377.0 317.2h3.0v3.0h-3.0zM356.4 342.4h3.0v3.0h-3.0zM389.4 316.7h3.0v3.0h-3.0zM362.8 322.9h3.0v3.0h-3.0zM353.9 331.4h3.0v3.0h-3.0zM472.2 330.0h3.0v3.0h-3.0zM475.2 330.9h3.0v3.0h-3.0zM448.2 349.9h3.0v3.0h-3.0zM447.8 354.6h3.0v3.0h-3.0zM476.9 329.5h3.0v3.0h-3.0zM464.1 354.1h3.0v3.0h-3.0zM487.8 327.2h3.0v3.0h-3.0zM420.6 344.2h3.0v3.0h-3.0zM468.7 331.8h3.0v3.0h-3.0zM473.1 325.9h3.0v3.0h-3.0zM471.0 347.0h3.0v3.0h-3.0zM427.1 350.9h3.0v3.0h-3.0zM408.0 319.8h3.0v3.0h-3.0zM433.6 319.9h3.0v3.0h-3.0zM492.8 328.3h3.0v3.0h-3.0zM442.7 351.4h3.0v3.0h-3.0zM463.5 352.0h3.0v3.0h-3.0zM445.5 320.9h3.0v3.0h-3.0zM466.8 326.4h3.0v3.0h-3.0zM472.0 352.8h3.0v3.0h-3.0zM399.7 354.3h3.0v3.0h-3.0zM420.5 379.3h3.0v3.0h-3.0zM432.6 355.2h3.0v3.0h-3.0zM438.8 350.5h3.0v3.0h-3.0zM430.8 360.1h3.0v3.0h-3.0zM410.0 374.5h3.0v3.0h-3.0zM341.0 380.4h3.0v3.0h-3.0zM411.1 367.1h3.0v3.0h-3.0zM472.4 351.5h3.0v3.0h-3.0zM417.0 378.6h3.0v3.0h-3.0zM412.7 376.2h3.0v3.0h-3.0zM417.6 356.1h3.0v3.0h-3.0zM408.0 379.8h3.0v3.0h-3.0zM378.2 369.4h3.0v3.0h-3.0zM331.6 369.2h3.0v3.0h-3.0zM474.0 352.9h3.0v3.0h-3.0zM366.4 349.7h3.0v3.0h-3.0zM360.7 350.4h3.0v3.0h-3.0zM416.3 376.9h3.0v3.0h-3.0zM366.0 357.7h3.0v3.0h-3.0zM424.1 379.1h3.0v3.0h-3.0zM470.1 357.6h3.0v3.0h-3.0zM436.9 359.8h3.0v3.0h-3.0zM339.5 377.2h3.0v3.0h-3.0zM493.2 328.7h3.0v3.0h-3.0zM434.1 317.6h3.0v3.0h-3.0zM420.1 381.3h3.0v3.0h-3.0zM342.5 371.0h3.0v3.0h-3.0zM437.6 362.0h3.0v3.0h-3.0zM420.8 321.3h3.0v3.0h-3.0zM476.8 350.6h3.0v3.0h-3.0zM480.3 331.5h3.0v3.0h-3.0zM490.1 333.1h3.0v3.0h-3.0zM477.3 324.7h3.0v3.0h-3.0zM487.2 332.9h3.0v3.0h-3.0zM326.3 370.7h3.0v3.0h-3.0zM333.3 368.6h3.0v3.0h-3.0z"/><path fill="rgb(238, 112, 36)" d="M376.8 620.8h3.0v3.0h-3.0zM361.9 637.3h3.0v3.0h-3.0zM401.4 616.1h3.0v3.0h-3.0zM386.4 585.2h3.0v3.0h-3.0zM382.1 613.6h3.0v3.0h-3.0zM392.9 609.4h3.0v3.0h-3.0zM409.7 592.7h3.0v3.0h-3.0zM400.2 598.4h3.0v3.0h-3.0zM390.8 594.2h3.0v3.0h-3.0zM394.9 601.9h3.0v3.0h-3.0zM359.7 593.7h3.0v3.0h-3.0zM409.0 617.0h3.0v3.0h-3.0zM363.9 627.7h3.0v3.0h-3.0zM391.1 630.1h3.0v3.0h-3.0zM375.5 606.6h3.0v3.0h-3.0zM350.9 607.9h3.0v3.0h-3.0zM396.4 631.6h3.0v3.0h-3.0zM397.8 574.4h3.0v3.0h-3.0zM374.4 601.3h3.0v3.0h-3.0zM373.8 629.9h3.0v3.0h-3.0zM394.3 627.4h3.0v3.0h-3.0zM395.3 596.9h3.0v3.0h-3.0zM388.5 607.7h3.0v3.0h-3.0zM385.3 608.8h3.0v3.0h-3.0zM369.5 629.2h3.0v3.0h-3.0zM388.9 597.8h3.0v3.0h-3.0zM397.8 613.9h3.0v3.0h-3.0zM412.2 609.7h3.0v3.0h-3.0zM408.3 597.9h3.0v3.0h-3.0zM397.7 606.8h3.0v3.0h-3.0zM377.0 650.2h3.0v3.0h-3.0zM367.8 627.2h3.0v3.0h-3.0zM368.4 616.7h3.0v3.0h-3.0zM398.1 620.8h3.0v3.0h-3.0zM382.9 631.4h3.0v3.0h-3.0zM402.1 593.2h3.0v3.0h-3.0zM384.7 599.4h3.0v3.0h-3.0zM401.4 624.1h3.0v3.0h-3.0zM405.7 618.4h3.0v3.0h-3.0zM400.2 623.0h3.0v3.0h-3.0zM376.5 641.5h3.0v3.0h-3.0zM416.3 579.0h3.0v3.0h-3.0zM398.7 582.2h3.0v3.0h-3.0zM415.8 609.7h3.0v3.0h-3.0zM382.0 628.4h3.0v3.0h-3.0zM361.0 629.5h3.0v3.0h-3.0zM369.5 632.6h3.0v3.0h-3.0zM367.1 613.0h3.0v3.0h-3.0zM394.0 593.8h3.0v3.0h-3.0zM399.9 603.3h3.0v3.0h-3.0zM411.3 604.1h3.0v3.0h-3.0zM422.6 600.4h3.0v3.0h-3.0zM394.2 606.5h3.0v3.0h-3.0zM396.1 615.4h3.0v3.0h-3.0zM389.3 628.0h3.0v3.0h-3.0zM385.2 620.0h3.0v3.0h-3.0zM367.2 616.8h3.0v3.0h-3.0zM405.1 625.6h3.0v3.0h-3.0zM384.8 597.1h3.0v3.0h-3.0zM382.5 617.7h3.0v3.0h-3.0zM386.9 639.0h3.0v3.0h-3.0zM408.9 634.1h3.0v3.0h-3.0zM416.3 618.0h3.0v3.0h-3.0zM385.9 606.9h3.0v3.0h-3.0zM380.7 591.1h3.0v3.0h-3.0zM376.3 611.8h3.0v3.0h-3.0zM383.4 613.8h3.0v3.0h-3.0zM383.4 616.2h3.0v3.0h-3.0zM377.0 604.0h3.0v3.0h-3.0zM375.4 611.9h3.0v3.0h-3.0zM394.6 611.3h3.0v3.0h-3.0zM406.9 602.0h3.0v3.0h-3.0zM381.3 634.0h3.0v3.0h-3.0zM411.5 606.5h3.0v3.0h-3.0zM385.1 622.1h3.0v3.0h-3.0zM378.8 609.9h3.0v3.0h-3.0zM356.2 631.6h3.0v3.0h-3.0zM340.1 612.7h3.0v3.0h-3.0zM395.8 601.9h3.0v3.0h-3.0zM361.8 605.1h3.0v3.0h-3.0zM400.2 607.1h3.0v3.0h-3.0zM391.5 617.8h3.0v3.0h-3.0zM391.9 611.6h3.0v3.0h-3.0zM416.3 617.0h3.0v3.0h-3.0zM382.3 606.0h3.0v3.0h-3.0zM358.5 621.4h3.0v3.0h-3.0zM399.8 600.8h3.0v3.0h-3.0zM424.8 609.3h3.0v3.0h-3.0zM377.7 598.8h3.0v3.0h-3.0zM387.1 635.7h3.0v3.0h-3.0zM375.2 638.5h3.0v3.0h-3.0zM399.1 614.0h3.0v3.0h-3.0zM358.9 624.1h3.0v3.0h-3.0zM370.6 625.6h3.0v3.0h-3.0zM387.1 607.1h3.0v3.0h-3.0zM397.9 627.0h3.0v3.0h-3.0zM376.9 602.9h3.0v3.0h-3.0zM397.3 593.2h3.0v3.0h-3.0zM369.4 623.4h3.0v3.0h-3.0zM354.9 596.5h3.0v3.0h-3.0zM390.2 631.4h3.0v3.0h-3.0zM386.5 608.6h3.0v3.0h-3.0zM387.1 623.3h3.0v3.0h-3.0zM417.9 597.4h3.0v3.0h-3.0zM368.0 599.2h3.0v3.0h-3.0zM397.1 607.5h3.0v3.0h-3.0zM381.4 621.9h3.0v3.0h-3.0zM385.0 597.3h3.0v3.0h-3.0zM374.9 605.7h3.0v3.0h-3.0zM375.3 604.8h3.0v3.0h-3.0zM416.1 606.8h3.0v3.0h-3.0zM374.9 602.2h3.0v3.0h-3.0zM407.3 588.3h3.0v3.0h-3.0zM376.1 617.8h3.0v3.0h-3.0zM381.3 617.7h3.0v3.0h-3.0zM400.1 596.7h3.0v3.0h-3.0zM360.4 649.8h3.0v3.0h-3.0zM372.5 643.5h3.0v3.0h-3.0zM380.1 599.0h3.0v3.0h-3.0zM405.3 627.1h3.0v3.0h-3.0zM398.7 612.4h3.0v3.0h-3.0zM386.6 622.1h3.0v3.0h-3.0zM370.9 632.8h3.0v3.0h-3.0zM391.4 590.8h3.0v3.0h-3.0zM386.4 595.3h3.0v3.0h-3.0zM373.5 627.1h3.0v3.0h-3.0zM384.3 604.1h3.0v3.0h-3.0zM430.9 625.8h3.0v3.0h-3.0zM386.5 606.6h3.0v3.0h-3.0zM375.4 632.5h3.0v3.0h-3.0zM375.2 605.9h3.0v3.0h-3.0zM395.0 638.1h3.0v3.0h-3.0zM403.8 629.1h3.0v3.0h-3.0zM391.8 589.0h3.0v3.0h-3.0zM375.6 624.2h3.0v3.0h-3.0zM378.2 619.0h3.0v3.0h-3.0zM412.0 619.9h3.0v3.0h-3.0zM383.9 580.8h3.0v3.0h-3.0zM405.7 597.3h3.0v3.0h-3.0zM370.8 634.2h3.0v3.0h-3.0zM370.8 616.7h3.0v3.0h-3.0zM398.2 596.5h3.0v3.0h-3.0zM363.9 604.6h3.0v3.0h-3.0zM394.0 612.7h3.0v3.0h-3.0zM384.9 609.9h3.0v3.0h-3.0zM366.9 602.7h3.0v3.0h-3.0zM409.6 600.3h3.0v3.0h-3.0zM382.3 604.1h3.0v3.0h-3.0zM380.9 618.8h3.0v3.0h-3.0zM388.9 620.5h3.0v3.0h-3.0zM397.2 620.9h3.0v3.0h-3.0zM365.5 628.9h3.0v3.0h-3.0zM367.8 608.4h3.0v3.0h-3.0zM366.4 620.4h3.0v3.0h-3.0zM353.1 625.8h3.0v3.0h-3.0zM407.7 613.9h3.0v3.0h-3.0zM404.1 591.7h3.0v3.0h-3.0zM414.0 617.3h3.0v3.0h-3.0zM360.2 626.6h3.0v3.0h-3.0zM396.9 615.2h3.0v3.0h-3.0zM394.4 601.0h3.0v3.0h-3.0zM385.8 629.5h3.0v3.0h-3.0zM395.5 598.3h3.0v3.0h-3.0zM380.2 638.6h3.0v3.0h-3.0zM373.4 625.4h3.0v3.0h-3.0zM379.3 627.2h3.0v3.0h-3.0zM379.6 623.9h3.0v3.0h-3.0zM367.0 611.9h3.0v3.0h-3.0zM409.9 618.2h3.0v3.0h-3.0zM361.6 604.7h3.0v3.0h-3.0zM380.6 616.8h3.0v3.0h-3.0zM382.2 625.5h3.0v3.0h-3.0zM426.1 603.6h3.0v3.0h-3.0zM369.7 612.8h3.0v3.0h-3.0zM391.0 602.5h3.0v3.0h-3.0zM412.7 593.6h3.0v3.0h-3.0zM363.1 611.2h3.0v3.0h-3.0zM373.0 616.2h3.0v3.0h-3.0zM376.5 605.0h3.0v3.0h-3.0zM370.0 628.0h3.0v3.0h-3.0zM403.9 598.9h3.0v3.0h-3.0zM374.8 607.0h3.0v3.0h-3.0zM398.0 594.6h3.0v3.0h-3.0zM395.6 608.4h3.0v3.0h-3.0zM382.1 602.6h3.0v3.0h-3.0zM392.6 588.6h3.0v3.0h-3.0zM375.6 602.5h3.0v3.0h-3.0zM403.9 604.8h3.0v3.0h-3.0zM356.4 603.8h3.0v3.0h-3.0zM376.3 618.7h3.0v3.0h-3.0zM409.7 609.7h3.0v3.0h-3.0zM351.9 622.7h3.0v3.0h-3.0zM391.9 604.0h3.0v3.0h-3.0zM371.6 599.2h3.0v3.0h-3.0zM372.7 605.6h3.0v3.0h-3.0zM372.9 611.1h3.0v3.0h-3.0zM407.8 603.7h3.0v3.0h-3.0zM361.7 620.1h3.0v3.0h-3.0zM392.2 592.2h3.0v3.0h-3.0zM390.4 601.3h3.0v3.0h-3.0zM373.0 602.0h3.0v3.0h-3.0zM395.9 630.0h3.0v3.0h-3.0zM393.3 598.5h3.0v3.0h-3.0zM387.2 632.3h3.0v3.0h-3.0zM354.7 607.4h3.0v3.0h-3.0zM385.0 598.6h3.0v3.0h-3.0zM383.0 633.5h3.0v3.0h-3.0zM379.0 611.8h3.0v3.0h-3.0zM400.5 633.3h3.0v3.0h-3.0zM402.6 613.7h3.0v3.0h-3.0zM422.0 610.5h3.0v3.0h-3.0zM382.5 592.1h3.0v3.0h-3.0zM389.7 612.4h3.0v3.0h-3.0zM396.9 600.9h3.0v3.0h-3.0zM400.8 625.9h3.0v3.0h-3.0zM359.3 621.1h3.0v3.0h-3.0zM378.1 616.7h3.0v3.0h-3.0zM363.7 613.4h3.0v3.0h-3.0zM387.1 588.0h3.0v3.0h-3.0zM409.2 606.7h3.0v3.0h-3.0zM389.8 604.4h3.0v3.0h-3.0zM373.6 623.5h3.0v3.0h-3.0zM392.5 594.0h3.0v3.0h-3.0zM372.1 618.5h3.0v3.0h-3.0zM385.2 599.9h3.0v3.0h-3.0zM365.8 615.7h3.0v3.0h-3.0zM367.1 624.4h3.0v3.0h-3.0zM362.6 617.1h3.0v3.0h-3.0zM390.2 616.5h3.0v3.0h-3.0zM369.8 604.3h3.0v3.0h-3.0zM390.4 602.8h3.0v3.0h-3.0zM375.3 635.6h3.0v3.0h-3.0zM389.3 599.0h3.0v3.0h-3.0zM366.6 597.3h3.0v3.0h-3.0zM412.5 613.3h3.0v3.0h-3.0zM400.7 600.6h3.0v3.0h-3.0zM377.1 601.8h3.0v3.0h-3.0zM381.0 597.6h3.0v3.0h-3.0zM393.4 614.5h3.0v3.0h-3.0zM386.3 594.7h3.0v3.0h-3.0zM372.1 595.1h3.0v3.0h-3.0zM406.4 607.9h3.0v3.0h-3.0zM380.3 617.3h3.0v3.0h-3.0zM361.7 633.3h3.0v3.0h-3.0zM386.7 602.8h3.0v3.0h-3.0zM387.2 615.7h3.0v3.0h-3.0zM392.8 593.4h3.0v3.0h-3.0zM393.0 601.8h3.0v3.0h-3.0zM389.5 611.5h3.0v3.0h-3.0zM389.6 612.5h3.0v3.0h-3.0zM395.2 621.5h3.0v3.0h-3.0zM381.8 625.0h3.0v3.0h-3.0zM363.4 612.1h3.0v3.0h-3.0zM371.4 612.5h3.0v3.0h-3.0zM390.0 620.0h3.0v3.0h-3.0zM361.5 644.6h3.0v3.0h-3.0zM383.9 621.0h3.0v3.0h-3.0zM370.5 616.4h3.0v3.0h-3.0zM387.6 615.6h3.0v3.0h-3.0zM382.5 631.5h3.0v3.0h-3.0zM396.6 626.2h3.0v3.0h-3.0zM380.7 608.6h3.0v3.0h-3.0zM400.8 591.4h3.0v3.0h-3.0zM382.8 616.1h3.0v3.0h-3.0zM380.3 608.3h3.0v3.0h-3.0zM387.9 612.4h3.0v3.0h-3.0zM355.5 618.9h3.0v3.0h-3.0zM373.7 625.1h3.0v3.0h-3.0zM411.8 605.8h3.0v3.0h-3.0zM404.0 623.6h3.0v3.0h-3.0zM396.4 625.1h3.0v3.0h-3.0zM404.9 605.8h3.0v3.0h-3.0zM379.6 604.9h3.0v3.0h-3.0zM389.0 623.6h3.0v3.0h-3.0zM379.2 608.4h3.0v3.0h-3.0zM352.8 612.8h3.0v3.0h-3.0zM399.5 601.4h3.0v3.0h-3.0zM376.6 600.0h3.0v3.0h-3.0zM397.1 632.4h3.0v3.0h-3.0zM388.8 626.1h3.0v3.0h-3.0zM385.9 631.4h3.0v3.0h-3.0zM351.2 626.4h3.0v3.0h-3.0zM388.5 609.0h3.0v3.0h-3.0zM420.3 595.1h3.0v3.0h-3.0zM399.0 598.8h3.0v3.0h-3.0zM382.8 614.2h3.0v3.0h-3.0zM375.8 623.7h3.0v3.0h-3.0zM383.0 603.9h3.0v3.0h-3.0zM392.0 607.7h3.0v3.0h-3.0zM392.7 625.6h3.0v3.0h-3.0zM400.1 606.0h3.0v3.0h-3.0zM362.3 601.3h3.0v3.0h-3.0zM397.1 592.8h3.0v3.0h-3.0zM385.1 603.0h3.0v3.0h-3.0zM376.1 611.4h3.0v3.0h-3.0zM383.9 616.0h3.0v3.0h-3.0zM386.7 599.3h3.0v3.0h-3.0zM407.5 621.3h3.0v3.0h-3.0zM386.8 608.8h3.0v3.0h-3.0zM398.5 611.8h3.0v3.0h-3.0zM417.1 582.1h3.0v3.0h-3.0zM350.5 604.1h3.0v3.0h-3.0zM360.3 633.6h3.0v3.0h-3.0zM393.1 619.2h3.0v3.0h-3.0zM378.7 630.2h3.0v3.0h-3.0zM388.1 609.6h3.0v3.0h-3.0zM364.5 627.3h3.0v3.0h-3.0zM384.0 602.0h3.0v3.0h-3.0zM396.8 584.0h3.0v3.0h-3.0zM403.8 603.1h3.0v3.0h-3.0zM373.9 626.3h3.0v3.0h-3.0zM385.3 619.3h3.0v3.0h-3.0zM405.2 613.1h3.0v3.0h-3.0zM419.8 606.4h3.0v3.0h-3.0zM377.9 628.2h3.0v3.0h-3.0zM379.1 627.0h3.0v3.0h-3.0zM405.1 605.0h3.0v3.0h-3.0zM378.5 609.1h3.0v3.0h-3.0zM360.2 600.1h3.0v3.0h-3.0zM403.9 605.2h3.0v3.0h-3.0zM370.7 640.6h3.0v3.0h-3.0zM380.1 622.9h3.0v3.0h-3.0zM413.3 624.3h3.0v3.0h-3.0zM382.4 625.0h3.0v3.0h-3.0zM386.9 585.4h3.0v3.0h-3.0zM376.2 634.6h3.0v3.0h-3.0zM394.0 597.3h3.0v3.0h-3.0zM394.5 608.6h3.0v3.0h-3.0zM409.6 595.7h3.0v3.0h-3.0zM384.4 615.4h3.0v3.0h-3.0zM392.9 633.8h3.0v3.0h-3.0zM394.1 627.2h3.0v3.0h-3.0zM395.7 591.0h3.0v3.0h-3.0zM380.1 625.0h3.0v3.0h-3.0zM382.2 608.2h3.0v3.0h-3.0zM424.9 611.1h3.0v3.0h-3.0zM409.7 624.4h3.0v3.0h-3.0zM397.2 604.6h3.0v3.0h-3.0zM387.2 629.8h3.0v3.0h-3.0zM408.3 619.2h3.0v3.0h-3.0zM376.7 633.4h3.0v3.0h-3.0zM374.1 640.1h3.0v3.0h-3.0zM374.9 622.7h3.0v3.0h-3.0zM412.6 607.8h3.0v3.0h-3.0zM391.9 614.4h3.0v3.0h-3.0zM376.4 625.0h3.0v3.0h-3.0zM384.3 619.2h3.0v3.0h-3.0zM383.7 590.5h3.0v3.0h-3.0zM405.9 604.2h3.0v3.0h-3.0zM371.8 640.9h3.0v3.0h-3.0zM401.3 591.0h3.0v3.0h-3.0zM400.0 602.5h3.0v3.0h-3.0zM361.1 590.4h3.0v3.0h-3.0zM385.1 621.9h3.0v3.0h-3.0zM396.6 611.5h3.0v3.0h-3.0zM389.8 626.2h3.0v3.0h-3.0zM399.8 629.1h3.0v3.0h-3.0zM368.0 614.8h3.0v3.0h-3.0zM357.6 622.6h3.0v3.0h-3.0zM427.5 599.2h3.0v3.0h-3.0zM388.1 607.7h3.0v3.0h-3.0zM395.6 618.9h3.0v3.0h-3.0zM385.9 592.5h3.0v3.0h-3.0zM406.3 599.7h3.0v3.0h-3.0zM395.5 594.7h3.0v3.0h-3.0zM363.8 606.5h3.0v3.0h-3.0zM387.3 615.9h3.0v3.0h-3.0zM382.4 601.4h3.0v3.0h-3.0zM395.6 600.7h3.0v3.0h-3.0zM376.0 613.0h3.0v3.0h-3.0zM376.3 580.1h3.0v3.0h-3.0zM395.0 617.8h3.0v3.0h-3.0zM409.8 604.2h3.0v3.0h-3.0zM350.3 636.7h3.0v3.0h-3.0zM386.7 608.4h3.0v3.0h-3.0zM400.8 624.0h3.0v3.0h-3.0zM399.4 610.1h3.0v3.0h-3.0zM381.0 601.6h3.0v3.0h-3.0zM377.7 623.7h3.0v3.0h-3.0zM404.3 618.8h3.0v3.0h-3.0zM392.3 608.4h3.0v3.0h-3.0zM374.8 619.2h3.0v3.0h-3.0zM370.3 629.0h3.0v3.0h-3.0zM400.4 615.8h3.0v3.0h-3.0zM377.6 624.8h3.0v3.0h-3.0zM395.1 603.6h3.0v3.0h-3.0zM413.9 606.7h3.0v3.0h-3.0zM389.4 608.7h3.0v3.0h-3.0zM389.4 608.0h3.0v3.0h-3.0zM396.7 624.2h3.0v3.0h-3.0zM406.1 597.6h3.0v3.0h-3.0zM403.3 592.2h3.0v3.0h-3.0zM392.1 617.5h3.0v3.0h-3.0zM393.0 596.7h3.0v3.0h-3.0zM395.1 624.1h3.0v3.0h-3.0zM380.8 617.8h3.0v3.0h-3.0zM405.0 616.7h3.0v3.0h-3.0zM386.3 613.5h3.0v3.0h-3.0zM369.0 609.3h3.0v3.0h-3.0zM348.5 595.9h3.0v3.0h-3.0zM396.6 594.5h3.0v3.0h-3.0zM380.1 632.4h3.0v3.0h-3.0zM368.2 616.9h3.0v3.0h-3.0zM388.8 623.8h3.0v3.0h-3.0zM404.8 617.4h3.0v3.0h-3.0zM352.0 609.8h3.0v3.0h-3.0zM394.2 602.5h3.0v3.0h-3.0zM392.3 607.5h3.0v3.0h-3.0zM378.1 637.6h3.0v3.0h-3.0zM380.1 638.4h3.0v3.0h-3.0zM380.4 606.2h3.0v3.0h-3.0zM419.8 602.7h3.0v3.0h-3.0zM385.7 617.9h3.0v3.0h-3.0zM396.7 591.6h3.0v3.0h-3.0zM407.9 615.7h3.0v3.0h-3.0zM374.2 643.5h3.0v3.0h-3.0zM381.0 601.4h3.0v3.0h-3.0zM405.8 610.7h3.0v3.0h-3.0zM375.9 609.3h3.0v3.0h-3.0zM411.8 613.0h3.0v3.0h-3.0zM378.1 632.9h3.0v3.0h-3.0zM363.6 621.1h3.0v3.0h-3.0zM379.8 614.1h3.0v3.0h-3.0zM406.7 623.4h3.0v3.0h-3.0zM380.5 613.4h3.0v3.0h-3.0zM407.4 615.5h3.0v3.0h-3.0zM354.1 607.1h3.0v3.0h-3.0zM369.9 601.7h3.0v3.0h-3.0zM413.9 611.5h3.0v3.0h-3.0zM352.6 635.4h3.0v3.0h-3.0zM390.0 606.2h3.0v3.0h-3.0zM367.5 607.9h3.0v3.0h-3.0zM377.5 620.3h3.0v3.0h-3.0zM374.3 600.5h3.0v3.0h-3.0zM364.5 622.4h3.0v3.0h-3.0zM404.7 610.6h3.0v3.0h-3.0zM393.9 603.6h3.0v3.0h-3.0zM395.4 584.6h3.0v3.0h-3.0zM379.3 592.5h3.0v3.0h-3.0zM370.2 614.5h3.0v3.0h-3.0zM382.9 582.3h3.0v3.0h-3.0zM371.9 630.8h3.0v3.0h-3.0zM369.0 611.5h3.0v3.0h-3.0zM413.9 586.7h3.0v3.0h-3.0zM400.5 598.2h3.0v3.0h-3.0zM388.7 599.2h3.0v3.0h-3.0zM416.7 612.3h3.0v3.0h-3.0zM378.5 606.6h3.0v3.0h-3.0zM388.1 593.4h3.0v3.0h-3.0zM381.2 629.1h3.0v3.0h-3.0zM377.7 606.5h3.0v3.0h-3.0zM397.1 625.9h3.0v3.0h-3.0zM413.3 605.9h3.0v3.0h-3.0zM374.0 612.5h3.0v3.0h-3.0zM403.1 603.2h3.0v3.0h-3.0zM380.6 600.6h3.0v3.0h-3.0zM354.2 614.4h3.0v3.0h-3.0zM365.2 639.3h3.0v3.0h-3.0zM374.6 613.5h3.0v3.0h-3.0zM401.8 600.4h3.0v3.0h-3.0zM387.9 604.1h3.0v3.0h-3.0zM414.7 597.2h3.0v3.0h-3.0zM388.0 606.9h3.0v3.0h-3.0zM408.4 600.0h3.0v3.0h-3.0zM391.2 610.0h3.0v3.0h-3.0zM381.8 633.3h3.0v3.0h-3.0zM395.0 600.7h3.0v3.0h-3.0zM375.8 617.2h3.0v3.0h-3.0zM367.3 625.3h3.0v3.0h-3.0zM370.7 608.7h3.0v3.0h-3.0zM384.7 620.4h3.0v3.0h-3.0zM390.5 608.7h3.0v3.0h-3.0zM396.6 598.8h3.0v3.0h-3.0zM391.8 598.8h3.0v3.0h-3.0zM417.9 593.3h3.0v3.0h-3.0zM359.8 631.0h3.0v3.0h-3.0zM387.3 617.9h3.0v3.0h-3.0zM430.0 597.4h3.0v3.0h-3.0zM381.0 611.4h3.0v3.0h-3.0zM377.0 636.7h3.0v3.0h-3.0zM377.1 619.7h3.0v3.0h-3.0zM379.8 631.7h3.0v3.0h-3.0zM378.5 613.1h3.0v3.0h-3.0zM420.0 609.1h3.0v3.0h-3.0zM367.5 624.9h3.0v3.0h-3.0zM373.2 610.8h3.0v3.0h-3.0zM406.3 596.0h3.0v3.0h-3.0zM393.6 612.2h3.0v3.0h-3.0zM382.9 592.6h3.0v3.0h-3.0zM383.6 617.9h3.0v3.0h-3.0zM390.0 583.9h3.0v3.0h-3.0zM373.9 623.0h3.0v3.0h-3.0zM397.1 595.6h3.0v3.0h-3.0zM382.3 598.6h3.0v3.0h-3.0zM381.7 608.0h3.0v3.0h-3.0zM387.5 630.0h3.0v3.0h-3.0zM412.0 621.7h3.0v3.0h-3.0zM390.7 605.7h3.0v3.0h-3.0zM390.6 630.5h3.0v3.0h-3.0zM391.5 614.6h3.0v3.0h-3.0zM382.7 639.2h3.0v3.0h-3.0zM407.5 602.6h3.0v3.0h-3.0zM412.8 608.2h3.0v3.0h-3.0zM398.8 592.3h3.0v3.0h-3.0zM399.8 623.0h3.0v3.0h-3.0zM400.9 617.2h3.0v3.0h-3.0zM375.2 636.6h3.0v3.0h-3.0zM392.4 632.5h3.0v3.0h-3.0zM382.8 611.7h3.0v3.0h-3.0zM389.1 618.7h3.0v3.0h-3.0zM386.6 588.3h3.0v3.0h-3.0zM376.6 607.5h3.0v3.0h-3.0zM370.2 606.6h3.0v3.0h-3.0zM411.1 611.2h3.0v3.0h-3.0zM387.4 621.8h3.0v3.0h-3.0zM381.4 622.8h3.0v3.0h-3.0zM359.8 632.2h3.0v3.0h-3.0zM380.6 646.0h3.0v3.0h-3.0zM390.4 624.4h3.0v3.0h-3.0zM389.5 605.7h3.0v3.0h-3.0zM372.7 646.6h3.0v3.0h-3.0zM398.7 631.6h3.0v3.0h-3.0zM398.7 619.8h3.0v3.0h-3.0zM367.7 594.6h3.0v3.0h-3.0zM383.9 603.6h3.0v3.0h-3.0zM412.1 606.4h3.0v3.0h-3.0zM375.5 616.5h3.0v3.0h-3.0zM353.8 611.1h3.0v3.0h-3.0zM383.7 618.1h3.0v3.0h-3.0zM371.1 613.4h3.0v3.0h-3.0zM389.4 616.9h3.0v3.0h-3.0zM400.4 610.6h3.0v3.0h-3.0zM410.5 621.5h3.0v3.0h-3.0zM387.9 601.6h3.0v3.0h-3.0zM415.7 613.0h3.0v3.0h-3.0zM388.1 600.7h3.0v3.0h-3.0zM410.0 615.9h3.0v3.0h-3.0zM396.7 615.9h3.0v3.0h-3.0zM395.1 615.8h3.0v3.0h-3.0zM381.9 619.5h3.0v3.0h-3.0zM384.4 606.5h3.0v3.0h-3.0zM382.3 622.6h3.0v3.0h-3.0zM387.3 621.8h3.0v3.0h-3.0zM396.8 625.6h3.0v3.0h-3.0zM407.6 607.6h3.0v3.0h-3.0zM387.4 620.5h3.0v3.0h-3.0zM390.9 596.7h3.0v3.0h-3.0zM359.5 605.6h3.0v3.0h-3.0zM384.9 617.3h3.0v3.0h-3.0zM421.0 626.7h3.0v3.0h-3.0zM392.3 608.5h3.0v3.0h-3.0zM355.7 618.8h3.0v3.0h-3.0zM371.6 585.6h3.0v3.0h-3.0zM387.8 620.9h3.0v3.0h-3.0zM364.4 612.4h3.0v3.0h-3.0zM358.1 620.9h3.0v3.0h-3.0zM375.4 623.5h3.0v3.0h-3.0zM376.0 628.5h3.0v3.0h-3.0zM409.7 626.3h3.0v3.0h-3.0zM403.8 620.7h3.0v3.0h-3.0zM401.5 614.5h3.0v3.0h-3.0zM403.6 603.1h3.0v3.0h-3.0zM348.4 618.5h3.0v3.0h-3.0zM382.1 612.1h3.0v3.0h-3.0zM398.5 619.6h3.0v3.0h-3.0zM364.3 594.6h3.0v3.0h-3.0zM378.0 616.9h3.0v3.0h-3.0zM385.2 635.3h3.0v3.0h-3.0zM395.7 620.6h3.0v3.0h-3.0zM385.2 610.1h3.0v3.0h-3.0zM403.7 598.4h3.0v3.0h-3.0zM397.3 615.7h3.0v3.0h-3.0zM389.4 608.1h3.0v3.0h-3.0zM390.7 618.4h3.0v3.0h-3.0zM386.5 637.1h3.0v3.0h-3.0zM387.9 608.6h3.0v3.0h-3.0zM396.3 599.3h3.0v3.0h-3.0zM401.1 619.6h3.0v3.0h-3.0zM374.2 625.2h3.0v3.0h-3.0zM360.6 616.8h3.0v3.0h-3.0zM385.9 585.5h3.0v3.0h-3.0zM401.2 629.3h3.0v3.0h-3.0zM403.6 630.0h3.0v3.0h-3.0zM374.5 618.4h3.0v3.0h-3.0zM402.0 611.7h3.0v3.0h-3.0zM400.0 608.9h3.0v3.0h-3.0zM387.2 619.9h3.0v3.0h-3.0zM406.9 625.8h3.0v3.0h-3.0zM377.6 625.8h3.0v3.0h-3.0zM386.4 612.7h3.0v3.0h-3.0zM360.9 633.7h3.0v3.0h-3.0zM385.2 617.5h3.0v3.0h-3.0zM429.0 600.0h3.0v3.0h-3.0zM397.3 604.7h3.0v3.0h-3.0zM410.0 591.9h3.0v3.0h-3.0zM408.6 628.1h3.0v3.0h-3.0zM396.8 619.1h3.0v3.0h-3.0zM397.2 620.4h3.0v3.0h-3.0zM396.3 639.8h3.0v3.0h-3.0zM399.8 607.3h3.0v3.0h-3.0zM376.9 617.4h3.0v3.0h-3.0zM391.9 616.8h3.0v3.0h-3.0zM431.0 574.9h3.0v3.0h-3.0zM390.7 599.0h3.0v3.0h-3.0zM375.6 606.1h3.0v3.0h-3.0zM408.3 610.4h3.0v3.0h-3.0zM385.7 592.7h3.0v3.0h-3.0zM385.3 615.7h3.0v3.0h-3.0zM371.7 620.9h3.0v3.0h-3.0zM395.5 630.0h3.0v3.0h-3.0zM380.0 612.6h3.0v3.0h-3.0zM395.2 622.2h3.0v3.0h-3.0zM399.5 618.3h3.0v3.0h-3.0zM397.6 618.2h3.0v3.0h-3.0zM384.0 636.3h3.0v3.0h-3.0zM385.7 589.8h3.0v3.0h-3.0zM397.5 614.0h3.0v3.0h-3.0zM365.0 621.7h3.0v3.0h-3.0zM391.4 606.4h3.0v3.0h-3.0zM395.5 627.6h3.0v3.0h-3.0zM390.9 603.8h3.0v3.0h-3.0zM368.5 615.3h3.0v3.0h-3.0zM391.2 628.7h3.0v3.0h-3.0zM373.0 594.4h3.0v3.0h-3.0zM378.4 637.8h3.0v3.0h-3.0zM389.6 597.6h3.0v3.0h-3.0zM395.4 635.4h3.0v3.0h-3.0zM389.5 601.9h3.0v3.0h-3.0zM377.2 628.0h3.0v3.0h-3.0zM369.7 628.6h3.0v3.0h-3.0zM372.0 624.4h3.0v3.0h-3.0zM359.5 637.7h3.0v3.0h-3.0zM377.0 620.0h3.0v3.0h-3.0zM401.1 621.9h3.0v3.0h-3.0zM413.9 607.8h3.0v3.0h-3.0zM395.3 584.8h3.0v3.0h-3.0zM391.9 573.9h3.0v3.0h-3.0zM422.1 626.3h3.0v3.0h-3.0zM406.7 570.5h3.0v3.0h-3.0zM392.1 612.2h3.0v3.0h-3.0zM399.2 598.5h3.0v3.0h-3.0zM394.6 600.5h3.0v3.0h-3.0zM344.8 625.6h3.0v3.0h-3.0zM404.1 633.8h3.0v3.0h-3.0zM395.6 622.6h3.0v3.0h-3.0zM387.8 597.9h3.0v3.0h-3.0zM385.3 624.5h3.0v3.0h-3.0zM379.0 621.3h3.0v3.0h-3.0zM393.3 638.4h3.0v3.0h-3.0zM400.3 607.5h3.0v3.0h-3.0zM385.2 590.7h3.0v3.0h-3.0zM421.5 618.3h3.0v3.0h-3.0zM380.9 643.1h3.0v3.0h-3.0zM417.2 623.2h3.0v3.0h-3.0zM421.9 604.5h3.0v3.0h-3.0zM363.1 600.2h3.0v3.0h-3.0zM382.8 600.1h3.0v3.0h-3.0zM362.2 622.6h3.0v3.0h-3.0zM347.0 638.0h3.0v3.0h-3.0zM364.5 619.3h3.0v3.0h-3.0zM391.4 617.6h3.0v3.0h-3.0zM383.4 597.8h3.0v3.0h-3.0zM377.6 608.9h3.0v3.0h-3.0zM391.7 597.3h3.0v3.0h-3.0zM390.9 606.1h3.0v3.0h-3.0zM405.5 577.7h3.0v3.0h-3.0zM377.7 645.2h3.0v3.0h-3.0zM366.9 607.8h3.0v3.0h-3.0zM373.5 609.2h3.0v3.0h-3.0zM379.6 621.8h3.0v3.0h-3.0zM374.4 606.7h3.0v3.0h-3.0zM428.7 600.7h3.0v3.0h-3.0zM386.9 624.4h3.0v3.0h-3.0zM402.9 616.6h3.0v3.0h-3.0zM360.3 615.6h3.0v3.0h-3.0zM370.7 608.3h3.0v3.0h-3.0zM397.2 599.6h3.0v3.0h-3.0zM398.7 597.1h3.0v3.0h-3.0zM361.9 625.1h3.0v3.0h-3.0zM420.2 595.3h3.0v3.0h-3.0zM392.9 607.0h3.0v3.0h-3.0zM371.9 612.8h3.0v3.0h-3.0zM401.0 619.5h3.0v3.0h-3.0zM384.7 630.3h3.0v3.0h-3.0zM369.9 633.4h3.0v3.0h-3.0zM393.5 616.2h3.0v3.0h-3.0zM402.5 609.1h3.0v3.0h-3.0zM413.6 619.8h3.0v3.0h-3.0zM358.0 620.5h3.0v3.0h-3.0zM364.7 606.9h3.0v3.0h-3.0zM382.9 611.6h3.0v3.0h-3.0zM403.0 602.0h3.0v3.0h-3.0zM405.1 596.7h3.0v3.0h-3.0zM379.2 612.5h3.0v3.0h-3.0zM366.9 620.0h3.0v3.0h-3.0zM397.7 610.1h3.0v3.0h-3.0zM375.4 608.6h3.0v3.0h-3.0zM387.4 597.2h3.0v3.0h-3.0zM402.8 601.6h3.0v3.0h-3.0zM399.7 611.9h3.0v3.0h-3.0zM370.5 619.0h3.0v3.0h-3.0zM360.4 609.4h3.0v3.0h-3.0zM363.9 625.1h3.0v3.0h-3.0zM395.3 599.5h3.0v3.0h-3.0zM407.7 607.1h3.0v3.0h-3.0zM368.4 616.5h3.0v3.0h-3.0zM378.7 616.7h3.0v3.0h-3.0zM378.3 630.7h3.0v3.0h-3.0zM385.8 615.3h3.0v3.0h-3.0zM373.4 619.4h3.0v3.0h-3.0zM372.3 617.5h3.0v3.0h-3.0zM401.5 593.0h3.0v3.0h-3.0zM404.7 610.5h3.0v3.0h-3.0zM378.9 597.7h3.0v3.0h-3.0zM400.7 595.9h3.0v3.0h-3.0zM371.5 607.5h3.0v3.0h-3.0zM397.1 613.9h3.0v3.0h-3.0zM386.4 645.5h3.0v3.0h-3.0zM367.6 606.4h3.0v3.0h-3.0zM406.1 611.7h3.0v3.0h-3.0zM367.9 623.4h3.0v3.0h-3.0zM392.9 638.7h3.0v3.0h-3.0zM353.4 597.3h3.0v3.0h-3.0zM361.9 615.1h3.0v3.0h-3.0zM390.4 619.7h3.0v3.0h-3.0zM387.7 613.4h3.0v3.0h-3.0zM365.9 632.0h3.0v3.0h-3.0zM408.8 575.5h3.0v3.0h-3.0zM408.1 597.2h3.0v3.0h-3.0zM368.4 615.2h3.0v3.0h-3.0zM405.8 633.2h3.0v3.0h-3.0zM391.1 616.9h3.0v3.0h-3.0zM379.1 624.3h3.0v3.0h-3.0zM364.8 623.0h3.0v3.0h-3.0zM395.7 630.1h3.0v3.0h-3.0zM384.3 617.3h3.0v3.0h-3.0zM407.1 607.7h3.0v3.0h-3.0zM382.9 602.7h3.0v3.0h-3.0zM376.8 633.8h3.0v3.0h-3.0zM381.5 630.4h3.0v3.0h-3.0zM379.2 602.7h3.0v3.0h-3.0zM396.1 596.8h3.0v3.0h-3.0zM370.4 628.3h3.0v3.0h-3.0zM388.9 609.5h3.0v3.0h-3.0zM400.5 592.3h3.0v3.0h-3.0zM364.8 628.3h3.0v3.0h-3.0zM412.2 608.5h3.0v3.0h-3.0zM377.6 618.4h3.0v3.0h-3.0zM382.6 609.2h3.0v3.0h-3.0zM380.4 622.5h3.0v3.0h-3.0zM390.6 608.0h3.0v3.0h-3.0zM392.1 605.8h3.0v3.0h-3.0zM397.1 613.3h3.0v3.0h-3.0zM438.1 603.6h3.0v3.0h-3.0zM356.5 649.9h3.0v3.0h-3.0zM380.1 620.4h3.0v3.0h-3.0zM364.6 622.4h3.0v3.0h-3.0zM383.7 616.1h3.0v3.0h-3.0zM377.6 623.1h3.0v3.0h-3.0zM386.9 623.4h3.0v3.0h-3.0zM385.1 611.9h3.0v3.0h-3.0zM377.5 618.7h3.0v3.0h-3.0zM403.1 609.0h3.0v3.0h-3.0zM358.0 616.1h3.0v3.0h-3.0zM378.5 618.0h3.0v3.0h-3.0zM389.0 616.4h3.0v3.0h-3.0zM412.7 609.7h3.0v3.0h-3.0zM368.0 628.3h3.0v3.0h-3.0zM364.3 618.2h3.0v3.0h-3.0zM387.4 595.6h3.0v3.0h-3.0zM383.0 603.8h3.0v3.0h-3.0zM356.2 610.9h3.0v3.0h-3.0zM397.3 590.4h3.0v3.0h-3.0zM385.8 602.2h3.0v3.0h-3.0zM378.0 609.4h3.0v3.0h-3.0zM384.7 621.0h3.0v3.0h-3.0zM386.5 608.8h3.0v3.0h-3.0zM379.8 613.6h3.0v3.0h-3.0zM392.4 611.0h3.0v3.0h-3.0zM386.6 600.7h3.0v3.0h-3.0zM361.9 608.1h3.0v3.0h-3.0zM358.7 618.9h3.0v3.0h-3.0zM404.3 586.9h3.0v3.0h-3.0zM387.6 632.8h3.0v3.0h-3.0zM422.0 612.9h3.0v3.0h-3.0zM388.5 610.2h3.0v3.0h-3.0zM348.5 639.7h3.0v3.0h-3.0zM400.1 625.9h3.0v3.0h-3.0zM382.5 635.5h3.0v3.0h-3.0zM359.3 643.5h3.0v3.0h-3.0zM391.4 620.9h3.0v3.0h-3.0zM377.2 635.1h3.0v3.0h-3.0zM377.0 603.3h3.0v3.0h-3.0zM391.7 581.2h3.0v3.0h-3.0zM393.7 597.4h3.0v3.0h-3.0zM390.3 617.2h3.0v3.0h-3.0zM382.4 602.5h3.0v3.0h-3.0zM385.3 607.4h3.0v3.0h-3.0zM376.5 618.6h3.0v3.0h-3.0zM370.8 621.0h3.0v3.0h-3.0zM373.0 605.4h3.0v3.0h-3.0zM387.1 609.4h3.0v3.0h-3.0zM379.7 629.6h3.0v3.0h-3.0zM386.2 621.6h3.0v3.0h-3.0zM386.3 612.9h3.0v3.0h-3.0zM370.8 619.2h3.0v3.0h-3.0zM410.7 619.3h3.0v3.0h-3.0zM415.5 619.5h3.0v3.0h-3.0zM382.8 601.1h3.0v3.0h-3.0zM368.0 614.9h3.0v3.0h-3.0zM353.5 624.8h3.0v3.0h-3.0zM351.7 641.4h3.0v3.0h-3.0zM403.5 602.8h3.0v3.0h-3.0zM387.0 607.9h3.0v3.0h-3.0zM386.8 635.5h3.0v3.0h-3.0zM366.2 631.1h3.0v3.0h-3.0zM378.2 606.0h3.0v3.0h-3.0zM400.1 605.2h3.0v3.0h-3.0zM389.9 609.2h3.0v3.0h-3.0zM379.2 638.0h3.0v3.0h-3.0zM419.9 567.0h3.0v3.0h-3.0zM393.6 608.1h3.0v3.0h-3.0zM368.0 626.2h3.0v3.0h-3.0zM399.1 622.6h3.0v3.0h-3.0zM392.1 609.7h3.0v3.0h-3.0zM401.7 614.8h3.0v3.0h-3.0zM396.3 618.2h3.0v3.0h-3.0zM356.9 605.9h3.0v3.0h-3.0zM388.3 603.6h3.0v3.0h-3.0zM370.0 613.3h3.0v3.0h-3.0zM388.5 612.6h3.0v3.0h-3.0zM377.4 599.5h3.0v3.0h-3.0zM398.5 610.9h3.0v3.0h-3.0zM387.4 607.1h3.0v3.0h-3.0zM382.3 617.6h3.0v3.0h-3.0zM412.2 565.6h3.0v3.0h-3.0zM382.9 618.6h3.0v3.0h-3.0zM382.2 618.4h3.0v3.0h-3.0zM384.4 593.5h3.0v3.0h-3.0zM391.9 605.4h3.0v3.0h-3.0zM404.1 609.1h3.0v3.0h-3.0zM376.6 646.3h3.0v3.0h-3.0zM373.6 610.2h3.0v3.0h-3.0zM402.9 602.9h3.0v3.0h-3.0zM384.9 600.8h3.0v3.0h-3.0zM393.4 614.9h3.0v3.0h-3.0zM355.9 609.7h3.0v3.0h-3.0zM360.3 617.8h3.0v3.0h-3.0zM373.8 620.1h3.0v3.0h-3.0zM489.3 583.2h3.0v3.0h-3.0zM492.2 531.7h3.0v3.0h-3.0zM496.2 579.8h3.0v3.0h-3.0zM438.7 584.0h3.0v3.0h-3.0zM453.4 584.1h3.0v3.0h-3.0zM481.2 565.2h3.0v3.0h-3.0zM469.3 583.4h3.0v3.0h-3.0zM477.6 549.0h3.0v3.0h-3.0zM449.5 627.7h3.0v3.0h-3.0zM502.0 545.3h3.0v3.0h-3.0zM515.6 569.5h3.0v3.0h-3.0zM449.5 610.1h3.0v3.0h-3.0zM461.5 583.1h3.0v3.0h-3.0zM449.2 579.4h3.0v3.0h-3.0zM464.8 589.7h3.0v3.0h-3.0zM488.8 569.4h3.0v3.0h-3.0zM451.1 577.5h3.0v3.0h-3.0zM450.3 591.0h3.0v3.0h-3.0zM487.0 575.9h3.0v3.0h-3.0zM502.3 570.9h3.0v3.0h-3.0zM459.4 583.9h3.0v3.0h-3.0zM472.0 572.1h3.0v3.0h-3.0zM434.9 590.6h3.0v3.0h-3.0zM474.2 549.0h3.0v3.0h-3.0zM518.1 554.4h3.0v3.0h-3.0zM481.2 571.5h3.0v3.0h-3.0zM464.6 575.6h3.0v3.0h-3.0zM443.4 622.5h3.0v3.0h-3.0zM471.0 592.5h3.0v3.0h-3.0zM415.1 589.6h3.0v3.0h-3.0zM460.0 539.4h3.0v3.0h-3.0zM501.1 551.4h3.0v3.0h-3.0zM487.8 549.8h3.0v3.0h-3.0zM479.8 585.3h3.0v3.0h-3.0zM465.2 556.0h3.0v3.0h-3.0zM461.7 594.8h3.0v3.0h-3.0zM477.4 580.3h3.0v3.0h-3.0zM461.2 561.0h3.0v3.0h-3.0zM487.9 601.8h3.0v3.0h-3.0zM411.9 609.4h3.0v3.0h-3.0zM473.3 574.7h3.0v3.0h-3.0zM471.2 565.4h3.0v3.0h-3.0zM449.5 584.4h3.0v3.0h-3.0zM466.0 560.6h3.0v3.0h-3.0zM474.7 557.1h3.0v3.0h-3.0zM431.8 615.5h3.0v3.0h-3.0zM467.2 545.2h3.0v3.0h-3.0zM455.8 584.3h3.0v3.0h-3.0zM445.2 596.1h3.0v3.0h-3.0zM469.3 577.1h3.0v3.0h-3.0zM451.3 591.0h3.0v3.0h-3.0zM475.5 608.6h3.0v3.0h-3.0zM447.2 595.0h3.0v3.0h-3.0zM451.9 588.3h3.0v3.0h-3.0zM436.3 589.7h3.0v3.0h-3.0zM467.5 603.8h3.0v3.0h-3.0zM457.8 610.9h3.0v3.0h-3.0zM431.6 589.0h3.0v3.0h-3.0zM475.0 551.2h3.0v3.0h-3.0zM456.2 567.0h3.0v3.0h-3.0zM482.7 583.7h3.0v3.0h-3.0zM499.4 555.2h3.0v3.0h-3.0zM485.0 577.1h3.0v3.0h-3.0zM456.8 567.6h3.0v3.0h-3.0zM445.4 595.0h3.0v3.0h-3.0zM480.4 566.8h3.0v3.0h-3.0zM485.0 584.0h3.0v3.0h-3.0zM477.0 553.6h3.0v3.0h-3.0zM438.2 550.3h3.0v3.0h-3.0zM456.5 581.2h3.0v3.0h-3.0zM438.3 623.2h3.0v3.0h-3.0zM493.2 590.8h3.0v3.0h-3.0zM417.4 578.3h3.0v3.0h-3.0zM461.7 592.5h3.0v3.0h-3.0zM482.4 580.9h3.0v3.0h-3.0zM468.9 580.6h3.0v3.0h-3.0zM459.6 575.7h3.0v3.0h-3.0zM478.3 578.0h3.0v3.0h-3.0zM432.8 606.1h3.0v3.0h-3.0zM481.3 596.4h3.0v3.0h-3.0zM482.6 553.2h3.0v3.0h-3.0zM504.3 582.8h3.0v3.0h-3.0zM438.1 602.3h3.0v3.0h-3.0zM477.4 558.6h3.0v3.0h-3.0zM483.6 584.9h3.0v3.0h-3.0zM447.9 595.1h3.0v3.0h-3.0zM449.1 610.4h3.0v3.0h-3.0zM468.3 588.4h3.0v3.0h-3.0zM486.7 553.5h3.0v3.0h-3.0zM472.1 569.6h3.0v3.0h-3.0zM467.4 617.0h3.0v3.0h-3.0zM457.0 565.6h3.0v3.0h-3.0zM488.8 568.5h3.0v3.0h-3.0zM475.5 594.8h3.0v3.0h-3.0zM463.8 594.7h3.0v3.0h-3.0zM486.2 587.2h3.0v3.0h-3.0zM419.5 602.1h3.0v3.0h-3.0zM481.4 582.3h3.0v3.0h-3.0zM451.4 613.5h3.0v3.0h-3.0zM448.2 562.3h3.0v3.0h-3.0zM476.6 579.7h3.0v3.0h-3.0zM458.7 576.9h3.0v3.0h-3.0zM445.8 584.0h3.0v3.0h-3.0zM466.3 594.9h3.0v3.0h-3.0zM483.8 571.3h3.0v3.0h-3.0zM453.7 615.7h3.0v3.0h-3.0zM453.3 598.3h3.0v3.0h-3.0zM454.2 554.5h3.0v3.0h-3.0zM474.4 560.7h3.0v3.0h-3.0zM468.7 584.1h3.0v3.0h-3.0zM463.1 596.4h3.0v3.0h-3.0zM472.6 562.1h3.0v3.0h-3.0zM463.7 591.9h3.0v3.0h-3.0zM496.4 540.4h3.0v3.0h-3.0zM501.7 573.3h3.0v3.0h-3.0zM502.5 553.6h3.0v3.0h-3.0zM452.0 598.7h3.0v3.0h-3.0zM431.3 556.4h3.0v3.0h-3.0zM461.1 584.2h3.0v3.0h-3.0zM444.5 600.4h3.0v3.0h-3.0zM448.4 578.5h3.0v3.0h-3.0zM477.2 558.0h3.0v3.0h-3.0zM453.7 602.7h3.0v3.0h-3.0zM453.8 576.1h3.0v3.0h-3.0zM494.4 558.1h3.0v3.0h-3.0zM451.3 550.7h3.0v3.0h-3.0zM480.3 578.0h3.0v3.0h-3.0zM446.9 556.3h3.0v3.0h-3.0zM435.0 566.0h3.0v3.0h-3.0zM458.5 584.3h3.0v3.0h-3.0zM462.1 565.3h3.0v3.0h-3.0zM441.8 572.5h3.0v3.0h-3.0zM469.2 581.6h3.0v3.0h-3.0zM453.5 581.4h3.0v3.0h-3.0zM476.8 595.6h3.0v3.0h-3.0zM494.4 555.5h3.0v3.0h-3.0zM487.5 582.3h3.0v3.0h-3.0zM432.7 588.1h3.0v3.0h-3.0zM464.0 584.1h3.0v3.0h-3.0zM503.1 556.2h3.0v3.0h-3.0zM436.4 587.3h3.0v3.0h-3.0zM469.0 566.6h3.0v3.0h-3.0zM462.2 574.5h3.0v3.0h-3.0zM424.7 623.3h3.0v3.0h-3.0zM451.0 550.4h3.0v3.0h-3.0zM510.1 557.9h3.0v3.0h-3.0zM456.0 593.9h3.0v3.0h-3.0zM457.1 579.9h3.0v3.0h-3.0zM490.9 573.6h3.0v3.0h-3.0zM434.9 558.7h3.0v3.0h-3.0zM474.1 605.4h3.0v3.0h-3.0zM472.2 576.3h3.0v3.0h-3.0zM448.7 611.9h3.0v3.0h-3.0zM466.0 560.8h3.0v3.0h-3.0zM445.7 603.8h3.0v3.0h-3.0zM466.8 578.2h3.0v3.0h-3.0zM490.3 577.9h3.0v3.0h-3.0zM483.9 539.3h3.0v3.0h-3.0zM473.0 616.2h3.0v3.0h-3.0zM473.5 579.4h3.0v3.0h-3.0zM486.5 594.4h3.0v3.0h-3.0zM435.3 609.3h3.0v3.0h-3.0zM465.2 581.8h3.0v3.0h-3.0zM471.4 577.0h3.0v3.0h-3.0zM486.2 582.9h3.0v3.0h-3.0zM509.2 557.4h3.0v3.0h-3.0zM460.1 567.7h3.0v3.0h-3.0zM460.0 573.9h3.0v3.0h-3.0zM469.9 586.5h3.0v3.0h-3.0zM455.2 566.6h3.0v3.0h-3.0zM479.8 577.5h3.0v3.0h-3.0zM488.7 547.7h3.0v3.0h-3.0zM456.6 606.4h3.0v3.0h-3.0zM471.7 584.7h3.0v3.0h-3.0zM428.3 622.2h3.0v3.0h-3.0zM433.9 602.4h3.0v3.0h-3.0zM479.8 589.8h3.0v3.0h-3.0zM425.2 608.6h3.0v3.0h-3.0zM486.5 591.5h3.0v3.0h-3.0zM478.7 546.8h3.0v3.0h-3.0zM453.8 596.5h3.0v3.0h-3.0zM449.0 585.6h3.0v3.0h-3.0zM480.9 597.1h3.0v3.0h-3.0zM464.6 597.1h3.0v3.0h-3.0zM473.0 590.1h3.0v3.0h-3.0zM447.7 583.7h3.0v3.0h-3.0zM481.8 566.6h3.0v3.0h-3.0zM461.9 563.6h3.0v3.0h-3.0zM457.4 572.0h3.0v3.0h-3.0zM438.7 630.1h3.0v3.0h-3.0zM442.5 577.7h3.0v3.0h-3.0zM470.3 583.5h3.0v3.0h-3.0zM487.9 580.1h3.0v3.0h-3.0zM460.9 597.9h3.0v3.0h-3.0zM492.9 589.7h3.0v3.0h-3.0zM465.5 548.1h3.0v3.0h-3.0zM465.4 601.2h3.0v3.0h-3.0zM495.8 588.5h3.0v3.0h-3.0zM453.2 571.1h3.0v3.0h-3.0zM445.7 596.2h3.0v3.0h-3.0zM462.6 577.4h3.0v3.0h-3.0zM482.6 551.5h3.0v3.0h-3.0zM480.2 582.2h3.0v3.0h-3.0zM458.7 570.3h3.0v3.0h-3.0zM483.8 570.2h3.0v3.0h-3.0zM483.6 574.5h3.0v3.0h-3.0zM454.3 558.5h3.0v3.0h-3.0zM424.6 597.7h3.0v3.0h-3.0zM417.7 614.7h3.0v3.0h-3.0zM449.4 619.8h3.0v3.0h-3.0zM494.7 554.2h3.0v3.0h-3.0zM480.1 572.1h3.0v3.0h-3.0zM420.7 583.6h3.0v3.0h-3.0zM500.9 594.1h3.0v3.0h-3.0zM442.1 604.1h3.0v3.0h-3.0zM475.7 586.2h3.0v3.0h-3.0zM494.9 582.4h3.0v3.0h-3.0zM468.3 589.0h3.0v3.0h-3.0zM473.4 561.6h3.0v3.0h-3.0zM472.5 558.1h3.0v3.0h-3.0zM449.5 624.3h3.0v3.0h-3.0zM448.8 565.3h3.0v3.0h-3.0zM483.9 586.8h3.0v3.0h-3.0zM474.3 611.8h3.0v3.0h-3.0zM436.0 597.2h3.0v3.0h-3.0zM487.0 555.8h3.0v3.0h-3.0zM476.3 586.9h3.0v3.0h-3.0zM460.5 598.5h3.0v3.0h-3.0zM451.7 599.5h3.0v3.0h-3.0zM482.6 561.3h3.0v3.0h-3.0zM469.8 606.4h3.0v3.0h-3.0zM473.6 581.9h3.0v3.0h-3.0zM455.2 578.6h3.0v3.0h-3.0zM489.2 610.6h3.0v3.0h-3.0zM464.0 578.6h3.0v3.0h-3.0zM461.8 612.4h3.0v3.0h-3.0zM426.9 588.1h3.0v3.0h-3.0zM481.0 575.8h3.0v3.0h-3.0zM469.9 535.7h3.0v3.0h-3.0zM460.9 555.9h3.0v3.0h-3.0zM436.8 578.3h3.0v3.0h-3.0zM464.2 579.2h3.0v3.0h-3.0zM462.9 597.8h3.0v3.0h-3.0zM451.6 615.0h3.0v3.0h-3.0zM442.6 590.6h3.0v3.0h-3.0zM437.1 568.1h3.0v3.0h-3.0zM440.5 532.3h3.0v3.0h-3.0zM447.1 600.1h3.0v3.0h-3.0zM481.2 559.4h3.0v3.0h-3.0zM459.8 573.4h3.0v3.0h-3.0zM495.0 573.5h3.0v3.0h-3.0zM490.4 575.3h3.0v3.0h-3.0zM484.4 596.5h3.0v3.0h-3.0zM482.2 596.4h3.0v3.0h-3.0zM486.4 594.2h3.0v3.0h-3.0zM471.6 576.9h3.0v3.0h-3.0zM471.2 561.4h3.0v3.0h-3.0zM489.1 542.4h3.0v3.0h-3.0zM474.8 568.2h3.0v3.0h-3.0zM496.8 560.4h3.0v3.0h-3.0zM465.9 545.9h3.0v3.0h-3.0zM457.1 582.2h3.0v3.0h-3.0zM478.1 576.3h3.0v3.0h-3.0zM492.1 587.9h3.0v3.0h-3.0zM478.1 562.9h3.0v3.0h-3.0zM455.8 581.3h3.0v3.0h-3.0zM480.9 558.9h3.0v3.0h-3.0zM468.0 603.5h3.0v3.0h-3.0zM444.9 561.1h3.0v3.0h-3.0zM484.3 578.6h3.0v3.0h-3.0zM455.7 561.9h3.0v3.0h-3.0zM448.0 589.4h3.0v3.0h-3.0zM453.7 611.3h3.0v3.0h-3.0zM453.4 583.7h3.0v3.0h-3.0zM453.5 590.3h3.0v3.0h-3.0zM494.1 537.6h3.0v3.0h-3.0zM431.7 576.8h3.0v3.0h-3.0zM455.0 618.0h3.0v3.0h-3.0zM502.1 544.9h3.0v3.0h-3.0zM438.8 607.8h3.0v3.0h-3.0zM451.4 584.2h3.0v3.0h-3.0zM473.9 572.2h3.0v3.0h-3.0zM467.2 581.3h3.0v3.0h-3.0zM475.9 581.1h3.0v3.0h-3.0zM483.3 545.9h3.0v3.0h-3.0zM502.2 540.1h3.0v3.0h-3.0zM473.2 581.2h3.0v3.0h-3.0zM470.3 572.6h3.0v3.0h-3.0zM461.4 586.2h3.0v3.0h-3.0zM451.6 582.8h3.0v3.0h-3.0zM461.2 591.0h3.0v3.0h-3.0zM466.7 574.3h3.0v3.0h-3.0zM436.5 563.7h3.0v3.0h-3.0zM461.2 565.6h3.0v3.0h-3.0zM462.6 594.6h3.0v3.0h-3.0zM473.2 629.5h3.0v3.0h-3.0zM452.1 578.2h3.0v3.0h-3.0zM441.5 562.9h3.0v3.0h-3.0zM462.8 597.5h3.0v3.0h-3.0zM481.0 616.6h3.0v3.0h-3.0zM467.5 566.2h3.0v3.0h-3.0zM440.0 599.1h3.0v3.0h-3.0zM478.9 566.3h3.0v3.0h-3.0zM467.8 607.4h3.0v3.0h-3.0zM443.3 561.4h3.0v3.0h-3.0zM495.3 574.0h3.0v3.0h-3.0zM482.1 569.6h3.0v3.0h-3.0zM432.6 609.3h3.0v3.0h-3.0zM469.3 575.4h3.0v3.0h-3.0zM495.8 570.9h3.0v3.0h-3.0zM458.6 608.9h3.0v3.0h-3.0zM443.3 572.9h3.0v3.0h-3.0zM486.1 559.4h3.0v3.0h-3.0zM450.6 611.0h3.0v3.0h-3.0zM483.2 541.1h3.0v3.0h-3.0zM451.0 613.4h3.0v3.0h-3.0zM461.0 603.3h3.0v3.0h-3.0zM455.2 590.4h3.0v3.0h-3.0zM442.4 571.0h3.0v3.0h-3.0zM468.8 559.4h3.0v3.0h-3.0zM467.4 570.2h3.0v3.0h-3.0zM472.3 584.7h3.0v3.0h-3.0zM468.9 579.1h3.0v3.0h-3.0zM436.2 605.8h3.0v3.0h-3.0zM461.1 600.4h3.0v3.0h-3.0zM483.3 565.5h3.0v3.0h-3.0zM441.6 597.3h3.0v3.0h-3.0zM489.3 561.3h3.0v3.0h-3.0zM463.3 586.8h3.0v3.0h-3.0zM441.6 591.4h3.0v3.0h-3.0zM469.4 559.7h3.0v3.0h-3.0zM474.0 566.2h3.0v3.0h-3.0zM453.6 592.7h3.0v3.0h-3.0zM438.1 570.9h3.0v3.0h-3.0zM445.0 589.4h3.0v3.0h-3.0zM446.7 583.0h3.0v3.0h-3.0zM409.0 598.6h3.0v3.0h-3.0zM461.7 603.0h3.0v3.0h-3.0zM482.0 557.1h3.0v3.0h-3.0zM431.2 560.4h3.0v3.0h-3.0zM482.2 588.9h3.0v3.0h-3.0zM482.1 572.9h3.0v3.0h-3.0zM439.2 545.4h3.0v3.0h-3.0zM460.7 594.3h3.0v3.0h-3.0zM458.2 593.4h3.0v3.0h-3.0zM453.7 588.2h3.0v3.0h-3.0zM477.6 585.3h3.0v3.0h-3.0zM451.4 579.1h3.0v3.0h-3.0zM486.9 580.8h3.0v3.0h-3.0zM488.2 545.4h3.0v3.0h-3.0zM473.9 573.7h3.0v3.0h-3.0zM435.9 597.7h3.0v3.0h-3.0zM470.4 575.4h3.0v3.0h-3.0zM458.1 579.9h3.0v3.0h-3.0zM445.9 572.8h3.0v3.0h-3.0zM452.7 592.9h3.0v3.0h-3.0zM455.3 579.0h3.0v3.0h-3.0zM522.7 534.5h3.0v3.0h-3.0zM504.5 516.1h3.0v3.0h-3.0zM502.1 562.1h3.0v3.0h-3.0zM434.2 576.5h3.0v3.0h-3.0zM453.3 560.6h3.0v3.0h-3.0zM476.1 555.0h3.0v3.0h-3.0zM468.0 596.0h3.0v3.0h-3.0zM475.1 570.2h3.0v3.0h-3.0zM482.1 560.8h3.0v3.0h-3.0zM494.5 559.6h3.0v3.0h-3.0zM464.8 563.9h3.0v3.0h-3.0zM469.8 573.9h3.0v3.0h-3.0zM465.9 590.0h3.0v3.0h-3.0zM457.0 582.9h3.0v3.0h-3.0zM453.2 561.5h3.0v3.0h-3.0zM477.9 600.2h3.0v3.0h-3.0zM478.7 568.9h3.0v3.0h-3.0zM453.9 556.0h3.0v3.0h-3.0zM452.0 573.3h3.0v3.0h-3.0zM461.0 587.8h3.0v3.0h-3.0zM464.8 558.9h3.0v3.0h-3.0zM456.1 552.2h3.0v3.0h-3.0zM439.8 571.9h3.0v3.0h-3.0zM463.7 579.6h3.0v3.0h-3.0zM477.9 587.6h3.0v3.0h-3.0zM461.5 597.0h3.0v3.0h-3.0zM443.5 602.5h3.0v3.0h-3.0zM514.8 546.0h3.0v3.0h-3.0zM455.5 592.8h3.0v3.0h-3.0zM458.6 585.1h3.0v3.0h-3.0zM468.0 594.1h3.0v3.0h-3.0zM461.4 577.4h3.0v3.0h-3.0zM486.0 575.5h3.0v3.0h-3.0zM454.3 539.7h3.0v3.0h-3.0zM436.5 568.3h3.0v3.0h-3.0zM475.9 581.5h3.0v3.0h-3.0zM474.1 568.1h3.0v3.0h-3.0zM445.8 565.1h3.0v3.0h-3.0zM500.5 583.4h3.0v3.0h-3.0zM489.5 600.8h3.0v3.0h-3.0zM480.1 565.9h3.0v3.0h-3.0zM448.1 597.1h3.0v3.0h-3.0zM486.7 542.7h3.0v3.0h-3.0zM443.5 560.0h3.0v3.0h-3.0zM444.2 590.4h3.0v3.0h-3.0zM440.1 581.0h3.0v3.0h-3.0zM449.8 588.2h3.0v3.0h-3.0zM467.1 569.5h3.0v3.0h-3.0zM419.7 604.8h3.0v3.0h-3.0zM447.5 591.5h3.0v3.0h-3.0zM498.4 578.4h3.0v3.0h-3.0zM475.6 545.7h3.0v3.0h-3.0zM446.6 593.2h3.0v3.0h-3.0zM480.2 589.3h3.0v3.0h-3.0zM474.2 578.9h3.0v3.0h-3.0zM462.8 581.2h3.0v3.0h-3.0zM453.5 581.8h3.0v3.0h-3.0zM471.4 553.5h3.0v3.0h-3.0zM454.5 571.8h3.0v3.0h-3.0zM478.8 583.7h3.0v3.0h-3.0zM476.7 560.2h3.0v3.0h-3.0zM465.2 608.2h3.0v3.0h-3.0zM462.0 603.0h3.0v3.0h-3.0zM512.2 550.4h3.0v3.0h-3.0zM460.7 604.7h3.0v3.0h-3.0zM486.7 559.5h3.0v3.0h-3.0zM507.8 582.4h3.0v3.0h-3.0zM466.2 571.4h3.0v3.0h-3.0zM470.5 591.3h3.0v3.0h-3.0zM468.9 581.2h3.0v3.0h-3.0zM456.7 590.2h3.0v3.0h-3.0zM462.7 570.2h3.0v3.0h-3.0zM467.3 584.1h3.0v3.0h-3.0zM452.2 577.3h3.0v3.0h-3.0zM473.2 596.4h3.0v3.0h-3.0zM484.6 567.3h3.0v3.0h-3.0zM476.0 586.4h3.0v3.0h-3.0zM461.8 577.6h3.0v3.0h-3.0zM502.1 549.8h3.0v3.0h-3.0zM468.5 578.7h3.0v3.0h-3.0zM473.4 561.7h3.0v3.0h-3.0zM452.3 589.8h3.0v3.0h-3.0zM437.3 578.2h3.0v3.0h-3.0zM469.0 561.5h3.0v3.0h-3.0zM490.4 569.9h3.0v3.0h-3.0zM400.7 603.6h3.0v3.0h-3.0zM454.0 536.8h3.0v3.0h-3.0zM482.1 566.8h3.0v3.0h-3.0zM482.3 594.0h3.0v3.0h-3.0zM472.8 560.9h3.0v3.0h-3.0zM446.4 589.9h3.0v3.0h-3.0zM471.4 568.6h3.0v3.0h-3.0zM456.0 603.8h3.0v3.0h-3.0zM450.2 566.2h3.0v3.0h-3.0zM458.9 581.7h3.0v3.0h-3.0zM468.1 573.8h3.0v3.0h-3.0zM459.4 617.0h3.0v3.0h-3.0zM472.2 575.0h3.0v3.0h-3.0zM467.9 566.7h3.0v3.0h-3.0zM476.5 549.1h3.0v3.0h-3.0zM445.0 573.2h3.0v3.0h-3.0zM455.4 547.4h3.0v3.0h-3.0zM440.9 571.3h3.0v3.0h-3.0zM468.5 562.8h3.0v3.0h-3.0zM453.6 586.1h3.0v3.0h-3.0zM437.5 582.3h3.0v3.0h-3.0zM460.5 592.6h3.0v3.0h-3.0zM490.7 552.2h3.0v3.0h-3.0zM492.0 557.2h3.0v3.0h-3.0zM487.5 600.7h3.0v3.0h-3.0zM462.4 569.4h3.0v3.0h-3.0zM475.8 575.9h3.0v3.0h-3.0zM450.5 611.9h3.0v3.0h-3.0zM491.8 538.1h3.0v3.0h-3.0zM443.7 584.4h3.0v3.0h-3.0zM445.0 595.4h3.0v3.0h-3.0zM462.3 579.6h3.0v3.0h-3.0zM451.0 594.0h3.0v3.0h-3.0zM473.2 575.0h3.0v3.0h-3.0zM483.6 575.7h3.0v3.0h-3.0zM455.3 576.7h3.0v3.0h-3.0zM459.9 564.6h3.0v3.0h-3.0zM455.6 586.7h3.0v3.0h-3.0zM442.7 609.8h3.0v3.0h-3.0zM434.8 585.0h3.0v3.0h-3.0zM503.6 552.1h3.0v3.0h-3.0zM464.5 579.9h3.0v3.0h-3.0zM431.7 602.0h3.0v3.0h-3.0zM443.9 591.4h3.0v3.0h-3.0zM456.0 596.3h3.0v3.0h-3.0zM482.7 571.4h3.0v3.0h-3.0zM473.1 582.3h3.0v3.0h-3.0zM487.5 552.4h3.0v3.0h-3.0zM500.8 552.1h3.0v3.0h-3.0zM479.7 572.5h3.0v3.0h-3.0zM476.6 571.0h3.0v3.0h-3.0zM477.7 547.8h3.0v3.0h-3.0zM469.7 596.4h3.0v3.0h-3.0zM471.1 593.2h3.0v3.0h-3.0zM436.5 601.3h3.0v3.0h-3.0zM491.5 580.3h3.0v3.0h-3.0zM441.6 579.4h3.0v3.0h-3.0zM471.2 573.8h3.0v3.0h-3.0zM498.4 530.7h3.0v3.0h-3.0zM424.1 575.3h3.0v3.0h-3.0zM457.1 584.7h3.0v3.0h-3.0zM442.5 586.1h3.0v3.0h-3.0zM444.3 592.6h3.0v3.0h-3.0zM487.3 578.2h3.0v3.0h-3.0zM450.1 616.7h3.0v3.0h-3.0zM472.9 576.2h3.0v3.0h-3.0zM471.0 581.5h3.0v3.0h-3.0zM491.7 571.7h3.0v3.0h-3.0zM436.5 606.8h3.0v3.0h-3.0zM435.8 587.4h3.0v3.0h-3.0zM487.3 569.2h3.0v3.0h-3.0zM434.5 606.7h3.0v3.0h-3.0zM490.0 601.8h3.0v3.0h-3.0zM479.2 555.1h3.0v3.0h-3.0zM449.0 613.5h3.0v3.0h-3.0zM457.4 607.4h3.0v3.0h-3.0zM477.8 562.6h3.0v3.0h-3.0zM459.6 617.6h3.0v3.0h-3.0zM493.5 583.3h3.0v3.0h-3.0zM501.4 580.4h3.0v3.0h-3.0zM480.6 596.1h3.0v3.0h-3.0zM466.4 583.7h3.0v3.0h-3.0zM452.5 565.8h3.0v3.0h-3.0zM464.5 602.5h3.0v3.0h-3.0zM485.6 575.2h3.0v3.0h-3.0zM462.8 551.2h3.0v3.0h-3.0zM450.1 561.8h3.0v3.0h-3.0zM461.5 564.5h3.0v3.0h-3.0zM435.1 593.2h3.0v3.0h-3.0zM439.3 582.9h3.0v3.0h-3.0zM415.6 597.4h3.0v3.0h-3.0zM445.0 576.8h3.0v3.0h-3.0zM481.1 568.2h3.0v3.0h-3.0zM473.8 580.7h3.0v3.0h-3.0zM448.0 577.9h3.0v3.0h-3.0zM462.0 590.5h3.0v3.0h-3.0zM445.6 571.4h3.0v3.0h-3.0zM462.7 539.8h3.0v3.0h-3.0zM444.2 596.7h3.0v3.0h-3.0zM480.0 554.6h3.0v3.0h-3.0zM465.9 562.1h3.0v3.0h-3.0zM435.3 597.2h3.0v3.0h-3.0zM483.2 579.3h3.0v3.0h-3.0zM488.1 580.7h3.0v3.0h-3.0zM456.9 584.0h3.0v3.0h-3.0zM495.1 550.7h3.0v3.0h-3.0zM462.5 604.5h3.0v3.0h-3.0zM461.0 587.9h3.0v3.0h-3.0zM464.7 570.9h3.0v3.0h-3.0zM466.6 562.4h3.0v3.0h-3.0zM456.4 574.9h3.0v3.0h-3.0zM476.3 559.5h3.0v3.0h-3.0zM450.6 583.3h3.0v3.0h-3.0zM463.1 558.0h3.0v3.0h-3.0zM474.8 595.7h3.0v3.0h-3.0zM486.5 603.6h3.0v3.0h-3.0zM446.8 592.2h3.0v3.0h-3.0zM453.8 569.7h3.0v3.0h-3.0zM443.3 607.4h3.0v3.0h-3.0zM415.9 572.3h3.0v3.0h-3.0zM450.2 567.4h3.0v3.0h-3.0zM474.6 561.5h3.0v3.0h-3.0zM452.9 601.7h3.0v3.0h-3.0zM482.6 583.5h3.0v3.0h-3.0zM504.5 546.7h3.0v3.0h-3.0zM482.5 580.6h3.0v3.0h-3.0zM468.1 561.3h3.0v3.0h-3.0zM455.7 573.7h3.0v3.0h-3.0zM428.3 604.6h3.0v3.0h-3.0zM464.7 594.0h3.0v3.0h-3.0zM465.7 577.9h3.0v3.0h-3.0zM455.6 608.2h3.0v3.0h-3.0zM458.7 565.3h3.0v3.0h-3.0zM456.1 595.0h3.0v3.0h-3.0zM488.8 577.5h3.0v3.0h-3.0zM460.5 570.0h3.0v3.0h-3.0zM480.5 588.7h3.0v3.0h-3.0zM471.8 573.0h3.0v3.0h-3.0zM456.4 574.4h3.0v3.0h-3.0zM499.6 563.8h3.0v3.0h-3.0zM442.4 591.7h3.0v3.0h-3.0zM458.5 600.6h3.0v3.0h-3.0zM445.8 557.9h3.0v3.0h-3.0zM467.9 577.6h3.0v3.0h-3.0zM450.8 609.4h3.0v3.0h-3.0zM467.0 546.0h3.0v3.0h-3.0zM479.3 602.9h3.0v3.0h-3.0zM473.4 565.6h3.0v3.0h-3.0zM469.5 604.4h3.0v3.0h-3.0zM453.3 582.6h3.0v3.0h-3.0zM479.3 585.4h3.0v3.0h-3.0zM465.5 594.8h3.0v3.0h-3.0zM458.8 594.8h3.0v3.0h-3.0zM456.5 557.6h3.0v3.0h-3.0zM485.2 574.9h3.0v3.0h-3.0zM446.0 564.0h3.0v3.0h-3.0zM476.0 576.4h3.0v3.0h-3.0zM454.0 593.5h3.0v3.0h-3.0zM470.2 570.3h3.0v3.0h-3.0zM450.6 591.6h3.0v3.0h-3.0zM462.4 563.9h3.0v3.0h-3.0zM459.5 608.5h3.0v3.0h-3.0zM468.7 574.7h3.0v3.0h-3.0zM494.2 579.1h3.0v3.0h-3.0zM487.4 602.1h3.0v3.0h-3.0zM446.4 614.9h3.0v3.0h-3.0zM504.0 574.0h3.0v3.0h-3.0zM445.9 579.1h3.0v3.0h-3.0zM416.4 599.2h3.0v3.0h-3.0zM504.6 561.4h3.0v3.0h-3.0zM443.6 576.2h3.0v3.0h-3.0zM489.0 584.3h3.0v3.0h-3.0zM467.2 573.6h3.0v3.0h-3.0zM517.1 574.5h3.0v3.0h-3.0zM496.0 560.1h3.0v3.0h-3.0zM438.0 609.2h3.0v3.0h-3.0zM494.5 599.3h3.0v3.0h-3.0zM457.2 608.3h3.0v3.0h-3.0zM471.8 591.0h3.0v3.0h-3.0zM472.6 596.1h3.0v3.0h-3.0zM456.4 576.0h3.0v3.0h-3.0zM431.3 583.4h3.0v3.0h-3.0zM493.8 592.1h3.0v3.0h-3.0zM473.6 561.5h3.0v3.0h-3.0zM478.8 568.2h3.0v3.0h-3.0zM486.3 538.7h3.0v3.0h-3.0zM469.2 591.5h3.0v3.0h-3.0zM431.9 572.8h3.0v3.0h-3.0zM466.5 578.8h3.0v3.0h-3.0zM428.1 626.6h3.0v3.0h-3.0zM469.8 595.9h3.0v3.0h-3.0zM453.2 610.4h3.0v3.0h-3.0zM441.9 593.7h3.0v3.0h-3.0zM446.3 605.5h3.0v3.0h-3.0zM435.4 590.0h3.0v3.0h-3.0zM475.9 585.8h3.0v3.0h-3.0zM447.5 621.9h3.0v3.0h-3.0zM446.2 595.8h3.0v3.0h-3.0zM476.5 594.6h3.0v3.0h-3.0zM462.7 590.3h3.0v3.0h-3.0zM484.6 560.1h3.0v3.0h-3.0zM468.2 584.7h3.0v3.0h-3.0zM497.7 551.7h3.0v3.0h-3.0zM476.9 567.8h3.0v3.0h-3.0zM443.5 595.2h3.0v3.0h-3.0zM484.5 612.4h3.0v3.0h-3.0zM485.9 553.3h3.0v3.0h-3.0zM440.6 601.6h3.0v3.0h-3.0zM458.2 609.7h3.0v3.0h-3.0zM425.0 601.0h3.0v3.0h-3.0zM460.2 581.4h3.0v3.0h-3.0zM487.3 576.2h3.0v3.0h-3.0zM479.1 560.1h3.0v3.0h-3.0zM460.2 583.9h3.0v3.0h-3.0zM434.3 594.1h3.0v3.0h-3.0zM462.6 571.8h3.0v3.0h-3.0zM453.0 574.6h3.0v3.0h-3.0zM460.3 548.9h3.0v3.0h-3.0zM474.4 585.7h3.0v3.0h-3.0zM482.9 561.3h3.0v3.0h-3.0zM448.4 583.0h3.0v3.0h-3.0zM452.9 566.0h3.0v3.0h-3.0zM455.3 574.3h3.0v3.0h-3.0zM451.1 581.0h3.0v3.0h-3.0zM448.6 546.0h3.0v3.0h-3.0zM441.0 613.4h3.0v3.0h-3.0zM434.7 599.2h3.0v3.0h-3.0zM409.6 604.0h3.0v3.0h-3.0zM460.3 574.5h3.0v3.0h-3.0zM475.0 565.2h3.0v3.0h-3.0zM474.9 578.0h3.0v3.0h-3.0zM488.1 551.8h3.0v3.0h-3.0zM475.3 588.8h3.0v3.0h-3.0zM441.5 584.8h3.0v3.0h-3.0zM476.6 582.1h3.0v3.0h-3.0zM462.6 570.7h3.0v3.0h-3.0zM464.2 572.5h3.0v3.0h-3.0zM490.2 570.8h3.0v3.0h-3.0zM453.3 595.9h3.0v3.0h-3.0zM448.9 588.6h3.0v3.0h-3.0zM468.6 585.6h3.0v3.0h-3.0zM481.7 556.5h3.0v3.0h-3.0zM442.1 578.9h3.0v3.0h-3.0zM498.1 571.1h3.0v3.0h-3.0zM488.9 558.7h3.0v3.0h-3.0zM438.5 560.4h3.0v3.0h-3.0zM455.4 589.1h3.0v3.0h-3.0zM460.7 576.3h3.0v3.0h-3.0zM446.2 610.8h3.0v3.0h-3.0zM492.5 556.3h3.0v3.0h-3.0zM480.4 590.0h3.0v3.0h-3.0zM492.4 571.6h3.0v3.0h-3.0zM436.0 565.9h3.0v3.0h-3.0zM487.6 597.9h3.0v3.0h-3.0zM467.5 586.3h3.0v3.0h-3.0zM498.9 560.7h3.0v3.0h-3.0zM462.7 613.0h3.0v3.0h-3.0zM481.2 554.2h3.0v3.0h-3.0zM466.3 577.8h3.0v3.0h-3.0zM455.2 567.4h3.0v3.0h-3.0zM448.0 619.4h3.0v3.0h-3.0zM472.4 591.9h3.0v3.0h-3.0zM469.5 598.1h3.0v3.0h-3.0zM458.8 550.2h3.0v3.0h-3.0zM437.0 562.2h3.0v3.0h-3.0zM458.7 592.8h3.0v3.0h-3.0zM501.6 589.3h3.0v3.0h-3.0zM476.6 584.0h3.0v3.0h-3.0zM458.1 585.8h3.0v3.0h-3.0zM469.7 576.7h3.0v3.0h-3.0zM461.3 555.0h3.0v3.0h-3.0zM474.1 595.2h3.0v3.0h-3.0zM461.7 577.4h3.0v3.0h-3.0zM488.0 551.7h3.0v3.0h-3.0zM463.8 578.4h3.0v3.0h-3.0zM421.0 602.8h3.0v3.0h-3.0zM466.7 550.8h3.0v3.0h-3.0zM483.1 553.3h3.0v3.0h-3.0zM485.9 566.7h3.0v3.0h-3.0zM476.0 557.9h3.0v3.0h-3.0zM425.0 602.8h3.0v3.0h-3.0zM461.3 606.0h3.0v3.0h-3.0zM476.7 589.8h3.0v3.0h-3.0zM467.9 577.0h3.0v3.0h-3.0zM466.7 582.3h3.0v3.0h-3.0zM468.5 629.3h3.0v3.0h-3.0zM430.1 562.5h3.0v3.0h-3.0zM488.5 575.0h3.0v3.0h-3.0zM498.2 544.5h3.0v3.0h-3.0zM431.3 596.0h3.0v3.0h-3.0zM456.6 567.6h3.0v3.0h-3.0zM440.7 584.7h3.0v3.0h-3.0zM478.6 563.2h3.0v3.0h-3.0zM481.9 592.2h3.0v3.0h-3.0zM480.6 583.1h3.0v3.0h-3.0zM466.2 578.7h3.0v3.0h-3.0zM467.3 607.2h3.0v3.0h-3.0zM445.8 582.7h3.0v3.0h-3.0zM467.8 594.3h3.0v3.0h-3.0zM479.4 565.2h3.0v3.0h-3.0zM510.5 564.7h3.0v3.0h-3.0zM471.1 551.1h3.0v3.0h-3.0zM453.9 574.8h3.0v3.0h-3.0zM507.4 574.9h3.0v3.0h-3.0zM468.5 572.0h3.0v3.0h-3.0zM472.6 587.2h3.0v3.0h-3.0zM469.6 582.9h3.0v3.0h-3.0zM455.3 601.7h3.0v3.0h-3.0zM421.5 580.4h3.0v3.0h-3.0zM438.2 573.4h3.0v3.0h-3.0zM438.6 556.4h3.0v3.0h-3.0zM466.5 576.0h3.0v3.0h-3.0zM420.4 570.8h3.0v3.0h-3.0zM467.2 590.2h3.0v3.0h-3.0zM420.6 590.3h3.0v3.0h-3.0zM475.3 547.2h3.0v3.0h-3.0zM457.9 591.5h3.0v3.0h-3.0zM462.4 613.6h3.0v3.0h-3.0zM479.3 573.3h3.0v3.0h-3.0zM460.0 572.6h3.0v3.0h-3.0zM460.8 611.2h3.0v3.0h-3.0zM491.3 549.9h3.0v3.0h-3.0zM444.3 584.2h3.0v3.0h-3.0zM461.9 559.9h3.0v3.0h-3.0zM448.9 579.9h3.0v3.0h-3.0zM485.0 575.5h3.0v3.0h-3.0zM467.9 554.9h3.0v3.0h-3.0zM454.7 590.8h3.0v3.0h-3.0zM440.9 575.3h3.0v3.0h-3.0zM489.9 566.9h3.0v3.0h-3.0zM452.5 554.9h3.0v3.0h-3.0zM482.2 566.3h3.0v3.0h-3.0zM478.5 581.8h3.0v3.0h-3.0zM467.5 542.0h3.0v3.0h-3.0zM470.6 562.8h3.0v3.0h-3.0zM448.3 574.4h3.0v3.0h-3.0zM491.7 553.5h3.0v3.0h-3.0zM473.4 588.2h3.0v3.0h-3.0zM461.8 568.9h3.0v3.0h-3.0zM457.2 557.4h3.0v3.0h-3.0zM515.8 593.3h3.0v3.0h-3.0zM450.4 585.8h3.0v3.0h-3.0zM465.7 575.2h3.0v3.0h-3.0zM466.6 582.2h3.0v3.0h-3.0zM472.7 594.1h3.0v3.0h-3.0zM440.0 584.1h3.0v3.0h-3.0zM421.3 620.6h3.0v3.0h-3.0zM453.3 589.7h3.0v3.0h-3.0zM490.3 573.0h3.0v3.0h-3.0zM456.2 570.6h3.0v3.0h-3.0zM451.6 576.6h3.0v3.0h-3.0zM450.8 567.8h3.0v3.0h-3.0zM488.0 574.7h3.0v3.0h-3.0zM462.1 579.1h3.0v3.0h-3.0zM474.7 600.4h3.0v3.0h-3.0zM464.3 559.7h3.0v3.0h-3.0zM502.9 586.0h3.0v3.0h-3.0zM462.1 561.5h3.0v3.0h-3.0zM469.8 576.5h3.0v3.0h-3.0zM448.1 616.8h3.0v3.0h-3.0zM430.8 594.6h3.0v3.0h-3.0zM472.6 586.2h3.0v3.0h-3.0zM469.7 604.0h3.0v3.0h-3.0zM430.9 557.7h3.0v3.0h-3.0zM455.7 559.7h3.0v3.0h-3.0zM476.5 567.8h3.0v3.0h-3.0zM510.7 534.6h3.0v3.0h-3.0zM452.3 596.0h3.0v3.0h-3.0zM474.8 583.6h3.0v3.0h-3.0zM487.1 522.9h3.0v3.0h-3.0zM459.5 599.1h3.0v3.0h-3.0zM479.7 575.7h3.0v3.0h-3.0zM438.5 584.9h3.0v3.0h-3.0zM491.5 567.0h3.0v3.0h-3.0zM460.9 599.2h3.0v3.0h-3.0zM470.5 564.0h3.0v3.0h-3.0zM473.1 559.4h3.0v3.0h-3.0zM460.7 588.9h3.0v3.0h-3.0zM443.1 603.0h3.0v3.0h-3.0zM467.9 610.8h3.0v3.0h-3.0zM458.6 565.5h3.0v3.0h-3.0zM464.4 558.5h3.0v3.0h-3.0zM473.0 560.6h3.0v3.0h-3.0zM464.1 608.4h3.0v3.0h-3.0zM496.8 568.1h3.0v3.0h-3.0zM493.3 595.0h3.0v3.0h-3.0zM453.2 564.3h3.0v3.0h-3.0zM447.3 579.1h3.0v3.0h-3.0zM447.4 591.9h3.0v3.0h-3.0zM438.0 623.3h3.0v3.0h-3.0zM445.1 574.8h3.0v3.0h-3.0zM465.0 581.8h3.0v3.0h-3.0zM491.9 557.3h3.0v3.0h-3.0zM476.3 566.0h3.0v3.0h-3.0zM443.6 594.2h3.0v3.0h-3.0zM482.5 576.9h3.0v3.0h-3.0zM455.4 605.0h3.0v3.0h-3.0zM495.3 540.9h3.0v3.0h-3.0zM520.1 551.6h3.0v3.0h-3.0zM480.0 581.9h3.0v3.0h-3.0zM460.6 590.5h3.0v3.0h-3.0zM481.2 547.7h3.0v3.0h-3.0zM482.0 581.0h3.0v3.0h-3.0zM469.0 561.8h3.0v3.0h-3.0zM467.0 568.6h3.0v3.0h-3.0zM467.9 602.5h3.0v3.0h-3.0zM488.9 581.2h3.0v3.0h-3.0zM495.4 568.2h3.0v3.0h-3.0zM475.0 579.7h3.0v3.0h-3.0zM473.5 597.0h3.0v3.0h-3.0zM464.5 587.5h3.0v3.0h-3.0zM488.1 577.5h3.0v3.0h-3.0zM472.3 548.2h3.0v3.0h-3.0zM442.4 558.4h3.0v3.0h-3.0zM445.0 595.0h3.0v3.0h-3.0zM471.4 569.3h3.0v3.0h-3.0zM452.1 571.5h3.0v3.0h-3.0zM477.8 584.1h3.0v3.0h-3.0zM493.8 541.6h3.0v3.0h-3.0zM498.4 567.2h3.0v3.0h-3.0zM450.6 627.2h3.0v3.0h-3.0zM446.2 585.9h3.0v3.0h-3.0zM466.0 575.7h3.0v3.0h-3.0zM432.7 596.9h3.0v3.0h-3.0zM410.7 581.0h3.0v3.0h-3.0zM455.2 579.3h3.0v3.0h-3.0zM450.8 577.4h3.0v3.0h-3.0zM454.7 577.0h3.0v3.0h-3.0zM462.6 566.5h3.0v3.0h-3.0zM446.4 581.5h3.0v3.0h-3.0zM469.9 593.0h3.0v3.0h-3.0zM459.2 578.3h3.0v3.0h-3.0zM462.8 542.1h3.0v3.0h-3.0zM438.6 618.8h3.0v3.0h-3.0zM479.7 582.7h3.0v3.0h-3.0zM443.8 622.0h3.0v3.0h-3.0zM439.3 603.9h3.0v3.0h-3.0zM468.9 574.6h3.0v3.0h-3.0zM477.7 584.2h3.0v3.0h-3.0zM476.4 584.0h3.0v3.0h-3.0zM461.6 580.2h3.0v3.0h-3.0zM470.7 586.4h3.0v3.0h-3.0zM459.7 602.1h3.0v3.0h-3.0zM489.4 604.5h3.0v3.0h-3.0zM491.4 565.4h3.0v3.0h-3.0zM434.4 618.6h3.0v3.0h-3.0zM443.9 565.9h3.0v3.0h-3.0zM446.4 586.3h3.0v3.0h-3.0zM428.7 594.2h3.0v3.0h-3.0zM447.2 571.8h3.0v3.0h-3.0zM442.1 559.5h3.0v3.0h-3.0zM428.7 637.4h3.0v3.0h-3.0zM438.4 630.4h3.0v3.0h-3.0zM466.3 584.6h3.0v3.0h-3.0zM454.7 577.2h3.0v3.0h-3.0zM486.1 556.8h3.0v3.0h-3.0zM464.9 595.0h3.0v3.0h-3.0zM485.0 561.8h3.0v3.0h-3.0zM444.7 570.8h3.0v3.0h-3.0zM442.1 593.7h3.0v3.0h-3.0zM460.0 565.4h3.0v3.0h-3.0zM458.3 584.2h3.0v3.0h-3.0zM462.0 579.3h3.0v3.0h-3.0zM428.6 623.9h3.0v3.0h-3.0zM478.3 580.9h3.0v3.0h-3.0zM457.8 574.5h3.0v3.0h-3.0zM470.8 577.3h3.0v3.0h-3.0zM469.7 569.2h3.0v3.0h-3.0zM508.9 571.8h3.0v3.0h-3.0zM472.3 589.4h3.0v3.0h-3.0zM466.6 584.8h3.0v3.0h-3.0zM483.2 566.2h3.0v3.0h-3.0zM476.7 552.1h3.0v3.0h-3.0zM465.5 566.9h3.0v3.0h-3.0zM448.8 568.9h3.0v3.0h-3.0zM471.1 602.2h3.0v3.0h-3.0zM468.9 605.0h3.0v3.0h-3.0zM464.6 602.5h3.0v3.0h-3.0zM476.3 561.5h3.0v3.0h-3.0zM437.6 562.9h3.0v3.0h-3.0zM489.7 585.9h3.0v3.0h-3.0zM455.5 595.2h3.0v3.0h-3.0zM480.5 562.7h3.0v3.0h-3.0zM460.4 575.0h3.0v3.0h-3.0zM499.3 570.5h3.0v3.0h-3.0zM475.6 569.4h3.0v3.0h-3.0zM479.0 581.2h3.0v3.0h-3.0zM434.3 562.8h3.0v3.0h-3.0zM459.8 589.5h3.0v3.0h-3.0zM453.1 575.7h3.0v3.0h-3.0zM466.3 586.1h3.0v3.0h-3.0zM462.0 599.5h3.0v3.0h-3.0zM490.9 588.2h3.0v3.0h-3.0zM473.7 565.7h3.0v3.0h-3.0zM463.8 584.7h3.0v3.0h-3.0zM503.7 566.2h3.0v3.0h-3.0zM461.7 573.0h3.0v3.0h-3.0zM444.6 603.9h3.0v3.0h-3.0zM457.0 575.7h3.0v3.0h-3.0zM457.6 565.5h3.0v3.0h-3.0zM473.0 598.6h3.0v3.0h-3.0zM466.6 570.0h3.0v3.0h-3.0zM447.1 588.9h3.0v3.0h-3.0zM468.0 586.7h3.0v3.0h-3.0zM463.5 580.1h3.0v3.0h-3.0zM464.5 565.9h3.0v3.0h-3.0zM484.1 618.8h3.0v3.0h-3.0zM465.3 603.4h3.0v3.0h-3.0zM460.5 576.2h3.0v3.0h-3.0zM476.1 582.0h3.0v3.0h-3.0zM444.1 564.2h3.0v3.0h-3.0zM448.1 565.2h3.0v3.0h-3.0zM454.8 609.7h3.0v3.0h-3.0zM499.2 568.3h3.0v3.0h-3.0zM451.0 599.2h3.0v3.0h-3.0zM511.5 540.8h3.0v3.0h-3.0zM467.0 587.2h3.0v3.0h-3.0zM486.7 557.0h3.0v3.0h-3.0zM465.9 594.9h3.0v3.0h-3.0zM484.9 584.7h3.0v3.0h-3.0zM463.5 570.0h3.0v3.0h-3.0zM468.9 593.8h3.0v3.0h-3.0zM444.9 597.1h3.0v3.0h-3.0zM456.6 584.1h3.0v3.0h-3.0zM437.7 595.0h3.0v3.0h-3.0zM498.1 565.3h3.0v3.0h-3.0zM447.4 590.5h3.0v3.0h-3.0zM499.5 556.4h3.0v3.0h-3.0zM463.4 582.6h3.0v3.0h-3.0zM423.8 589.7h3.0v3.0h-3.0zM486.5 534.5h3.0v3.0h-3.0zM497.3 576.3h3.0v3.0h-3.0zM456.3 579.9h3.0v3.0h-3.0zM463.6 595.0h3.0v3.0h-3.0zM453.5 584.9h3.0v3.0h-3.0zM491.7 571.8h3.0v3.0h-3.0zM442.4 598.3h3.0v3.0h-3.0zM461.7 591.6h3.0v3.0h-3.0zM488.5 568.8h3.0v3.0h-3.0zM510.9 562.3h3.0v3.0h-3.0zM467.9 602.5h3.0v3.0h-3.0zM475.4 607.2h3.0v3.0h-3.0zM440.6 574.9h3.0v3.0h-3.0zM492.5 577.2h3.0v3.0h-3.0zM440.1 575.8h3.0v3.0h-3.0zM458.4 577.9h3.0v3.0h-3.0zM470.2 567.0h3.0v3.0h-3.0zM485.2 578.2h3.0v3.0h-3.0zM493.3 582.5h3.0v3.0h-3.0zM453.5 591.7h3.0v3.0h-3.0zM480.7 591.0h3.0v3.0h-3.0zM474.4 575.3h3.0v3.0h-3.0zM487.6 574.5h3.0v3.0h-3.0zM487.1 551.1h3.0v3.0h-3.0zM486.2 568.6h3.0v3.0h-3.0zM452.3 587.2h3.0v3.0h-3.0zM451.2 551.9h3.0v3.0h-3.0zM454.7 602.5h3.0v3.0h-3.0zM501.8 569.9h3.0v3.0h-3.0zM443.2 556.5h3.0v3.0h-3.0zM467.0 583.2h3.0v3.0h-3.0zM478.5 580.6h3.0v3.0h-3.0zM472.7 603.7h3.0v3.0h-3.0zM475.7 563.3h3.0v3.0h-3.0zM493.3 583.5h3.0v3.0h-3.0zM477.9 582.7h3.0v3.0h-3.0zM485.1 598.4h3.0v3.0h-3.0zM408.9 626.0h3.0v3.0h-3.0zM450.1 573.1h3.0v3.0h-3.0zM479.7 575.3h3.0v3.0h-3.0zM472.8 575.8h3.0v3.0h-3.0zM393.9 617.1h3.0v3.0h-3.0zM469.8 559.8h3.0v3.0h-3.0zM487.9 571.1h3.0v3.0h-3.0zM455.2 591.2h3.0v3.0h-3.0zM455.9 600.9h3.0v3.0h-3.0zM479.4 593.5h3.0v3.0h-3.0zM443.4 590.9h3.0v3.0h-3.0zM435.4 582.7h3.0v3.0h-3.0zM428.4 585.3h3.0v3.0h-3.0zM488.5 564.4h3.0v3.0h-3.0zM472.3 588.4h3.0v3.0h-3.0zM451.2 588.1h3.0v3.0h-3.0zM444.2 597.9h3.0v3.0h-3.0zM465.4 560.9h3.0v3.0h-3.0zM432.3 558.8h3.0v3.0h-3.0zM447.2 572.5h3.0v3.0h-3.0zM468.5 591.5h3.0v3.0h-3.0zM464.4 594.8h3.0v3.0h-3.0zM466.8 570.4h3.0v3.0h-3.0zM490.7 574.5h3.0v3.0h-3.0zM461.5 624.2h3.0v3.0h-3.0zM459.1 609.2h3.0v3.0h-3.0zM479.3 583.6h3.0v3.0h-3.0zM477.1 627.3h3.0v3.0h-3.0zM459.3 576.3h3.0v3.0h-3.0zM492.3 562.0h3.0v3.0h-3.0zM483.9 584.6h3.0v3.0h-3.0zM464.3 540.1h3.0v3.0h-3.0zM474.1 548.8h3.0v3.0h-3.0zM486.5 565.2h3.0v3.0h-3.0zM491.3 600.0h3.0v3.0h-3.0zM500.8 566.6h3.0v3.0h-3.0zM457.2 589.4h3.0v3.0h-3.0zM461.9 595.1h3.0v3.0h-3.0zM474.1 566.5h3.0v3.0h-3.0zM447.1 585.7h3.0v3.0h-3.0zM462.1 569.6h3.0v3.0h-3.0zM474.4 606.2h3.0v3.0h-3.0zM485.3 563.8h3.0v3.0h-3.0zM480.9 575.1h3.0v3.0h-3.0zM472.5 546.6h3.0v3.0h-3.0zM453.1 580.0h3.0v3.0h-3.0zM428.2 595.7h3.0v3.0h-3.0zM491.1 565.5h3.0v3.0h-3.0zM500.2 561.0h3.0v3.0h-3.0zM447.1 584.5h3.0v3.0h-3.0zM449.0 596.7h3.0v3.0h-3.0zM435.6 606.0h3.0v3.0h-3.0zM474.7 547.3h3.0v3.0h-3.0zM438.5 590.2h3.0v3.0h-3.0zM473.6 579.4h3.0v3.0h-3.0zM484.2 592.2h3.0v3.0h-3.0zM451.1 582.3h3.0v3.0h-3.0zM453.0 572.0h3.0v3.0h-3.0zM465.9 596.8h3.0v3.0h-3.0zM480.1 568.6h3.0v3.0h-3.0zM504.9 576.6h3.0v3.0h-3.0zM485.3 555.6h3.0v3.0h-3.0zM454.2 617.9h3.0v3.0h-3.0zM451.3 607.9h3.0v3.0h-3.0zM449.6 578.9h3.0v3.0h-3.0zM479.0 582.1h3.0v3.0h-3.0zM480.2 571.7h3.0v3.0h-3.0zM430.7 613.6h3.0v3.0h-3.0zM481.1 594.9h3.0v3.0h-3.0zM459.9 543.2h3.0v3.0h-3.0zM453.7 565.3h3.0v3.0h-3.0zM463.0 581.5h3.0v3.0h-3.0zM422.2 593.7h3.0v3.0h-3.0zM490.1 557.2h3.0v3.0h-3.0zM464.8 561.3h3.0v3.0h-3.0zM468.1 596.4h3.0v3.0h-3.0zM443.5 571.5h3.0v3.0h-3.0zM484.6 573.1h3.0v3.0h-3.0zM494.5 569.9h3.0v3.0h-3.0zM463.5 584.8h3.0v3.0h-3.0zM455.4 615.3h3.0v3.0h-3.0zM467.3 563.6h3.0v3.0h-3.0zM445.2 580.8h3.0v3.0h-3.0zM462.4 580.8h3.0v3.0h-3.0zM446.5 567.1h3.0v3.0h-3.0zM468.4 622.4h3.0v3.0h-3.0zM459.7 589.1h3.0v3.0h-3.0zM392.3 616.2h3.0v3.0h-3.0zM444.4 590.4h3.0v3.0h-3.0zM390.3 608.5h3.0v3.0h-3.0zM459.6 590.8h3.0v3.0h-3.0zM387.2 623.7h3.0v3.0h-3.0zM400.6 597.3h3.0v3.0h-3.0zM405.8 599.8h3.0v3.0h-3.0zM372.1 630.6h3.0v3.0h-3.0zM455.0 595.9h3.0v3.0h-3.0zM387.6 624.1h3.0v3.0h-3.0zM402.8 634.6h3.0v3.0h-3.0zM415.1 612.2h3.0v3.0h-3.0zM440.7 579.1h3.0v3.0h-3.0zM401.7 604.9h3.0v3.0h-3.0zM487.3 583.2h3.0v3.0h-3.0zM421.8 592.4h3.0v3.0h-3.0zM414.7 596.0h3.0v3.0h-3.0zM432.9 583.4h3.0v3.0h-3.0zM415.7 588.7h3.0v3.0h-3.0zM404.3 622.8h3.0v3.0h-3.0zM418.0 616.1h3.0v3.0h-3.0zM424.9 586.5h3.0v3.0h-3.0zM476.8 589.7h3.0v3.0h-3.0zM439.2 603.8h3.0v3.0h-3.0zM437.0 588.4h3.0v3.0h-3.0zM361.4 621.0h3.0v3.0h-3.0zM417.6 599.3h3.0v3.0h-3.0zM423.6 595.5h3.0v3.0h-3.0zM475.6 577.5h3.0v3.0h-3.0zM464.8 569.6h3.0v3.0h-3.0zM435.2 605.7h3.0v3.0h-3.0zM454.4 613.3h3.0v3.0h-3.0zM420.5 592.9h3.0v3.0h-3.0zM404.6 604.8h3.0v3.0h-3.0zM434.4 610.2h3.0v3.0h-3.0zM427.7 621.8h3.0v3.0h-3.0zM423.9 576.0h3.0v3.0h-3.0zM440.7 582.6h3.0v3.0h-3.0zM412.0 586.7h3.0v3.0h-3.0zM457.2 584.5h3.0v3.0h-3.0zM398.6 617.9h3.0v3.0h-3.0zM422.4 591.2h3.0v3.0h-3.0zM433.2 597.9h3.0v3.0h-3.0zM387.0 639.3h3.0v3.0h-3.0zM424.0 559.2h3.0v3.0h-3.0zM435.3 572.0h3.0v3.0h-3.0zM465.7 563.8h3.0v3.0h-3.0zM425.1 598.9h3.0v3.0h-3.0zM444.5 592.9h3.0v3.0h-3.0zM444.4 590.2h3.0v3.0h-3.0zM395.6 641.6h3.0v3.0h-3.0zM434.8 594.7h3.0v3.0h-3.0zM385.5 614.6h3.0v3.0h-3.0zM429.3 586.5h3.0v3.0h-3.0zM433.1 567.6h3.0v3.0h-3.0zM432.6 592.6h3.0v3.0h-3.0zM377.5 636.5h3.0v3.0h-3.0zM457.2 564.6h3.0v3.0h-3.0zM439.5 602.0h3.0v3.0h-3.0zM444.4 570.3h3.0v3.0h-3.0zM413.1 615.9h3.0v3.0h-3.0zM415.7 603.2h3.0v3.0h-3.0zM489.9 581.7h3.0v3.0h-3.0zM423.5 604.8h3.0v3.0h-3.0zM417.2 607.9h3.0v3.0h-3.0zM415.0 601.1h3.0v3.0h-3.0zM445.6 572.2h3.0v3.0h-3.0zM383.0 618.0h3.0v3.0h-3.0zM412.8 594.6h3.0v3.0h-3.0zM395.1 598.6h3.0v3.0h-3.0zM497.8 570.6h3.0v3.0h-3.0zM460.5 591.4h3.0v3.0h-3.0zM432.6 602.3h3.0v3.0h-3.0zM436.2 600.6h3.0v3.0h-3.0zM412.9 589.4h3.0v3.0h-3.0zM399.4 580.0h3.0v3.0h-3.0zM425.8 606.6h3.0v3.0h-3.0zM475.1 575.5h3.0v3.0h-3.0zM422.7 608.9h3.0v3.0h-3.0zM425.1 611.3h3.0v3.0h-3.0zM438.9 600.7h3.0v3.0h-3.0zM460.7 569.1h3.0v3.0h-3.0zM443.2 597.7h3.0v3.0h-3.0zM403.4 621.7h3.0v3.0h-3.0zM438.0 613.1h3.0v3.0h-3.0zM431.6 605.2h3.0v3.0h-3.0zM394.7 622.5h3.0v3.0h-3.0zM409.4 613.0h3.0v3.0h-3.0zM431.1 586.0h3.0v3.0h-3.0zM414.1 602.9h3.0v3.0h-3.0zM475.2 580.9h3.0v3.0h-3.0zM424.8 575.5h3.0v3.0h-3.0zM410.0 597.8h3.0v3.0h-3.0zM429.7 607.5h3.0v3.0h-3.0zM399.9 607.2h3.0v3.0h-3.0zM400.5 594.0h3.0v3.0h-3.0zM449.5 590.9h3.0v3.0h-3.0zM429.1 605.8h3.0v3.0h-3.0zM380.6 633.3h3.0v3.0h-3.0zM394.6 623.0h3.0v3.0h-3.0zM433.8 576.4h3.0v3.0h-3.0zM413.8 642.3h3.0v3.0h-3.0zM414.8 596.6h3.0v3.0h-3.0zM451.2 574.9h3.0v3.0h-3.0zM425.6 609.0h3.0v3.0h-3.0zM424.1 609.5h3.0v3.0h-3.0zM417.9 606.2h3.0v3.0h-3.0zM456.4 584.5h3.0v3.0h-3.0zM414.1 616.8h3.0v3.0h-3.0zM399.0 622.8h3.0v3.0h-3.0zM425.3 590.5h3.0v3.0h-3.0zM470.6 574.8h3.0v3.0h-3.0zM439.7 597.1h3.0v3.0h-3.0zM469.9 578.1h3.0v3.0h-3.0zM459.5 579.5h3.0v3.0h-3.0zM394.0 607.7h3.0v3.0h-3.0zM433.0 602.8h3.0v3.0h-3.0zM430.1 607.5h3.0v3.0h-3.0zM431.1 602.7h3.0v3.0h-3.0zM450.4 564.1h3.0v3.0h-3.0zM466.8 580.0h3.0v3.0h-3.0zM456.8 601.8h3.0v3.0h-3.0zM462.7 584.3h3.0v3.0h-3.0zM410.9 604.1h3.0v3.0h-3.0zM451.6 588.7h3.0v3.0h-3.0zM401.5 614.8h3.0v3.0h-3.0zM418.2 601.2h3.0v3.0h-3.0zM400.4 623.6h3.0v3.0h-3.0zM462.1 581.9h3.0v3.0h-3.0zM413.9 598.7h3.0v3.0h-3.0zM459.4 603.4h3.0v3.0h-3.0zM401.9 628.8h3.0v3.0h-3.0zM425.4 579.0h3.0v3.0h-3.0zM449.5 584.1h3.0v3.0h-3.0zM431.7 596.3h3.0v3.0h-3.0zM419.4 571.0h3.0v3.0h-3.0zM426.4 584.1h3.0v3.0h-3.0zM434.6 609.3h3.0v3.0h-3.0zM420.3 603.8h3.0v3.0h-3.0zM410.9 615.9h3.0v3.0h-3.0zM457.5 583.7h3.0v3.0h-3.0zM430.4 598.4h3.0v3.0h-3.0zM428.9 592.3h3.0v3.0h-3.0zM430.8 580.7h3.0v3.0h-3.0zM387.7 601.6h3.0v3.0h-3.0zM390.4 612.2h3.0v3.0h-3.0zM400.6 627.4h3.0v3.0h-3.0zM481.3 578.8h3.0v3.0h-3.0zM430.7 614.9h3.0v3.0h-3.0zM447.3 585.3h3.0v3.0h-3.0zM378.2 619.3h3.0v3.0h-3.0zM428.6 618.1h3.0v3.0h-3.0zM438.6 606.3h3.0v3.0h-3.0zM418.4 612.0h3.0v3.0h-3.0zM460.7 584.8h3.0v3.0h-3.0zM418.4 599.4h3.0v3.0h-3.0zM435.0 610.9h3.0v3.0h-3.0zM448.2 563.3h3.0v3.0h-3.0zM468.8 568.7h3.0v3.0h-3.0zM442.2 598.4h3.0v3.0h-3.0zM418.6 605.6h3.0v3.0h-3.0zM432.2 617.6h3.0v3.0h-3.0zM463.3 582.8h3.0v3.0h-3.0zM398.4 608.8h3.0v3.0h-3.0zM399.3 606.8h3.0v3.0h-3.0zM392.5 593.2h3.0v3.0h-3.0zM463.1 593.6h3.0v3.0h-3.0zM441.2 593.1h3.0v3.0h-3.0zM410.4 619.3h3.0v3.0h-3.0zM403.2 599.6h3.0v3.0h-3.0zM422.7 589.5h3.0v3.0h-3.0zM418.7 612.6h3.0v3.0h-3.0zM398.9 611.0h3.0v3.0h-3.0zM406.9 612.1h3.0v3.0h-3.0zM432.5 616.9h3.0v3.0h-3.0zM415.4 613.1h3.0v3.0h-3.0zM430.1 603.9h3.0v3.0h-3.0zM420.7 607.9h3.0v3.0h-3.0zM407.1 606.9h3.0v3.0h-3.0zM444.0 600.0h3.0v3.0h-3.0zM441.8 594.5h3.0v3.0h-3.0zM392.1 654.3h3.0v3.0h-3.0zM439.3 602.5h3.0v3.0h-3.0zM406.8 592.5h3.0v3.0h-3.0zM400.5 613.7h3.0v3.0h-3.0zM442.4 580.2h3.0v3.0h-3.0zM443.6 610.2h3.0v3.0h-3.0zM442.2 590.4h3.0v3.0h-3.0zM407.1 597.5h3.0v3.0h-3.0zM472.2 568.5h3.0v3.0h-3.0zM447.4 602.3h3.0v3.0h-3.0zM417.4 617.9h3.0v3.0h-3.0zM478.0 571.5h3.0v3.0h-3.0zM407.7 615.4h3.0v3.0h-3.0zM459.4 564.3h3.0v3.0h-3.0zM418.0 601.5h3.0v3.0h-3.0zM411.0 608.6h3.0v3.0h-3.0zM403.9 604.0h3.0v3.0h-3.0zM402.6 618.3h3.0v3.0h-3.0zM397.2 604.6h3.0v3.0h-3.0zM442.5 603.4h3.0v3.0h-3.0zM420.8 594.8h3.0v3.0h-3.0zM379.6 617.0h3.0v3.0h-3.0zM425.6 585.7h3.0v3.0h-3.0zM386.5 620.2h3.0v3.0h-3.0zM441.9 594.7h3.0v3.0h-3.0zM416.3 609.3h3.0v3.0h-3.0zM416.5 595.9h3.0v3.0h-3.0zM458.0 581.5h3.0v3.0h-3.0zM367.6 621.6h3.0v3.0h-3.0zM482.9 562.1h3.0v3.0h-3.0zM508.7 554.0h3.0v3.0h-3.0zM455.3 582.3h3.0v3.0h-3.0zM437.7 584.0h3.0v3.0h-3.0zM403.8 601.6h3.0v3.0h-3.0zM455.8 583.1h3.0v3.0h-3.0zM420.9 600.6h3.0v3.0h-3.0zM408.0 585.5h3.0v3.0h-3.0zM399.7 601.4h3.0v3.0h-3.0zM460.4 572.7h3.0v3.0h-3.0zM448.8 585.4h3.0v3.0h-3.0zM388.4 619.8h3.0v3.0h-3.0zM431.2 612.0h3.0v3.0h-3.0zM385.6 608.2h3.0v3.0h-3.0zM457.9 595.8h3.0v3.0h-3.0zM400.3 608.7h3.0v3.0h-3.0zM426.2 602.0h3.0v3.0h-3.0zM438.5 585.4h3.0v3.0h-3.0zM422.4 603.3h3.0v3.0h-3.0zM385.8 604.5h3.0v3.0h-3.0zM423.1 618.9h3.0v3.0h-3.0zM388.7 615.4h3.0v3.0h-3.0zM462.7 574.5h3.0v3.0h-3.0zM437.3 562.6h3.0v3.0h-3.0zM380.7 626.3h3.0v3.0h-3.0zM393.0 611.6h3.0v3.0h-3.0zM489.0 569.8h3.0v3.0h-3.0zM445.8 591.8h3.0v3.0h-3.0zM415.7 599.6h3.0v3.0h-3.0zM442.5 571.0h3.0v3.0h-3.0zM443.7 606.1h3.0v3.0h-3.0zM445.3 583.3h3.0v3.0h-3.0zM423.0 614.8h3.0v3.0h-3.0zM475.1 582.3h3.0v3.0h-3.0zM442.1 608.9h3.0v3.0h-3.0zM388.9 606.4h3.0v3.0h-3.0zM419.2 589.5h3.0v3.0h-3.0zM416.3 600.9h3.0v3.0h-3.0zM433.2 586.5h3.0v3.0h-3.0zM438.5 601.5h3.0v3.0h-3.0zM431.9 600.7h3.0v3.0h-3.0zM409.2 619.3h3.0v3.0h-3.0zM434.0 598.0h3.0v3.0h-3.0zM415.0 613.2h3.0v3.0h-3.0zM472.2 578.3h3.0v3.0h-3.0zM398.5 619.7h3.0v3.0h-3.0zM417.1 599.6h3.0v3.0h-3.0zM421.3 619.6h3.0v3.0h-3.0zM399.7 613.1h3.0v3.0h-3.0zM428.7 578.7h3.0v3.0h-3.0zM424.3 577.5h3.0v3.0h-3.0zM435.4 601.8h3.0v3.0h-3.0zM464.7 572.3h3.0v3.0h-3.0zM410.3 605.1h3.0v3.0h-3.0zM431.6 580.3h3.0v3.0h-3.0zM431.2 600.6h3.0v3.0h-3.0zM440.4 604.8h3.0v3.0h-3.0zM396.4 623.8h3.0v3.0h-3.0zM390.2 609.8h3.0v3.0h-3.0zM448.2 585.2h3.0v3.0h-3.0zM397.8 620.5h3.0v3.0h-3.0zM450.6 573.3h3.0v3.0h-3.0zM459.9 564.3h3.0v3.0h-3.0zM406.0 598.2h3.0v3.0h-3.0zM446.9 611.2h3.0v3.0h-3.0zM440.3 609.7h3.0v3.0h-3.0zM466.2 574.3h3.0v3.0h-3.0zM483.6 566.7h3.0v3.0h-3.0zM455.1 597.1h3.0v3.0h-3.0zM456.4 595.6h3.0v3.0h-3.0zM464.0 586.3h3.0v3.0h-3.0zM398.1 606.9h3.0v3.0h-3.0zM420.6 592.1h3.0v3.0h-3.0zM450.1 584.8h3.0v3.0h-3.0zM419.7 614.6h3.0v3.0h-3.0zM474.4 578.4h3.0v3.0h-3.0zM402.8 613.6h3.0v3.0h-3.0zM418.3 595.6h3.0v3.0h-3.0zM439.6 612.6h3.0v3.0h-3.0zM439.7 580.6h3.0v3.0h-3.0zM404.2 615.7h3.0v3.0h-3.0zM418.5 607.8h3.0v3.0h-3.0zM439.3 598.5h3.0v3.0h-3.0zM437.5 611.5h3.0v3.0h-3.0zM430.6 572.7h3.0v3.0h-3.0zM389.5 587.6h3.0v3.0h-3.0zM400.4 622.2h3.0v3.0h-3.0zM358.5 655.7h3.0v3.0h-3.0zM396.5 630.3h3.0v3.0h-3.0zM416.1 615.5h3.0v3.0h-3.0zM385.7 624.7h3.0v3.0h-3.0zM412.2 606.1h3.0v3.0h-3.0zM456.5 606.2h3.0v3.0h-3.0zM406.6 602.5h3.0v3.0h-3.0zM453.3 597.0h3.0v3.0h-3.0zM441.2 587.4h3.0v3.0h-3.0zM424.0 600.7h3.0v3.0h-3.0zM436.1 580.1h3.0v3.0h-3.0zM444.6 583.3h3.0v3.0h-3.0zM383.7 615.5h3.0v3.0h-3.0zM454.8 558.7h3.0v3.0h-3.0zM371.2 618.1h3.0v3.0h-3.0zM418.8 577.4h3.0v3.0h-3.0zM411.9 616.4h3.0v3.0h-3.0zM402.4 597.6h3.0v3.0h-3.0zM425.2 590.6h3.0v3.0h-3.0zM422.1 619.3h3.0v3.0h-3.0zM421.4 607.0h3.0v3.0h-3.0zM419.1 594.4h3.0v3.0h-3.0zM405.5 620.7h3.0v3.0h-3.0zM430.8 596.5h3.0v3.0h-3.0zM399.0 620.4h3.0v3.0h-3.0zM432.9 580.1h3.0v3.0h-3.0zM398.4 623.8h3.0v3.0h-3.0zM432.3 594.6h3.0v3.0h-3.0zM409.3 600.7h3.0v3.0h-3.0zM457.5 563.6h3.0v3.0h-3.0zM399.3 608.5h3.0v3.0h-3.0zM451.7 568.3h3.0v3.0h-3.0zM417.1 602.5h3.0v3.0h-3.0zM386.1 622.1h3.0v3.0h-3.0zM458.3 565.1h3.0v3.0h-3.0zM460.1 590.9h3.0v3.0h-3.0zM476.1 575.5h3.0v3.0h-3.0zM409.2 589.2h3.0v3.0h-3.0zM460.4 594.2h3.0v3.0h-3.0zM463.9 563.8h3.0v3.0h-3.0zM425.8 578.1h3.0v3.0h-3.0zM504.0 549.0h3.0v3.0h-3.0zM431.9 608.6h3.0v3.0h-3.0zM466.3 592.0h3.0v3.0h-3.0zM407.1 603.1h3.0v3.0h-3.0zM416.3 608.7h3.0v3.0h-3.0zM425.5 602.0h3.0v3.0h-3.0zM440.2 608.5h3.0v3.0h-3.0zM446.2 599.3h3.0v3.0h-3.0zM451.0 591.3h3.0v3.0h-3.0zM382.7 632.7h3.0v3.0h-3.0zM439.5 595.9h3.0v3.0h-3.0zM422.0 606.7h3.0v3.0h-3.0zM387.6 622.4h3.0v3.0h-3.0zM411.8 601.3h3.0v3.0h-3.0zM459.1 598.0h3.0v3.0h-3.0zM447.1 589.1h3.0v3.0h-3.0zM395.2 622.6h3.0v3.0h-3.0zM415.1 603.8h3.0v3.0h-3.0zM420.8 608.5h3.0v3.0h-3.0zM461.2 571.0h3.0v3.0h-3.0zM425.2 605.7h3.0v3.0h-3.0zM408.7 608.4h3.0v3.0h-3.0zM435.0 610.3h3.0v3.0h-3.0zM354.0 621.1h3.0v3.0h-3.0zM438.2 610.1h3.0v3.0h-3.0zM453.5 586.1h3.0v3.0h-3.0zM431.7 583.5h3.0v3.0h-3.0zM383.8 633.8h3.0v3.0h-3.0zM486.9 557.7h3.0v3.0h-3.0zM444.2 593.4h3.0v3.0h-3.0zM422.1 599.5h3.0v3.0h-3.0zM425.0 602.5h3.0v3.0h-3.0zM447.6 585.9h3.0v3.0h-3.0zM421.1 598.5h3.0v3.0h-3.0zM419.9 596.3h3.0v3.0h-3.0zM446.1 595.6h3.0v3.0h-3.0zM403.6 624.0h3.0v3.0h-3.0zM450.6 594.9h3.0v3.0h-3.0zM400.5 611.5h3.0v3.0h-3.0zM438.7 593.6h3.0v3.0h-3.0zM455.2 585.3h3.0v3.0h-3.0zM441.6 593.6h3.0v3.0h-3.0zM447.9 586.9h3.0v3.0h-3.0zM420.5 610.7h3.0v3.0h-3.0zM404.5 608.0h3.0v3.0h-3.0zM456.7 588.4h3.0v3.0h-3.0zM417.6 592.4h3.0v3.0h-3.0zM404.1 611.0h3.0v3.0h-3.0zM410.8 604.2h3.0v3.0h-3.0zM406.3 607.2h3.0v3.0h-3.0zM450.9 596.9h3.0v3.0h-3.0zM434.1 578.0h3.0v3.0h-3.0zM462.2 573.5h3.0v3.0h-3.0zM397.6 615.7h3.0v3.0h-3.0zM430.9 603.1h3.0v3.0h-3.0zM419.0 591.7h3.0v3.0h-3.0zM367.0 621.2h3.0v3.0h-3.0zM421.0 594.0h3.0v3.0h-3.0zM441.4 588.4h3.0v3.0h-3.0zM407.2 615.0h3.0v3.0h-3.0zM403.9 633.8h3.0v3.0h-3.0zM495.5 577.2h3.0v3.0h-3.0zM396.7 627.7h3.0v3.0h-3.0zM466.5 578.1h3.0v3.0h-3.0zM439.8 602.3h3.0v3.0h-3.0zM440.5 597.1h3.0v3.0h-3.0zM412.6 606.4h3.0v3.0h-3.0zM399.9 612.2h3.0v3.0h-3.0zM474.1 592.9h3.0v3.0h-3.0zM477.5 574.6h3.0v3.0h-3.0zM401.9 606.6h3.0v3.0h-3.0zM464.6 590.9h3.0v3.0h-3.0zM422.5 591.9h3.0v3.0h-3.0zM445.4 584.1h3.0v3.0h-3.0zM423.2 604.9h3.0v3.0h-3.0zM409.0 609.7h3.0v3.0h-3.0zM385.9 621.5h3.0v3.0h-3.0zM379.9 622.1h3.0v3.0h-3.0zM419.9 595.3h3.0v3.0h-3.0zM414.3 593.3h3.0v3.0h-3.0zM398.1 621.2h3.0v3.0h-3.0zM391.5 636.0h3.0v3.0h-3.0zM401.2 605.1h3.0v3.0h-3.0zM439.8 599.1h3.0v3.0h-3.0zM452.9 593.4h3.0v3.0h-3.0zM444.8 573.7h3.0v3.0h-3.0zM433.1 608.2h3.0v3.0h-3.0zM449.5 596.5h3.0v3.0h-3.0zM394.6 619.8h3.0v3.0h-3.0zM462.3 569.6h3.0v3.0h-3.0zM431.9 604.7h3.0v3.0h-3.0zM407.5 617.2h3.0v3.0h-3.0zM397.6 610.0h3.0v3.0h-3.0zM384.0 596.7h3.0v3.0h-3.0zM423.9 617.3h3.0v3.0h-3.0zM431.0 563.5h3.0v3.0h-3.0zM405.6 611.9h3.0v3.0h-3.0zM433.5 563.2h3.0v3.0h-3.0zM425.7 594.1h3.0v3.0h-3.0zM378.5 622.0h3.0v3.0h-3.0zM395.9 618.3h3.0v3.0h-3.0zM402.7 618.6h3.0v3.0h-3.0zM416.1 612.9h3.0v3.0h-3.0zM464.3 562.5h3.0v3.0h-3.0zM488.8 570.2h3.0v3.0h-3.0zM434.2 601.6h3.0v3.0h-3.0zM426.4 587.7h3.0v3.0h-3.0zM406.7 616.0h3.0v3.0h-3.0zM447.8 575.5h3.0v3.0h-3.0zM403.6 615.2h3.0v3.0h-3.0zM405.1 596.9h3.0v3.0h-3.0zM427.4 601.1h3.0v3.0h-3.0zM453.8 598.5h3.0v3.0h-3.0zM428.5 591.5h3.0v3.0h-3.0zM367.0 638.9h3.0v3.0h-3.0zM444.2 611.5h3.0v3.0h-3.0zM429.8 630.4h3.0v3.0h-3.0zM426.7 584.7h3.0v3.0h-3.0zM456.7 575.2h3.0v3.0h-3.0zM372.0 604.8h3.0v3.0h-3.0zM421.2 582.7h3.0v3.0h-3.0zM458.6 601.5h3.0v3.0h-3.0zM384.2 620.8h3.0v3.0h-3.0zM456.5 574.9h3.0v3.0h-3.0zM438.9 586.4h3.0v3.0h-3.0zM438.7 605.4h3.0v3.0h-3.0zM397.9 600.5h3.0v3.0h-3.0zM431.5 586.1h3.0v3.0h-3.0zM442.0 586.0h3.0v3.0h-3.0zM401.0 605.9h3.0v3.0h-3.0zM411.1 612.0h3.0v3.0h-3.0zM411.8 627.7h3.0v3.0h-3.0zM428.3 590.9h3.0v3.0h-3.0zM434.2 596.2h3.0v3.0h-3.0zM455.9 599.2h3.0v3.0h-3.0zM434.2 595.4h3.0v3.0h-3.0zM409.1 596.5h3.0v3.0h-3.0zM429.7 605.7h3.0v3.0h-3.0zM407.7 620.6h3.0v3.0h-3.0zM459.4 599.2h3.0v3.0h-3.0zM401.1 614.1h3.0v3.0h-3.0zM410.3 623.1h3.0v3.0h-3.0zM434.4 610.0h3.0v3.0h-3.0zM367.2 610.7h3.0v3.0h-3.0zM436.3 590.9h3.0v3.0h-3.0zM470.2 595.6h3.0v3.0h-3.0zM437.1 581.2h3.0v3.0h-3.0zM451.4 599.9h3.0v3.0h-3.0zM437.4 588.8h3.0v3.0h-3.0zM418.7 584.7h3.0v3.0h-3.0zM410.8 576.2h3.0v3.0h-3.0zM393.5 609.7h3.0v3.0h-3.0zM427.0 580.4h3.0v3.0h-3.0zM458.4 600.9h3.0v3.0h-3.0zM461.1 546.9h3.0v3.0h-3.0zM421.9 613.0h3.0v3.0h-3.0zM434.1 589.7h3.0v3.0h-3.0zM444.2 599.6h3.0v3.0h-3.0zM408.3 590.3h3.0v3.0h-3.0zM416.8 607.3h3.0v3.0h-3.0zM410.9 595.5h3.0v3.0h-3.0zM423.8 608.8h3.0v3.0h-3.0zM475.1 586.3h3.0v3.0h-3.0zM387.6 629.0h3.0v3.0h-3.0zM397.2 616.5h3.0v3.0h-3.0zM396.0 627.8h3.0v3.0h-3.0zM438.1 598.5h3.0v3.0h-3.0zM436.9 582.7h3.0v3.0h-3.0zM389.5 593.0h3.0v3.0h-3.0zM446.6 579.3h3.0v3.0h-3.0zM387.5 593.2h3.0v3.0h-3.0zM459.6 565.9h3.0v3.0h-3.0zM443.1 619.6h3.0v3.0h-3.0zM459.4 597.2h3.0v3.0h-3.0zM388.5 614.1h3.0v3.0h-3.0zM451.2 586.9h3.0v3.0h-3.0zM439.5 610.8h3.0v3.0h-3.0zM411.8 606.3h3.0v3.0h-3.0zM376.3 605.7h3.0v3.0h-3.0zM436.6 569.4h3.0v3.0h-3.0zM452.5 599.6h3.0v3.0h-3.0zM426.3 616.6h3.0v3.0h-3.0zM458.2 594.9h3.0v3.0h-3.0zM454.5 587.7h3.0v3.0h-3.0zM457.1 583.3h3.0v3.0h-3.0zM404.2 616.5h3.0v3.0h-3.0zM443.3 583.9h3.0v3.0h-3.0zM434.1 598.2h3.0v3.0h-3.0zM413.7 613.3h3.0v3.0h-3.0zM426.0 585.7h3.0v3.0h-3.0zM426.5 625.1h3.0v3.0h-3.0zM460.0 586.1h3.0v3.0h-3.0zM430.4 608.9h3.0v3.0h-3.0zM434.1 585.2h3.0v3.0h-3.0zM450.6 584.3h3.0v3.0h-3.0zM473.7 565.0h3.0v3.0h-3.0zM439.6 576.5h3.0v3.0h-3.0zM394.4 611.1h3.0v3.0h-3.0zM480.0 595.7h3.0v3.0h-3.0zM437.0 597.6h3.0v3.0h-3.0zM462.1 586.7h3.0v3.0h-3.0zM433.9 597.4h3.0v3.0h-3.0zM421.2 605.1h3.0v3.0h-3.0zM389.7 613.7h3.0v3.0h-3.0zM436.0 600.3h3.0v3.0h-3.0zM444.4 578.3h3.0v3.0h-3.0zM417.5 611.0h3.0v3.0h-3.0zM406.5 594.8h3.0v3.0h-3.0zM406.3 602.6h3.0v3.0h-3.0zM422.3 597.6h3.0v3.0h-3.0zM433.8 601.5h3.0v3.0h-3.0zM476.5 580.0h3.0v3.0h-3.0zM379.5 628.8h3.0v3.0h-3.0zM419.8 590.8h3.0v3.0h-3.0zM437.5 612.0h3.0v3.0h-3.0zM403.6 560.2h3.0v3.0h-3.0zM398.1 603.0h3.0v3.0h-3.0zM432.3 648.1h3.0v3.0h-3.0zM408.6 642.0h3.0v3.0h-3.0zM392.4 567.2h3.0v3.0h-3.0zM492.7 571.3h3.0v3.0h-3.0zM336.9 625.7h3.0v3.0h-3.0zM453.0 591.2h3.0v3.0h-3.0zM482.3 530.4h3.0v3.0h-3.0zM451.1 581.0h3.0v3.0h-3.0zM416.0 635.3h3.0v3.0h-3.0zM468.9 653.4h3.0v3.0h-3.0zM331.3 681.3h3.0v3.0h-3.0zM508.9 534.2h3.0v3.0h-3.0zM368.8 593.1h3.0v3.0h-3.0zM427.9 604.9h3.0v3.0h-3.0zM383.5 608.9h3.0v3.0h-3.0zM494.8 561.6h3.0v3.0h-3.0zM369.3 612.7h3.0v3.0h-3.0zM443.2 521.6h3.0v3.0h-3.0zM434.2 541.1h3.0v3.0h-3.0zM428.2 607.4h3.0v3.0h-3.0zM372.5 597.7h3.0v3.0h-3.0zM439.9 630.5h3.0v3.0h-3.0zM355.0 591.7h3.0v3.0h-3.0zM412.2 580.4h3.0v3.0h-3.0zM350.8 608.4h3.0v3.0h-3.0zM340.3 682.3h3.0v3.0h-3.0zM524.1 530.2h3.0v3.0h-3.0zM431.8 586.5h3.0v3.0h-3.0zM388.9 590.0h3.0v3.0h-3.0zM388.1 613.6h3.0v3.0h-3.0zM459.1 587.4h3.0v3.0h-3.0zM422.7 544.1h3.0v3.0h-3.0zM432.1 581.6h3.0v3.0h-3.0zM353.0 604.3h3.0v3.0h-3.0zM560.1 537.9h3.0v3.0h-3.0zM468.2 591.1h3.0v3.0h-3.0zM436.5 603.9h3.0v3.0h-3.0zM406.9 640.9h3.0v3.0h-3.0zM475.6 607.1h3.0v3.0h-3.0zM468.2 617.7h3.0v3.0h-3.0zM471.2 550.5h3.0v3.0h-3.0zM380.1 623.9h3.0v3.0h-3.0zM485.7 601.1h3.0v3.0h-3.0zM429.7 650.3h3.0v3.0h-3.0zM508.1 598.3h3.0v3.0h-3.0zM472.0 537.4h3.0v3.0h-3.0zM479.5 540.7h3.0v3.0h-3.0zM343.4 695.3h3.0v3.0h-3.0zM355.0 637.1h3.0v3.0h-3.0zM337.8 620.1h3.0v3.0h-3.0zM346.4 622.8h3.0v3.0h-3.0zM385.4 657.4h3.0v3.0h-3.0zM506.3 556.4h3.0v3.0h-3.0zM432.8 604.5h3.0v3.0h-3.0zM429.1 590.5h3.0v3.0h-3.0zM345.1 686.3h3.0v3.0h-3.0zM520.3 556.1h3.0v3.0h-3.0zM416.1 563.9h3.0v3.0h-3.0zM470.7 616.8h3.0v3.0h-3.0zM409.1 583.5h3.0v3.0h-3.0zM498.5 584.7h3.0v3.0h-3.0zM439.7 608.9h3.0v3.0h-3.0zM394.3 590.4h3.0v3.0h-3.0zM408.1 569.4h3.0v3.0h-3.0zM362.0 615.5h3.0v3.0h-3.0zM385.8 581.9h3.0v3.0h-3.0zM420.1 542.5h3.0v3.0h-3.0zM395.0 597.2h3.0v3.0h-3.0zM364.1 627.0h3.0v3.0h-3.0zM443.3 533.7h3.0v3.0h-3.0zM353.8 620.7h3.0v3.0h-3.0zM509.3 524.7h3.0v3.0h-3.0zM363.4 658.7h3.0v3.0h-3.0zM404.7 635.7h3.0v3.0h-3.0zM477.3 556.1h3.0v3.0h-3.0zM379.6 656.3h3.0v3.0h-3.0zM359.3 659.0h3.0v3.0h-3.0zM355.1 591.7h3.0v3.0h-3.0zM384.0 636.3h3.0v3.0h-3.0zM481.6 569.0h3.0v3.0h-3.0zM407.9 552.8h3.0v3.0h-3.0zM445.1 579.5h3.0v3.0h-3.0zM483.0 518.6h3.0v3.0h-3.0zM407.3 556.2h3.0v3.0h-3.0zM442.7 554.1h3.0v3.0h-3.0zM494.7 546.8h3.0v3.0h-3.0zM484.7 536.2h3.0v3.0h-3.0zM426.5 596.8h3.0v3.0h-3.0zM462.7 562.0h3.0v3.0h-3.0zM341.8 695.6h3.0v3.0h-3.0zM461.5 546.5h3.0v3.0h-3.0zM441.5 568.3h3.0v3.0h-3.0zM353.1 663.0h3.0v3.0h-3.0zM341.6 681.4h3.0v3.0h-3.0zM339.1 668.0h3.0v3.0h-3.0zM386.7 656.3h3.0v3.0h-3.0zM482.4 576.6h3.0v3.0h-3.0zM422.6 624.4h3.0v3.0h-3.0zM440.8 651.8h3.0v3.0h-3.0zM390.4 663.0h3.0v3.0h-3.0zM344.0 607.3h3.0v3.0h-3.0zM457.2 559.8h3.0v3.0h-3.0zM474.4 523.1h3.0v3.0h-3.0zM467.0 620.5h3.0v3.0h-3.0zM392.0 553.1h3.0v3.0h-3.0zM551.2 509.7h3.0v3.0h-3.0zM364.6 641.6h3.0v3.0h-3.0zM376.0 650.1h3.0v3.0h-3.0zM453.9 643.4h3.0v3.0h-3.0zM391.3 582.1h3.0v3.0h-3.0zM461.3 616.5h3.0v3.0h-3.0zM384.5 630.9h3.0v3.0h-3.0zM432.4 637.6h3.0v3.0h-3.0zM371.4 623.1h3.0v3.0h-3.0zM350.3 611.9h3.0v3.0h-3.0zM400.4 643.4h3.0v3.0h-3.0zM362.8 615.3h3.0v3.0h-3.0zM454.6 589.5h3.0v3.0h-3.0zM473.1 549.7h3.0v3.0h-3.0zM442.3 590.3h3.0v3.0h-3.0zM407.8 669.0h3.0v3.0h-3.0zM362.0 665.5h3.0v3.0h-3.0zM360.0 663.2h3.0v3.0h-3.0zM476.9 621.6h3.0v3.0h-3.0zM409.2 580.5h3.0v3.0h-3.0zM405.8 658.3h3.0v3.0h-3.0zM442.6 604.8h3.0v3.0h-3.0zM388.2 661.0h3.0v3.0h-3.0zM388.4 650.8h3.0v3.0h-3.0zM371.0 646.6h3.0v3.0h-3.0zM369.0 612.4h3.0v3.0h-3.0zM499.2 588.4h3.0v3.0h-3.0zM415.1 611.5h3.0v3.0h-3.0zM436.3 658.1h3.0v3.0h-3.0zM501.7 570.3h3.0v3.0h-3.0zM409.6 594.5h3.0v3.0h-3.0zM340.7 628.0h3.0v3.0h-3.0zM389.0 642.8h3.0v3.0h-3.0zM332.7 667.5h3.0v3.0h-3.0zM471.8 560.6h3.0v3.0h-3.0zM406.5 624.7h3.0v3.0h-3.0zM402.9 633.4h3.0v3.0h-3.0zM390.6 639.4h3.0v3.0h-3.0zM337.0 627.6h3.0v3.0h-3.0zM408.0 618.7h3.0v3.0h-3.0zM372.9 611.7h3.0v3.0h-3.0zM448.6 576.2h3.0v3.0h-3.0zM343.0 632.2h3.0v3.0h-3.0zM388.3 602.3h3.0v3.0h-3.0zM455.3 559.5h3.0v3.0h-3.0zM431.4 559.9h3.0v3.0h-3.0zM476.1 601.8h3.0v3.0h-3.0zM518.5 538.3h3.0v3.0h-3.0zM376.7 654.6h3.0v3.0h-3.0zM398.8 665.2h3.0v3.0h-3.0zM399.8 604.8h3.0v3.0h-3.0zM514.8 519.0h3.0v3.0h-3.0zM390.4 626.4h3.0v3.0h-3.0zM438.1 640.3h3.0v3.0h-3.0zM422.8 582.5h3.0v3.0h-3.0zM457.3 599.2h3.0v3.0h-3.0zM389.0 651.9h3.0v3.0h-3.0zM440.3 579.4h3.0v3.0h-3.0zM470.4 547.8h3.0v3.0h-3.0zM419.3 534.4h3.0v3.0h-3.0zM330.6 683.7h3.0v3.0h-3.0zM473.7 549.5h3.0v3.0h-3.0zM412.1 574.7h3.0v3.0h-3.0zM496.2 517.9h3.0v3.0h-3.0zM487.8 579.9h3.0v3.0h-3.0zM433.0 611.0h3.0v3.0h-3.0zM425.4 610.2h3.0v3.0h-3.0zM395.3 576.0h3.0v3.0h-3.0zM397.0 591.4h3.0v3.0h-3.0zM445.9 571.8h3.0v3.0h-3.0zM498.3 595.0h3.0v3.0h-3.0zM362.9 636.7h3.0v3.0h-3.0zM467.9 566.1h3.0v3.0h-3.0zM458.7 558.5h3.0v3.0h-3.0zM400.1 650.5h3.0v3.0h-3.0zM369.6 619.4h3.0v3.0h-3.0zM448.3 592.9h3.0v3.0h-3.0zM381.5 653.6h3.0v3.0h-3.0zM411.6 606.5h3.0v3.0h-3.0zM392.9 636.1h3.0v3.0h-3.0zM445.5 531.9h3.0v3.0h-3.0zM453.8 612.4h3.0v3.0h-3.0zM352.1 668.4h3.0v3.0h-3.0zM366.7 596.3h3.0v3.0h-3.0zM447.1 515.6h3.0v3.0h-3.0zM407.0 630.3h3.0v3.0h-3.0zM385.4 602.2h3.0v3.0h-3.0zM453.0 580.5h3.0v3.0h-3.0zM365.4 615.0h3.0v3.0h-3.0zM416.3 578.8h3.0v3.0h-3.0zM440.4 596.5h3.0v3.0h-3.0zM406.4 636.0h3.0v3.0h-3.0zM431.9 643.2h3.0v3.0h-3.0zM519.5 531.7h3.0v3.0h-3.0zM447.7 595.2h3.0v3.0h-3.0zM470.3 603.1h3.0v3.0h-3.0zM434.3 644.1h3.0v3.0h-3.0zM372.6 586.0h3.0v3.0h-3.0zM419.4 547.1h3.0v3.0h-3.0zM445.3 557.3h3.0v3.0h-3.0zM396.8 618.8h3.0v3.0h-3.0zM496.6 565.5h3.0v3.0h-3.0zM480.1 553.2h3.0v3.0h-3.0zM508.9 564.2h3.0v3.0h-3.0zM436.8 626.6h3.0v3.0h-3.0zM474.8 561.6h3.0v3.0h-3.0zM337.7 636.4h3.0v3.0h-3.0zM456.4 575.2h3.0v3.0h-3.0zM333.9 682.8h3.0v3.0h-3.0zM446.3 517.7h3.0v3.0h-3.0zM369.4 630.9h3.0v3.0h-3.0zM409.8 556.0h3.0v3.0h-3.0zM422.4 548.6h3.0v3.0h-3.0zM368.7 651.0h3.0v3.0h-3.0zM423.5 535.5h3.0v3.0h-3.0zM509.0 532.1h3.0v3.0h-3.0zM413.6 662.7h3.0v3.0h-3.0zM381.3 589.6h3.0v3.0h-3.0zM405.8 663.4h3.0v3.0h-3.0zM451.3 538.5h3.0v3.0h-3.0zM408.9 675.7h3.0v3.0h-3.0zM407.0 638.2h3.0v3.0h-3.0zM394.1 553.3h3.0v3.0h-3.0zM417.2 600.9h3.0v3.0h-3.0zM365.4 623.4h3.0v3.0h-3.0zM372.1 634.6h3.0v3.0h-3.0zM458.3 609.5h3.0v3.0h-3.0zM415.5 622.9h3.0v3.0h-3.0zM458.0 526.2h3.0v3.0h-3.0zM473.2 514.5h3.0v3.0h-3.0zM406.9 617.6h3.0v3.0h-3.0zM389.0 668.4h3.0v3.0h-3.0zM441.3 528.0h3.0v3.0h-3.0zM361.0 670.1h3.0v3.0h-3.0zM397.8 636.8h3.0v3.0h-3.0zM364.7 640.3h3.0v3.0h-3.0zM386.1 603.3h3.0v3.0h-3.0zM446.9 557.5h3.0v3.0h-3.0zM468.6 566.3h3.0v3.0h-3.0zM506.2 510.7h3.0v3.0h-3.0zM360.8 645.2h3.0v3.0h-3.0zM345.3 695.7h3.0v3.0h-3.0zM516.1 533.2h3.0v3.0h-3.0zM524.2 580.8h3.0v3.0h-3.0zM420.8 587.1h3.0v3.0h-3.0zM498.3 543.9h3.0v3.0h-3.0zM450.8 514.8h3.0v3.0h-3.0zM471.1 592.9h3.0v3.0h-3.0zM416.3 624.9h3.0v3.0h-3.0zM432.2 593.8h3.0v3.0h-3.0zM454.6 642.9h3.0v3.0h-3.0zM394.3 633.7h3.0v3.0h-3.0zM366.0 626.1h3.0v3.0h-3.0zM505.6 553.3h3.0v3.0h-3.0zM416.7 544.4h3.0v3.0h-3.0zM441.5 582.9h3.0v3.0h-3.0zM355.8 626.1h3.0v3.0h-3.0zM447.7 551.2h3.0v3.0h-3.0zM405.5 631.2h3.0v3.0h-3.0zM400.9 583.4h3.0v3.0h-3.0zM436.5 602.4h3.0v3.0h-3.0zM366.7 621.8h3.0v3.0h-3.0zM460.1 646.9h3.0v3.0h-3.0zM458.3 550.9h3.0v3.0h-3.0zM387.3 618.1h3.0v3.0h-3.0zM454.1 553.2h3.0v3.0h-3.0zM408.8 607.3h3.0v3.0h-3.0zM461.5 552.0h3.0v3.0h-3.0zM454.0 581.2h3.0v3.0h-3.0zM399.6 680.3h3.0v3.0h-3.0zM470.5 564.6h3.0v3.0h-3.0zM404.8 669.3h3.0v3.0h-3.0zM398.6 565.6h3.0v3.0h-3.0zM506.9 584.9h3.0v3.0h-3.0zM520.2 555.1h3.0v3.0h-3.0zM395.1 581.0h3.0v3.0h-3.0zM370.8 647.7h3.0v3.0h-3.0zM380.3 618.1h3.0v3.0h-3.0zM438.7 647.4h3.0v3.0h-3.0zM407.0 654.6h3.0v3.0h-3.0zM382.1 609.7h3.0v3.0h-3.0zM405.4 571.7h3.0v3.0h-3.0zM352.1 638.6h3.0v3.0h-3.0zM461.9 612.2h3.0v3.0h-3.0zM415.6 649.3h3.0v3.0h-3.0zM469.0 590.0h3.0v3.0h-3.0zM415.9 585.9h3.0v3.0h-3.0zM347.7 601.4h3.0v3.0h-3.0zM362.7 669.3h3.0v3.0h-3.0zM459.6 615.8h3.0v3.0h-3.0zM416.7 649.9h3.0v3.0h-3.0zM402.0 589.6h3.0v3.0h-3.0zM468.4 536.6h3.0v3.0h-3.0zM404.4 598.5h3.0v3.0h-3.0zM344.5 619.3h3.0v3.0h-3.0zM421.1 540.4h3.0v3.0h-3.0zM363.1 627.7h3.0v3.0h-3.0zM341.4 660.9h3.0v3.0h-3.0zM459.4 590.3h3.0v3.0h-3.0zM483.1 550.6h3.0v3.0h-3.0zM425.5 626.2h3.0v3.0h-3.0zM378.2 587.6h3.0v3.0h-3.0zM407.6 587.8h3.0v3.0h-3.0zM450.4 576.4h3.0v3.0h-3.0zM484.9 534.2h3.0v3.0h-3.0zM466.8 610.1h3.0v3.0h-3.0zM421.2 560.1h3.0v3.0h-3.0zM356.4 589.5h3.0v3.0h-3.0zM404.3 679.7h3.0v3.0h-3.0zM367.5 599.2h3.0v3.0h-3.0zM476.0 608.6h3.0v3.0h-3.0zM448.0 578.4h3.0v3.0h-3.0zM338.6 687.0h3.0v3.0h-3.0zM397.0 581.2h3.0v3.0h-3.0zM427.9 621.3h3.0v3.0h-3.0zM406.6 600.0h3.0v3.0h-3.0zM402.5 602.0h3.0v3.0h-3.0zM487.2 553.0h3.0v3.0h-3.0zM435.2 608.1h3.0v3.0h-3.0zM468.2 647.3h3.0v3.0h-3.0zM458.1 624.7h3.0v3.0h-3.0zM450.6 583.6h3.0v3.0h-3.0zM440.3 550.3h3.0v3.0h-3.0zM470.3 606.0h3.0v3.0h-3.0zM451.5 517.6h3.0v3.0h-3.0zM405.7 626.5h3.0v3.0h-3.0zM507.5 541.2h3.0v3.0h-3.0zM417.2 630.9h3.0v3.0h-3.0zM371.3 624.9h3.0v3.0h-3.0zM463.4 547.3h3.0v3.0h-3.0zM406.2 683.5h3.0v3.0h-3.0zM476.4 571.1h3.0v3.0h-3.0zM369.1 601.6h3.0v3.0h-3.0zM487.3 610.6h3.0v3.0h-3.0zM413.5 645.6h3.0v3.0h-3.0zM454.7 613.0h3.0v3.0h-3.0zM490.7 564.9h3.0v3.0h-3.0zM347.3 615.2h3.0v3.0h-3.0zM494.7 572.4h3.0v3.0h-3.0zM474.2 598.3h3.0v3.0h-3.0zM460.7 652.3h3.0v3.0h-3.0zM484.1 616.1h3.0v3.0h-3.0zM436.5 544.2h3.0v3.0h-3.0zM361.3 659.5h3.0v3.0h-3.0zM442.6 597.7h3.0v3.0h-3.0zM403.9 639.1h3.0v3.0h-3.0zM394.6 591.5h3.0v3.0h-3.0zM405.5 642.0h3.0v3.0h-3.0zM396.7 640.4h3.0v3.0h-3.0zM446.0 555.9h3.0v3.0h-3.0zM340.6 671.4h3.0v3.0h-3.0zM412.1 651.7h3.0v3.0h-3.0zM505.2 595.4h3.0v3.0h-3.0zM511.8 531.8h3.0v3.0h-3.0zM387.8 592.3h3.0v3.0h-3.0zM386.3 672.4h3.0v3.0h-3.0zM540.3 524.8h3.0v3.0h-3.0zM475.3 592.6h3.0v3.0h-3.0zM368.6 609.2h3.0v3.0h-3.0zM337.2 690.8h3.0v3.0h-3.0zM424.1 641.8h3.0v3.0h-3.0zM433.1 639.9h3.0v3.0h-3.0zM476.9 595.0h3.0v3.0h-3.0zM434.7 629.0h3.0v3.0h-3.0zM342.9 598.6h3.0v3.0h-3.0zM520.7 556.9h3.0v3.0h-3.0zM428.0 589.0h3.0v3.0h-3.0zM411.7 619.1h3.0v3.0h-3.0zM439.4 631.5h3.0v3.0h-3.0zM448.3 526.1h3.0v3.0h-3.0zM360.6 701.6h3.0v3.0h-3.0zM336.1 609.8h3.0v3.0h-3.0zM485.6 564.7h3.0v3.0h-3.0zM389.6 613.8h3.0v3.0h-3.0zM493.2 574.1h3.0v3.0h-3.0zM509.8 593.7h3.0v3.0h-3.0zM474.4 593.0h3.0v3.0h-3.0zM370.9 639.7h3.0v3.0h-3.0zM357.9 635.3h3.0v3.0h-3.0zM444.9 629.0h3.0v3.0h-3.0zM473.3 577.6h3.0v3.0h-3.0zM434.5 557.4h3.0v3.0h-3.0zM531.1 502.6h3.0v3.0h-3.0zM456.1 527.9h3.0v3.0h-3.0zM431.0 575.6h3.0v3.0h-3.0zM481.1 515.4h3.0v3.0h-3.0zM418.5 629.8h3.0v3.0h-3.0zM427.1 596.4h3.0v3.0h-3.0zM344.1 694.4h3.0v3.0h-3.0zM444.3 643.6h3.0v3.0h-3.0zM466.8 513.6h3.0v3.0h-3.0zM406.9 651.2h3.0v3.0h-3.0zM453.1 653.9h3.0v3.0h-3.0zM505.9 573.2h3.0v3.0h-3.0zM386.1 646.0h3.0v3.0h-3.0zM394.5 602.8h3.0v3.0h-3.0zM367.2 665.9h3.0v3.0h-3.0zM477.3 589.8h3.0v3.0h-3.0zM432.3 599.0h3.0v3.0h-3.0zM329.8 682.1h3.0v3.0h-3.0zM384.1 601.5h3.0v3.0h-3.0zM458.8 569.8h3.0v3.0h-3.0zM417.5 528.3h3.0v3.0h-3.0zM401.6 597.7h3.0v3.0h-3.0zM352.8 589.8h3.0v3.0h-3.0zM342.6 622.1h3.0v3.0h-3.0zM478.6 619.6h3.0v3.0h-3.0zM516.1 534.0h3.0v3.0h-3.0zM435.4 645.3h3.0v3.0h-3.0zM434.9 580.2h3.0v3.0h-3.0zM394.1 633.3h3.0v3.0h-3.0zM345.2 665.4h3.0v3.0h-3.0zM358.4 634.5h3.0v3.0h-3.0zM374.9 596.8h3.0v3.0h-3.0zM408.6 641.4h3.0v3.0h-3.0zM405.6 576.5h3.0v3.0h-3.0zM438.9 659.1h3.0v3.0h-3.0zM526.4 540.5h3.0v3.0h-3.0zM405.2 681.5h3.0v3.0h-3.0zM380.9 647.8h3.0v3.0h-3.0zM435.2 641.5h3.0v3.0h-3.0zM418.7 564.8h3.0v3.0h-3.0zM463.6 598.5h3.0v3.0h-3.0zM435.3 645.6h3.0v3.0h-3.0zM345.2 692.5h3.0v3.0h-3.0zM348.4 679.2h3.0v3.0h-3.0zM472.9 626.5h3.0v3.0h-3.0zM422.4 626.4h3.0v3.0h-3.0zM394.0 632.7h3.0v3.0h-3.0zM472.2 555.9h3.0v3.0h-3.0zM506.1 566.9h3.0v3.0h-3.0zM434.7 613.0h3.0v3.0h-3.0zM480.3 559.1h3.0v3.0h-3.0zM446.9 592.9h3.0v3.0h-3.0zM340.0 670.6h3.0v3.0h-3.0zM398.6 606.2h3.0v3.0h-3.0zM405.4 607.4h3.0v3.0h-3.0zM499.8 527.9h3.0v3.0h-3.0zM491.8 584.0h3.0v3.0h-3.0zM434.7 623.0h3.0v3.0h-3.0zM454.4 588.1h3.0v3.0h-3.0zM451.8 516.8h3.0v3.0h-3.0zM425.9 622.3h3.0v3.0h-3.0zM392.0 576.5h3.0v3.0h-3.0zM466.0 550.0h3.0v3.0h-3.0zM514.3 591.6h3.0v3.0h-3.0zM366.4 704.1h3.0v3.0h-3.0zM420.0 575.7h3.0v3.0h-3.0zM425.6 538.5h3.0v3.0h-3.0zM469.9 613.8h3.0v3.0h-3.0zM470.7 596.7h3.0v3.0h-3.0zM436.9 583.9h3.0v3.0h-3.0zM353.0 702.7h3.0v3.0h-3.0zM446.9 604.6h3.0v3.0h-3.0zM441.5 656.6h3.0v3.0h-3.0zM351.6 660.2h3.0v3.0h-3.0zM417.5 619.1h3.0v3.0h-3.0zM423.5 598.8h3.0v3.0h-3.0zM431.9 577.2h3.0v3.0h-3.0zM411.8 583.3h3.0v3.0h-3.0zM449.5 580.9h3.0v3.0h-3.0zM536.2 502.8h3.0v3.0h-3.0zM423.2 582.1h3.0v3.0h-3.0zM356.2 663.6h3.0v3.0h-3.0zM406.9 555.6h3.0v3.0h-3.0zM412.6 650.2h3.0v3.0h-3.0zM409.1 666.9h3.0v3.0h-3.0zM439.5 589.8h3.0v3.0h-3.0zM477.1 602.7h3.0v3.0h-3.0zM491.0 557.7h3.0v3.0h-3.0zM369.0 607.2h3.0v3.0h-3.0zM412.3 570.1h3.0v3.0h-3.0zM394.5 646.3h3.0v3.0h-3.0zM493.9 558.9h3.0v3.0h-3.0zM355.9 675.6h3.0v3.0h-3.0zM530.5 508.4h3.0v3.0h-3.0zM478.8 557.7h3.0v3.0h-3.0zM434.3 562.0h3.0v3.0h-3.0zM376.9 645.3h3.0v3.0h-3.0zM403.1 645.4h3.0v3.0h-3.0zM499.3 526.2h3.0v3.0h-3.0zM419.0 577.9h3.0v3.0h-3.0zM443.0 610.5h3.0v3.0h-3.0zM373.0 614.6h3.0v3.0h-3.0zM351.5 657.7h3.0v3.0h-3.0zM401.6 589.1h3.0v3.0h-3.0zM375.8 594.7h3.0v3.0h-3.0zM422.6 528.1h3.0v3.0h-3.0zM495.7 530.9h3.0v3.0h-3.0zM416.1 641.8h3.0v3.0h-3.0zM457.0 649.0h3.0v3.0h-3.0zM461.5 618.7h3.0v3.0h-3.0zM497.4 596.8h3.0v3.0h-3.0zM437.3 585.9h3.0v3.0h-3.0zM467.6 605.4h3.0v3.0h-3.0zM427.3 542.5h3.0v3.0h-3.0zM465.9 527.9h3.0v3.0h-3.0zM465.4 598.3h3.0v3.0h-3.0zM419.5 634.0h3.0v3.0h-3.0zM448.5 566.5h3.0v3.0h-3.0zM560.6 525.2h3.0v3.0h-3.0zM345.8 658.3h3.0v3.0h-3.0zM457.1 621.4h3.0v3.0h-3.0zM404.6 619.1h3.0v3.0h-3.0zM464.7 616.6h3.0v3.0h-3.0zM483.0 564.4h3.0v3.0h-3.0zM409.3 631.2h3.0v3.0h-3.0zM439.1 587.2h3.0v3.0h-3.0zM349.1 649.3h3.0v3.0h-3.0zM406.5 607.0h3.0v3.0h-3.0zM397.7 555.6h3.0v3.0h-3.0zM404.2 637.6h3.0v3.0h-3.0zM434.4 590.6h3.0v3.0h-3.0zM478.0 536.6h3.0v3.0h-3.0zM389.7 571.2h3.0v3.0h-3.0zM424.6 638.7h3.0v3.0h-3.0zM477.7 530.7h3.0v3.0h-3.0zM406.2 582.9h3.0v3.0h-3.0zM476.3 565.3h3.0v3.0h-3.0zM469.7 577.0h3.0v3.0h-3.0zM423.0 587.2h3.0v3.0h-3.0zM438.7 604.2h3.0v3.0h-3.0zM440.4 642.9h3.0v3.0h-3.0zM408.3 560.3h3.0v3.0h-3.0zM365.0 588.9h3.0v3.0h-3.0zM351.6 673.7h3.0v3.0h-3.0zM346.5 601.7h3.0v3.0h-3.0zM553.9 527.1h3.0v3.0h-3.0zM456.5 582.0h3.0v3.0h-3.0zM466.8 545.8h3.0v3.0h-3.0zM442.8 582.0h3.0v3.0h-3.0zM415.8 552.3h3.0v3.0h-3.0zM428.1 532.1h3.0v3.0h-3.0zM368.5 640.6h3.0v3.0h-3.0zM357.0 653.0h3.0v3.0h-3.0zM432.3 633.1h3.0v3.0h-3.0zM482.9 615.4h3.0v3.0h-3.0zM455.2 566.8h3.0v3.0h-3.0zM512.8 562.3h3.0v3.0h-3.0zM423.5 600.9h3.0v3.0h-3.0zM415.7 627.2h3.0v3.0h-3.0zM355.7 610.5h3.0v3.0h-3.0zM480.9 557.2h3.0v3.0h-3.0zM470.2 521.7h3.0v3.0h-3.0zM490.3 558.4h3.0v3.0h-3.0zM455.4 592.4h3.0v3.0h-3.0zM395.0 560.2h3.0v3.0h-3.0zM452.0 555.4h3.0v3.0h-3.0zM429.4 636.7h3.0v3.0h-3.0zM438.0 600.1h3.0v3.0h-3.0zM428.7 588.3h3.0v3.0h-3.0zM430.8 624.2h3.0v3.0h-3.0zM417.0 558.9h3.0v3.0h-3.0zM418.0 598.0h3.0v3.0h-3.0zM351.9 704.0h3.0v3.0h-3.0zM473.2 560.0h3.0v3.0h-3.0zM469.0 571.0h3.0v3.0h-3.0zM450.2 624.1h3.0v3.0h-3.0zM436.2 543.1h3.0v3.0h-3.0zM445.3 612.8h3.0v3.0h-3.0zM341.1 612.1h3.0v3.0h-3.0zM449.5 566.0h3.0v3.0h-3.0zM554.1 527.9h3.0v3.0h-3.0zM395.7 666.8h3.0v3.0h-3.0zM412.5 584.2h3.0v3.0h-3.0zM469.7 530.3h3.0v3.0h-3.0zM493.6 573.9h3.0v3.0h-3.0zM410.4 595.9h3.0v3.0h-3.0zM358.8 660.4h3.0v3.0h-3.0zM457.1 648.7h3.0v3.0h-3.0zM380.2 692.3h3.0v3.0h-3.0zM458.0 603.9h3.0v3.0h-3.0zM365.2 631.2h3.0v3.0h-3.0zM376.2 616.7h3.0v3.0h-3.0zM384.2 690.5h3.0v3.0h-3.0zM505.3 599.1h3.0v3.0h-3.0zM500.8 574.6h3.0v3.0h-3.0zM526.1 535.5h3.0v3.0h-3.0zM411.9 640.4h3.0v3.0h-3.0zM466.5 611.9h3.0v3.0h-3.0zM446.8 549.8h3.0v3.0h-3.0zM463.3 632.1h3.0v3.0h-3.0zM495.3 592.4h3.0v3.0h-3.0zM444.7 585.9h3.0v3.0h-3.0zM495.0 544.4h3.0v3.0h-3.0zM412.9 611.1h3.0v3.0h-3.0zM408.6 641.4h3.0v3.0h-3.0zM439.8 654.5h3.0v3.0h-3.0zM408.8 582.5h3.0v3.0h-3.0zM399.4 662.7h3.0v3.0h-3.0zM433.8 557.3h3.0v3.0h-3.0zM377.3 600.6h3.0v3.0h-3.0zM353.1 620.4h3.0v3.0h-3.0zM458.4 548.7h3.0v3.0h-3.0zM461.4 540.2h3.0v3.0h-3.0zM421.4 578.1h3.0v3.0h-3.0zM360.5 653.8h3.0v3.0h-3.0zM467.6 554.0h3.0v3.0h-3.0zM496.6 565.1h3.0v3.0h-3.0zM497.7 546.0h3.0v3.0h-3.0zM510.5 590.7h3.0v3.0h-3.0zM480.0 526.5h3.0v3.0h-3.0zM367.6 589.2h3.0v3.0h-3.0zM404.4 667.5h3.0v3.0h-3.0zM358.7 643.1h3.0v3.0h-3.0zM386.9 613.0h3.0v3.0h-3.0zM423.5 581.3h3.0v3.0h-3.0zM376.9 669.0h3.0v3.0h-3.0zM409.7 630.7h3.0v3.0h-3.0zM363.7 621.3h3.0v3.0h-3.0zM489.1 600.2h3.0v3.0h-3.0zM462.3 527.5h3.0v3.0h-3.0zM476.3 542.6h3.0v3.0h-3.0zM420.0 588.1h3.0v3.0h-3.0zM334.2 614.6h3.0v3.0h-3.0zM408.6 624.9h3.0v3.0h-3.0zM402.4 628.9h3.0v3.0h-3.0zM462.5 623.1h3.0v3.0h-3.0zM386.2 591.2h3.0v3.0h-3.0zM451.8 579.0h3.0v3.0h-3.0zM408.5 668.4h3.0v3.0h-3.0zM382.4 639.8h3.0v3.0h-3.0zM375.4 613.7h3.0v3.0h-3.0zM431.0 636.8h3.0v3.0h-3.0zM517.6 557.3h3.0v3.0h-3.0zM363.4 670.1h3.0v3.0h-3.0zM491.9 557.5h3.0v3.0h-3.0zM464.4 582.3h3.0v3.0h-3.0zM497.7 570.0h3.0v3.0h-3.0zM404.7 655.3h3.0v3.0h-3.0zM453.9 599.2h3.0v3.0h-3.0zM430.6 627.0h3.0v3.0h-3.0zM510.9 591.5h3.0v3.0h-3.0zM501.1 553.2h3.0v3.0h-3.0zM404.6 604.4h3.0v3.0h-3.0zM394.7 639.8h3.0v3.0h-3.0zM424.8 579.6h3.0v3.0h-3.0zM456.6 528.2h3.0v3.0h-3.0zM439.4 585.4h3.0v3.0h-3.0zM396.6 652.9h3.0v3.0h-3.0zM458.1 536.5h3.0v3.0h-3.0zM431.5 660.1h3.0v3.0h-3.0zM430.7 603.2h3.0v3.0h-3.0zM422.8 601.9h3.0v3.0h-3.0zM494.4 590.6h3.0v3.0h-3.0zM440.9 596.6h3.0v3.0h-3.0zM409.1 590.3h3.0v3.0h-3.0zM441.8 572.8h3.0v3.0h-3.0zM396.6 595.3h3.0v3.0h-3.0zM422.2 533.1h3.0v3.0h-3.0zM471.4 599.8h3.0v3.0h-3.0zM453.7 605.8h3.0v3.0h-3.0zM393.1 596.8h3.0v3.0h-3.0zM348.1 616.6h3.0v3.0h-3.0zM462.4 625.0h3.0v3.0h-3.0zM401.1 596.7h3.0v3.0h-3.0zM433.0 589.6h3.0v3.0h-3.0zM383.9 563.3h3.0v3.0h-3.0zM504.9 602.0h3.0v3.0h-3.0zM482.0 568.4h3.0v3.0h-3.0zM508.3 590.4h3.0v3.0h-3.0zM556.4 521.8h3.0v3.0h-3.0zM509.2 598.6h3.0v3.0h-3.0zM476.1 550.0h3.0v3.0h-3.0zM427.6 568.5h3.0v3.0h-3.0zM462.8 580.9h3.0v3.0h-3.0zM491.1 577.0h3.0v3.0h-3.0zM333.7 676.6h3.0v3.0h-3.0zM369.4 625.6h3.0v3.0h-3.0zM378.7 637.5h3.0v3.0h-3.0zM346.3 626.5h3.0v3.0h-3.0zM436.4 627.4h3.0v3.0h-3.0zM487.5 507.5h3.0v3.0h-3.0zM531.5 532.0h3.0v3.0h-3.0zM516.4 513.2h3.0v3.0h-3.0zM444.0 581.4h3.0v3.0h-3.0zM377.2 660.7h3.0v3.0h-3.0zM400.1 641.3h3.0v3.0h-3.0zM504.1 545.6h3.0v3.0h-3.0zM440.5 653.9h3.0v3.0h-3.0zM366.8 595.3h3.0v3.0h-3.0zM502.7 564.3h3.0v3.0h-3.0zM458.6 576.9h3.0v3.0h-3.0zM433.5 615.0h3.0v3.0h-3.0zM393.3 616.6h3.0v3.0h-3.0zM396.6 648.2h3.0v3.0h-3.0zM493.8 592.0h3.0v3.0h-3.0zM439.1 608.7h3.0v3.0h-3.0zM368.4 643.0h3.0v3.0h-3.0zM453.1 588.1h3.0v3.0h-3.0zM439.6 640.2h3.0v3.0h-3.0zM429.0 583.2h3.0v3.0h-3.0zM455.7 616.3h3.0v3.0h-3.0zM429.8 630.7h3.0v3.0h-3.0zM496.3 525.4h3.0v3.0h-3.0zM558.9 533.8h3.0v3.0h-3.0zM482.2 598.8h3.0v3.0h-3.0zM543.4 525.6h3.0v3.0h-3.0zM451.1 576.2h3.0v3.0h-3.0zM379.1 568.7h3.0v3.0h-3.0zM395.1 605.7h3.0v3.0h-3.0zM387.3 576.0h3.0v3.0h-3.0zM451.5 590.1h3.0v3.0h-3.0zM365.3 636.7h3.0v3.0h-3.0zM408.2 644.3h3.0v3.0h-3.0zM479.6 605.4h3.0v3.0h-3.0zM386.7 613.6h3.0v3.0h-3.0zM499.3 525.2h3.0v3.0h-3.0zM457.3 553.9h3.0v3.0h-3.0zM476.6 594.6h3.0v3.0h-3.0zM469.6 596.4h3.0v3.0h-3.0zM440.2 608.8h3.0v3.0h-3.0zM421.7 556.0h3.0v3.0h-3.0zM458.1 555.1h3.0v3.0h-3.0zM347.2 678.1h3.0v3.0h-3.0zM398.6 656.6h3.0v3.0h-3.0zM397.4 659.5h3.0v3.0h-3.0zM470.4 567.1h3.0v3.0h-3.0zM440.5 602.3h3.0v3.0h-3.0zM359.7 673.5h3.0v3.0h-3.0zM492.6 578.8h3.0v3.0h-3.0zM357.2 604.2h3.0v3.0h-3.0zM385.1 598.3h3.0v3.0h-3.0zM466.3 624.3h3.0v3.0h-3.0zM432.0 608.9h3.0v3.0h-3.0zM377.7 588.7h3.0v3.0h-3.0zM380.2 576.9h3.0v3.0h-3.0zM433.3 627.2h3.0v3.0h-3.0zM458.7 629.5h3.0v3.0h-3.0zM482.0 515.0h3.0v3.0h-3.0zM394.6 578.0h3.0v3.0h-3.0zM505.8 548.4h3.0v3.0h-3.0zM457.8 623.8h3.0v3.0h-3.0zM332.1 628.6h3.0v3.0h-3.0zM488.0 529.4h3.0v3.0h-3.0zM415.8 587.2h3.0v3.0h-3.0zM328.3 673.7h3.0v3.0h-3.0zM417.1 542.0h3.0v3.0h-3.0zM409.0 681.4h3.0v3.0h-3.0zM367.8 614.3h3.0v3.0h-3.0zM505.0 584.7h3.0v3.0h-3.0zM539.3 517.7h3.0v3.0h-3.0zM497.3 561.9h3.0v3.0h-3.0zM377.9 689.2h3.0v3.0h-3.0zM442.0 655.1h3.0v3.0h-3.0zM472.9 634.9h3.0v3.0h-3.0zM397.2 621.8h3.0v3.0h-3.0zM353.0 615.7h3.0v3.0h-3.0zM458.1 618.5h3.0v3.0h-3.0zM462.9 563.5h3.0v3.0h-3.0zM442.7 552.1h3.0v3.0h-3.0zM515.4 529.3h3.0v3.0h-3.0zM457.6 536.7h3.0v3.0h-3.0zM447.4 610.5h3.0v3.0h-3.0zM482.2 588.9h3.0v3.0h-3.0zM334.2 624.1h3.0v3.0h-3.0zM524.6 528.1h3.0v3.0h-3.0zM375.9 621.6h3.0v3.0h-3.0zM559.1 528.7h3.0v3.0h-3.0zM402.3 572.0h3.0v3.0h-3.0zM479.9 579.3h3.0v3.0h-3.0zM393.2 639.8h3.0v3.0h-3.0zM462.6 523.5h3.0v3.0h-3.0zM466.0 567.0h3.0v3.0h-3.0zM474.4 631.2h3.0v3.0h-3.0zM352.6 696.9h3.0v3.0h-3.0zM493.9 530.2h3.0v3.0h-3.0zM372.6 590.8h3.0v3.0h-3.0zM373.2 642.7h3.0v3.0h-3.0zM366.3 641.8h3.0v3.0h-3.0zM429.7 597.2h3.0v3.0h-3.0zM402.4 652.6h3.0v3.0h-3.0zM419.7 533.9h3.0v3.0h-3.0zM493.2 526.3h3.0v3.0h-3.0zM465.2 601.6h3.0v3.0h-3.0zM498.0 544.9h3.0v3.0h-3.0zM450.2 573.1h3.0v3.0h-3.0zM385.6 636.4h3.0v3.0h-3.0zM372.9 635.5h3.0v3.0h-3.0zM456.2 528.5h3.0v3.0h-3.0zM442.4 644.1h3.0v3.0h-3.0zM461.8 580.5h3.0v3.0h-3.0zM481.3 567.2h3.0v3.0h-3.0zM510.7 552.2h3.0v3.0h-3.0zM490.9 540.5h3.0v3.0h-3.0zM479.2 544.7h3.0v3.0h-3.0zM412.1 589.7h3.0v3.0h-3.0zM442.6 621.4h3.0v3.0h-3.0zM386.7 661.0h3.0v3.0h-3.0zM514.9 540.0h3.0v3.0h-3.0zM487.1 531.0h3.0v3.0h-3.0zM432.2 545.8h3.0v3.0h-3.0zM381.1 612.4h3.0v3.0h-3.0zM463.4 585.2h3.0v3.0h-3.0zM492.2 557.8h3.0v3.0h-3.0zM438.7 608.7h3.0v3.0h-3.0zM401.1 582.9h3.0v3.0h-3.0zM342.9 687.7h3.0v3.0h-3.0zM417.1 631.1h3.0v3.0h-3.0zM469.5 587.6h3.0v3.0h-3.0zM416.6 587.3h3.0v3.0h-3.0zM382.4 685.4h3.0v3.0h-3.0zM461.6 544.9h3.0v3.0h-3.0zM407.8 617.8h3.0v3.0h-3.0zM361.7 643.9h3.0v3.0h-3.0zM515.1 525.2h3.0v3.0h-3.0zM490.3 572.2h3.0v3.0h-3.0zM462.4 552.2h3.0v3.0h-3.0zM513.2 513.4h3.0v3.0h-3.0zM379.3 617.2h3.0v3.0h-3.0zM413.1 567.9h3.0v3.0h-3.0zM390.7 582.9h3.0v3.0h-3.0zM474.0 562.0h3.0v3.0h-3.0zM399.7 553.6h3.0v3.0h-3.0zM435.0 583.9h3.0v3.0h-3.0zM441.1 604.9h3.0v3.0h-3.0zM491.1 600.7h3.0v3.0h-3.0zM471.6 591.3h3.0v3.0h-3.0zM400.0 586.6h3.0v3.0h-3.0zM462.1 547.6h3.0v3.0h-3.0zM350.0 602.0h3.0v3.0h-3.0zM507.8 540.3h3.0v3.0h-3.0zM351.9 667.0h3.0v3.0h-3.0zM444.9 636.7h3.0v3.0h-3.0zM366.0 586.6h3.0v3.0h-3.0zM340.2 608.9h3.0v3.0h-3.0zM337.9 616.4h3.0v3.0h-3.0zM509.1 591.3h3.0v3.0h-3.0zM398.6 605.1h3.0v3.0h-3.0zM412.9 563.8h3.0v3.0h-3.0zM402.0 602.0h3.0v3.0h-3.0zM490.1 557.6h3.0v3.0h-3.0zM491.9 548.5h3.0v3.0h-3.0zM442.7 560.3h3.0v3.0h-3.0zM415.3 550.9h3.0v3.0h-3.0zM396.0 615.3h3.0v3.0h-3.0zM485.2 535.1h3.0v3.0h-3.0zM345.7 677.3h3.0v3.0h-3.0zM445.7 590.7h3.0v3.0h-3.0zM510.9 577.6h3.0v3.0h-3.0zM431.4 568.3h3.0v3.0h-3.0zM370.1 657.8h3.0v3.0h-3.0zM344.5 665.8h3.0v3.0h-3.0zM445.1 603.1h3.0v3.0h-3.0zM397.5 622.0h3.0v3.0h-3.0zM420.8 556.1h3.0v3.0h-3.0zM419.6 584.4h3.0v3.0h-3.0zM379.2 694.3h3.0v3.0h-3.0zM471.0 597.3h3.0v3.0h-3.0zM479.9 612.7h3.0v3.0h-3.0zM443.5 603.5h3.0v3.0h-3.0zM407.8 644.0h3.0v3.0h-3.0zM481.1 613.1h3.0v3.0h-3.0zM375.1 654.0h3.0v3.0h-3.0zM483.6 538.5h3.0v3.0h-3.0zM498.0 566.8h3.0v3.0h-3.0zM449.9 553.2h3.0v3.0h-3.0zM454.9 556.3h3.0v3.0h-3.0zM369.5 659.8h3.0v3.0h-3.0zM404.9 684.0h3.0v3.0h-3.0zM424.5 557.4h3.0v3.0h-3.0zM356.3 639.0h3.0v3.0h-3.0zM456.3 566.7h3.0v3.0h-3.0zM434.7 585.2h3.0v3.0h-3.0zM527.0 508.5h3.0v3.0h-3.0zM372.2 610.0h3.0v3.0h-3.0zM445.0 514.8h3.0v3.0h-3.0zM417.4 595.8h3.0v3.0h-3.0zM381.4 674.7h3.0v3.0h-3.0zM371.1 636.7h3.0v3.0h-3.0zM338.8 665.7h3.0v3.0h-3.0zM444.5 560.1h3.0v3.0h-3.0zM417.4 623.5h3.0v3.0h-3.0zM466.3 512.6h3.0v3.0h-3.0zM482.0 589.1h3.0v3.0h-3.0zM469.3 516.2h3.0v3.0h-3.0zM489.5 609.0h3.0v3.0h-3.0zM487.1 598.0h3.0v3.0h-3.0zM350.1 664.1h3.0v3.0h-3.0zM455.2 592.4h3.0v3.0h-3.0zM460.4 650.6h3.0v3.0h-3.0zM481.9 589.0h3.0v3.0h-3.0zM447.0 533.2h3.0v3.0h-3.0zM352.3 679.0h3.0v3.0h-3.0zM362.6 613.8h3.0v3.0h-3.0zM411.4 642.3h3.0v3.0h-3.0zM362.4 670.2h3.0v3.0h-3.0zM407.3 602.8h3.0v3.0h-3.0zM425.2 592.4h3.0v3.0h-3.0zM373.1 665.7h3.0v3.0h-3.0zM393.0 580.1h3.0v3.0h-3.0zM396.7 566.9h3.0v3.0h-3.0zM410.0 603.9h3.0v3.0h-3.0zM510.8 528.7h3.0v3.0h-3.0zM499.9 512.8h3.0v3.0h-3.0zM495.8 517.3h3.0v3.0h-3.0zM391.1 664.4h3.0v3.0h-3.0zM514.4 586.5h3.0v3.0h-3.0zM385.2 614.4h3.0v3.0h-3.0zM471.0 592.7h3.0v3.0h-3.0zM426.8 578.7h3.0v3.0h-3.0zM494.8 543.5h3.0v3.0h-3.0zM406.4 600.5h3.0v3.0h-3.0zM504.1 580.6h3.0v3.0h-3.0zM528.3 542.1h3.0v3.0h-3.0zM459.3 596.4h3.0v3.0h-3.0zM501.3 514.7h3.0v3.0h-3.0zM412.5 649.6h3.0v3.0h-3.0zM380.0 687.6h3.0v3.0h-3.0zM426.2 612.0h3.0v3.0h-3.0zM347.2 668.9h3.0v3.0h-3.0zM529.7 508.5h3.0v3.0h-3.0zM362.6 664.6h3.0v3.0h-3.0zM478.4 567.4h3.0v3.0h-3.0zM473.9 615.7h3.0v3.0h-3.0zM404.5 629.6h3.0v3.0h-3.0zM463.3 590.8h3.0v3.0h-3.0zM379.9 630.6h3.0v3.0h-3.0zM332.5 678.7h3.0v3.0h-3.0zM455.4 548.1h3.0v3.0h-3.0zM510.3 510.5h3.0v3.0h-3.0zM431.0 571.6h3.0v3.0h-3.0zM391.2 593.1h3.0v3.0h-3.0zM515.0 553.3h3.0v3.0h-3.0zM481.5 537.1h3.0v3.0h-3.0zM473.5 605.1h3.0v3.0h-3.0zM454.2 588.5h3.0v3.0h-3.0zM468.9 617.8h3.0v3.0h-3.0zM329.4 677.8h3.0v3.0h-3.0zM429.3 579.1h3.0v3.0h-3.0zM498.0 559.2h3.0v3.0h-3.0zM457.2 593.7h3.0v3.0h-3.0zM476.3 594.3h3.0v3.0h-3.0zM406.3 623.4h3.0v3.0h-3.0zM464.2 650.5h3.0v3.0h-3.0zM371.7 633.9h3.0v3.0h-3.0zM389.7 610.7h3.0v3.0h-3.0zM458.6 582.8h3.0v3.0h-3.0zM453.2 648.9h3.0v3.0h-3.0zM478.4 526.0h3.0v3.0h-3.0zM457.7 590.1h3.0v3.0h-3.0zM466.5 595.8h3.0v3.0h-3.0zM342.4 694.2h3.0v3.0h-3.0zM327.8 672.2h3.0v3.0h-3.0zM350.5 652.1h3.0v3.0h-3.0zM366.7 632.4h3.0v3.0h-3.0zM463.3 527.7h3.0v3.0h-3.0zM405.3 616.8h3.0v3.0h-3.0zM388.7 635.5h3.0v3.0h-3.0zM438.1 555.5h3.0v3.0h-3.0zM423.9 578.7h3.0v3.0h-3.0zM394.4 655.4h3.0v3.0h-3.0zM404.5 544.0h3.0v3.0h-3.0zM360.1 638.9h3.0v3.0h-3.0zM350.6 698.8h3.0v3.0h-3.0zM433.7 571.2h3.0v3.0h-3.0zM455.1 636.6h3.0v3.0h-3.0zM385.2 592.4h3.0v3.0h-3.0zM493.8 554.8h3.0v3.0h-3.0zM448.0 532.7h3.0v3.0h-3.0zM428.7 533.2h3.0v3.0h-3.0zM483.6 565.0h3.0v3.0h-3.0zM342.6 661.1h3.0v3.0h-3.0zM473.0 602.1h3.0v3.0h-3.0zM394.5 634.3h3.0v3.0h-3.0zM436.8 609.0h3.0v3.0h-3.0zM516.6 543.0h3.0v3.0h-3.0zM459.5 560.1h3.0v3.0h-3.0zM516.9 558.2h3.0v3.0h-3.0zM365.3 673.4h3.0v3.0h-3.0zM420.0 580.3h3.0v3.0h-3.0zM523.2 581.7h3.0v3.0h-3.0zM486.3 550.3h3.0v3.0h-3.0zM451.1 590.1h3.0v3.0h-3.0zM330.9 620.6h3.0v3.0h-3.0zM383.1 606.6h3.0v3.0h-3.0zM343.9 663.8h3.0v3.0h-3.0zM387.1 644.0h3.0v3.0h-3.0zM458.2 654.0h3.0v3.0h-3.0zM401.7 611.7h3.0v3.0h-3.0zM376.7 611.1h3.0v3.0h-3.0zM475.0 612.3h3.0v3.0h-3.0zM433.1 557.9h3.0v3.0h-3.0zM499.8 534.1h3.0v3.0h-3.0zM468.0 651.6h3.0v3.0h-3.0zM392.0 615.4h3.0v3.0h-3.0zM484.2 551.9h3.0v3.0h-3.0zM513.1 553.1h3.0v3.0h-3.0zM459.3 534.1h3.0v3.0h-3.0zM460.7 560.6h3.0v3.0h-3.0zM443.9 580.6h3.0v3.0h-3.0zM406.7 612.2h3.0v3.0h-3.0zM369.5 606.2h3.0v3.0h-3.0zM431.4 614.5h3.0v3.0h-3.0zM472.6 543.2h3.0v3.0h-3.0zM449.9 590.7h3.0v3.0h-3.0zM505.8 568.3h3.0v3.0h-3.0zM337.9 620.9h3.0v3.0h-3.0zM427.0 538.2h3.0v3.0h-3.0zM351.7 650.4h3.0v3.0h-3.0zM403.0 625.5h3.0v3.0h-3.0zM478.5 546.6h3.0v3.0h-3.0zM363.4 604.6h3.0v3.0h-3.0zM451.6 619.6h3.0v3.0h-3.0zM451.2 524.1h3.0v3.0h-3.0zM425.6 587.9h3.0v3.0h-3.0zM449.3 576.0h3.0v3.0h-3.0zM496.8 557.4h3.0v3.0h-3.0zM350.9 614.4h3.0v3.0h-3.0zM417.5 644.7h3.0v3.0h-3.0zM434.4 658.9h3.0v3.0h-3.0zM395.0 613.3h3.0v3.0h-3.0zM482.3 567.9h3.0v3.0h-3.0zM375.1 643.9h3.0v3.0h-3.0zM380.9 675.1h3.0v3.0h-3.0zM431.7 597.4h3.0v3.0h-3.0zM429.0 638.9h3.0v3.0h-3.0zM544.3 529.6h3.0v3.0h-3.0zM517.7 587.0h3.0v3.0h-3.0zM464.1 606.0h3.0v3.0h-3.0zM350.0 635.8h3.0v3.0h-3.0zM342.7 696.2h3.0v3.0h-3.0zM487.4 550.2h3.0v3.0h-3.0zM526.0 539.6h3.0v3.0h-3.0zM518.2 574.1h3.0v3.0h-3.0zM432.5 545.0h3.0v3.0h-3.0zM471.9 620.5h3.0v3.0h-3.0zM455.3 603.3h3.0v3.0h-3.0zM345.8 702.0h3.0v3.0h-3.0zM363.9 598.9h3.0v3.0h-3.0zM426.2 574.0h3.0v3.0h-3.0zM469.9 590.0h3.0v3.0h-3.0zM400.1 568.6h3.0v3.0h-3.0zM497.2 568.2h3.0v3.0h-3.0zM462.5 596.9h3.0v3.0h-3.0zM405.3 680.6h3.0v3.0h-3.0zM341.9 688.2h3.0v3.0h-3.0zM419.9 568.4h3.0v3.0h-3.0zM440.0 602.4h3.0v3.0h-3.0zM389.9 665.6h3.0v3.0h-3.0zM453.3 620.3h3.0v3.0h-3.0zM343.5 700.5h3.0v3.0h-3.0zM335.2 665.5h3.0v3.0h-3.0zM357.9 637.6h3.0v3.0h-3.0zM373.3 604.5h3.0v3.0h-3.0zM514.4 589.2h3.0v3.0h-3.0zM459.9 623.2h3.0v3.0h-3.0zM395.5 608.6h3.0v3.0h-3.0zM392.5 599.2h3.0v3.0h-3.0zM423.6 598.9h3.0v3.0h-3.0zM386.1 672.4h3.0v3.0h-3.0zM409.6 647.3h3.0v3.0h-3.0zM496.0 512.8h3.0v3.0h-3.0zM464.6 600.9h3.0v3.0h-3.0zM443.2 562.4h3.0v3.0h-3.0zM364.9 582.8h3.0v3.0h-3.0zM507.4 574.5h3.0v3.0h-3.0zM417.5 580.0h3.0v3.0h-3.0zM375.5 636.9h3.0v3.0h-3.0zM454.3 643.0h3.0v3.0h-3.0zM485.1 574.2h3.0v3.0h-3.0zM404.6 641.1h3.0v3.0h-3.0zM461.6 569.6h3.0v3.0h-3.0zM438.6 592.9h3.0v3.0h-3.0zM389.3 631.1h3.0v3.0h-3.0zM464.3 606.8h3.0v3.0h-3.0zM417.7 528.4h3.0v3.0h-3.0zM462.3 590.6h3.0v3.0h-3.0zM400.6 665.3h3.0v3.0h-3.0zM484.1 586.4h3.0v3.0h-3.0zM488.6 523.4h3.0v3.0h-3.0zM443.5 554.8h3.0v3.0h-3.0zM380.1 639.6h3.0v3.0h-3.0zM482.6 587.8h3.0v3.0h-3.0zM457.2 647.9h3.0v3.0h-3.0zM420.1 615.0h3.0v3.0h-3.0zM435.5 573.0h3.0v3.0h-3.0zM491.9 575.4h3.0v3.0h-3.0zM483.6 507.8h3.0v3.0h-3.0zM454.0 533.1h3.0v3.0h-3.0zM493.5 566.2h3.0v3.0h-3.0zM506.4 560.1h3.0v3.0h-3.0zM452.3 625.3h3.0v3.0h-3.0zM491.5 575.4h3.0v3.0h-3.0zM402.5 584.1h3.0v3.0h-3.0zM422.1 573.3h3.0v3.0h-3.0zM424.6 638.7h3.0v3.0h-3.0zM493.2 602.9h3.0v3.0h-3.0zM380.5 651.8h3.0v3.0h-3.0zM405.3 582.6h3.0v3.0h-3.0zM414.6 554.3h3.0v3.0h-3.0zM416.8 552.7h3.0v3.0h-3.0zM502.0 519.0h3.0v3.0h-3.0zM480.0 579.7h3.0v3.0h-3.0zM410.6 566.4h3.0v3.0h-3.0zM397.3 616.9h3.0v3.0h-3.0zM441.7 608.7h3.0v3.0h-3.0zM421.5 570.7h3.0v3.0h-3.0zM423.6 624.8h3.0v3.0h-3.0zM466.8 589.8h3.0v3.0h-3.0zM350.1 599.2h3.0v3.0h-3.0zM414.0 584.4h3.0v3.0h-3.0zM384.0 638.5h3.0v3.0h-3.0zM464.6 577.6h3.0v3.0h-3.0zM357.8 637.7h3.0v3.0h-3.0zM414.8 625.7h3.0v3.0h-3.0zM401.2 580.5h3.0v3.0h-3.0zM461.1 648.1h3.0v3.0h-3.0zM381.9 650.0h3.0v3.0h-3.0zM375.3 613.4h3.0v3.0h-3.0zM430.7 649.5h3.0v3.0h-3.0zM407.6 662.5h3.0v3.0h-3.0zM370.5 663.5h3.0v3.0h-3.0zM459.3 650.0h3.0v3.0h-3.0zM429.5 622.0h3.0v3.0h-3.0zM438.7 640.4h3.0v3.0h-3.0zM426.3 565.3h3.0v3.0h-3.0zM397.0 624.8h3.0v3.0h-3.0zM356.0 677.7h3.0v3.0h-3.0zM494.4 633.7h3.0v3.0h-3.0zM429.9 633.1h3.0v3.0h-3.0zM357.7 619.5h3.0v3.0h-3.0zM437.2 652.2h3.0v3.0h-3.0zM500.4 565.1h3.0v3.0h-3.0zM420.2 598.1h3.0v3.0h-3.0zM511.7 523.6h3.0v3.0h-3.0zM415.3 626.6h3.0v3.0h-3.0zM525.5 538.9h3.0v3.0h-3.0zM363.0 642.7h3.0v3.0h-3.0zM364.4 667.1h3.0v3.0h-3.0zM370.7 594.9h3.0v3.0h-3.0zM429.0 587.4h3.0v3.0h-3.0zM440.2 568.4h3.0v3.0h-3.0zM409.6 539.6h3.0v3.0h-3.0zM411.7 597.4h3.0v3.0h-3.0zM433.9 598.8h3.0v3.0h-3.0zM417.7 585.9h3.0v3.0h-3.0zM434.6 662.7h3.0v3.0h-3.0zM349.2 637.9h3.0v3.0h-3.0zM461.1 570.5h3.0v3.0h-3.0zM412.3 596.6h3.0v3.0h-3.0zM400.3 557.2h3.0v3.0h-3.0zM381.1 620.0h3.0v3.0h-3.0zM374.0 685.2h3.0v3.0h-3.0zM386.2 617.3h3.0v3.0h-3.0zM399.1 666.2h3.0v3.0h-3.0zM364.4 587.0h3.0v3.0h-3.0zM483.0 603.1h3.0v3.0h-3.0zM415.8 531.2h3.0v3.0h-3.0zM469.5 649.9h3.0v3.0h-3.0zM499.6 512.6h3.0v3.0h-3.0zM349.6 698.2h3.0v3.0h-3.0zM490.4 539.8h3.0v3.0h-3.0zM463.6 561.7h3.0v3.0h-3.0zM416.5 597.9h3.0v3.0h-3.0zM376.9 641.6h3.0v3.0h-3.0zM380.5 623.0h3.0v3.0h-3.0zM393.5 596.3h3.0v3.0h-3.0zM486.7 593.0h3.0v3.0h-3.0zM496.0 593.5h3.0v3.0h-3.0zM495.9 552.8h3.0v3.0h-3.0zM406.2 671.9h3.0v3.0h-3.0zM502.6 533.0h3.0v3.0h-3.0zM483.3 592.7h3.0v3.0h-3.0zM365.9 606.4h3.0v3.0h-3.0zM413.6 588.4h3.0v3.0h-3.0zM516.2 569.8h3.0v3.0h-3.0zM343.5 616.5h3.0v3.0h-3.0zM423.3 625.4h3.0v3.0h-3.0zM497.1 595.9h3.0v3.0h-3.0zM410.7 543.8h3.0v3.0h-3.0zM417.1 559.5h3.0v3.0h-3.0zM531.3 510.2h3.0v3.0h-3.0zM400.0 566.5h3.0v3.0h-3.0zM375.1 658.9h3.0v3.0h-3.0zM431.8 570.2h3.0v3.0h-3.0zM343.5 596.9h3.0v3.0h-3.0zM462.7 627.8h3.0v3.0h-3.0zM509.0 514.3h3.0v3.0h-3.0zM400.3 592.3h3.0v3.0h-3.0zM432.0 562.7h3.0v3.0h-3.0zM467.1 605.9h3.0v3.0h-3.0zM465.4 588.1h3.0v3.0h-3.0zM428.1 585.4h3.0v3.0h-3.0zM522.0 573.9h3.0v3.0h-3.0zM436.4 629.8h3.0v3.0h-3.0zM482.3 616.2h3.0v3.0h-3.0zM483.3 556.1h3.0v3.0h-3.0zM516.6 556.6h3.0v3.0h-3.0zM445.3 584.0h3.0v3.0h-3.0zM492.7 525.6h3.0v3.0h-3.0zM417.1 661.5h3.0v3.0h-3.0zM339.1 659.3h3.0v3.0h-3.0zM421.0 577.3h3.0v3.0h-3.0zM353.4 622.6h3.0v3.0h-3.0zM495.7 524.3h3.0v3.0h-3.0zM398.6 600.2h3.0v3.0h-3.0zM387.4 651.8h3.0v3.0h-3.0zM371.2 587.9h3.0v3.0h-3.0zM478.4 613.5h3.0v3.0h-3.0zM528.8 525.1h3.0v3.0h-3.0zM469.3 594.6h3.0v3.0h-3.0zM388.0 634.1h3.0v3.0h-3.0zM403.6 613.5h3.0v3.0h-3.0zM419.5 620.8h3.0v3.0h-3.0zM444.6 622.0h3.0v3.0h-3.0zM383.5 600.6h3.0v3.0h-3.0zM410.6 590.3h3.0v3.0h-3.0zM405.5 570.3h3.0v3.0h-3.0zM461.6 566.1h3.0v3.0h-3.0zM497.6 549.4h3.0v3.0h-3.0zM356.5 587.3h3.0v3.0h-3.0zM419.9 561.2h3.0v3.0h-3.0zM394.2 658.4h3.0v3.0h-3.0zM386.2 661.7h3.0v3.0h-3.0zM454.7 609.7h3.0v3.0h-3.0zM419.0 601.6h3.0v3.0h-3.0zM413.1 661.7h3.0v3.0h-3.0zM368.4 659.0h3.0v3.0h-3.0zM419.8 545.1h3.0v3.0h-3.0zM405.7 563.2h3.0v3.0h-3.0zM412.2 663.9h3.0v3.0h-3.0zM533.2 508.0h3.0v3.0h-3.0zM384.0 599.8h3.0v3.0h-3.0zM348.6 612.0h3.0v3.0h-3.0zM452.5 555.8h3.0v3.0h-3.0zM363.4 622.3h3.0v3.0h-3.0zM504.5 597.4h3.0v3.0h-3.0zM385.0 609.3h3.0v3.0h-3.0zM450.6 631.3h3.0v3.0h-3.0zM431.4 541.3h3.0v3.0h-3.0zM368.4 666.8h3.0v3.0h-3.0zM486.6 529.2h3.0v3.0h-3.0zM452.9 601.4h3.0v3.0h-3.0zM503.4 504.8h3.0v3.0h-3.0zM452.7 517.8h3.0v3.0h-3.0zM474.6 626.0h3.0v3.0h-3.0zM404.5 633.3h3.0v3.0h-3.0zM517.4 516.8h3.0v3.0h-3.0zM467.8 580.3h3.0v3.0h-3.0zM355.7 646.9h3.0v3.0h-3.0zM439.3 629.5h3.0v3.0h-3.0zM491.3 547.6h3.0v3.0h-3.0zM542.4 524.3h3.0v3.0h-3.0zM445.4 584.7h3.0v3.0h-3.0zM333.1 689.9h3.0v3.0h-3.0zM444.8 588.4h3.0v3.0h-3.0zM391.8 642.6h3.0v3.0h-3.0zM496.2 531.0h3.0v3.0h-3.0zM381.1 655.8h3.0v3.0h-3.0zM360.7 686.7h3.0v3.0h-3.0zM393.9 569.3h3.0v3.0h-3.0zM395.6 657.7h3.0v3.0h-3.0zM371.7 613.9h3.0v3.0h-3.0zM455.9 624.8h3.0v3.0h-3.0zM474.8 567.3h3.0v3.0h-3.0zM530.4 505.9h3.0v3.0h-3.0zM436.1 636.4h3.0v3.0h-3.0zM362.5 641.2h3.0v3.0h-3.0zM332.6 661.7h3.0v3.0h-3.0zM362.6 636.8h3.0v3.0h-3.0zM481.6 568.1h3.0v3.0h-3.0zM446.1 631.0h3.0v3.0h-3.0zM382.9 624.6h3.0v3.0h-3.0zM352.2 605.6h3.0v3.0h-3.0zM475.1 567.4h3.0v3.0h-3.0zM416.7 573.9h3.0v3.0h-3.0zM436.1 549.0h3.0v3.0h-3.0zM521.6 526.9h3.0v3.0h-3.0zM412.1 577.1h3.0v3.0h-3.0zM512.4 583.9h3.0v3.0h-3.0zM335.4 673.2h3.0v3.0h-3.0zM461.1 547.7h3.0v3.0h-3.0zM461.9 552.0h3.0v3.0h-3.0zM384.6 590.0h3.0v3.0h-3.0zM361.4 706.2h3.0v3.0h-3.0zM364.1 651.7h3.0v3.0h-3.0zM465.2 600.0h3.0v3.0h-3.0zM447.6 566.0h3.0v3.0h-3.0zM409.6 566.9h3.0v3.0h-3.0zM458.0 537.6h3.0v3.0h-3.0zM453.6 571.3h3.0v3.0h-3.0zM371.4 607.5h3.0v3.0h-3.0zM415.3 665.4h3.0v3.0h-3.0zM492.7 577.6h3.0v3.0h-3.0zM438.1 628.3h3.0v3.0h-3.0zM483.8 558.2h3.0v3.0h-3.0zM428.1 610.6h3.0v3.0h-3.0zM413.0 609.8h3.0v3.0h-3.0zM387.4 666.1h3.0v3.0h-3.0zM510.4 582.2h3.0v3.0h-3.0zM491.8 538.3h3.0v3.0h-3.0zM362.6 605.5h3.0v3.0h-3.0zM485.6 610.1h3.0v3.0h-3.0zM392.8 612.8h3.0v3.0h-3.0zM501.5 575.8h3.0v3.0h-3.0zM499.8 578.7h3.0v3.0h-3.0zM463.7 570.9h3.0v3.0h-3.0zM398.5 580.8h3.0v3.0h-3.0zM379.4 599.8h3.0v3.0h-3.0zM397.3 646.4h3.0v3.0h-3.0zM435.3 580.0h3.0v3.0h-3.0zM349.4 654.6h3.0v3.0h-3.0zM449.1 600.3h3.0v3.0h-3.0zM433.7 549.0h3.0v3.0h-3.0zM443.9 527.0h3.0v3.0h-3.0zM414.4 570.6h3.0v3.0h-3.0zM526.2 543.2h3.0v3.0h-3.0zM382.7 648.3h3.0v3.0h-3.0zM501.2 584.2h3.0v3.0h-3.0zM387.1 553.5h3.0v3.0h-3.0zM468.2 548.4h3.0v3.0h-3.0zM427.1 574.7h3.0v3.0h-3.0zM423.2 529.9h3.0v3.0h-3.0zM353.5 671.6h3.0v3.0h-3.0zM450.8 586.7h3.0v3.0h-3.0zM498.0 505.8h3.0v3.0h-3.0zM419.6 587.3h3.0v3.0h-3.0zM478.7 578.4h3.0v3.0h-3.0zM492.8 556.0h3.0v3.0h-3.0zM411.4 620.1h3.0v3.0h-3.0zM459.5 595.1h3.0v3.0h-3.0zM414.9 544.2h3.0v3.0h-3.0zM399.6 619.3h3.0v3.0h-3.0zM527.8 534.4h3.0v3.0h-3.0zM341.9 677.6h3.0v3.0h-3.0zM485.0 595.8h3.0v3.0h-3.0zM508.5 551.8h3.0v3.0h-3.0zM344.3 637.6h3.0v3.0h-3.0zM375.2 675.3h3.0v3.0h-3.0zM378.1 592.2h3.0v3.0h-3.0zM356.9 637.4h3.0v3.0h-3.0zM393.5 657.4h3.0v3.0h-3.0zM460.6 576.9h3.0v3.0h-3.0zM407.3 627.5h3.0v3.0h-3.0zM418.5 608.5h3.0v3.0h-3.0zM428.2 617.8h3.0v3.0h-3.0zM472.9 567.8h3.0v3.0h-3.0zM387.2 694.0h3.0v3.0h-3.0zM476.5 586.3h3.0v3.0h-3.0zM469.3 602.8h3.0v3.0h-3.0zM490.0 560.7h3.0v3.0h-3.0zM433.5 609.0h3.0v3.0h-3.0zM389.7 618.2h3.0v3.0h-3.0zM434.2 623.5h3.0v3.0h-3.0zM344.3 643.6h3.0v3.0h-3.0zM344.5 667.8h3.0v3.0h-3.0zM406.6 677.4h3.0v3.0h-3.0zM383.2 635.6h3.0v3.0h-3.0zM346.6 674.7h3.0v3.0h-3.0zM466.9 612.8h3.0v3.0h-3.0zM479.2 578.5h3.0v3.0h-3.0zM383.2 597.3h3.0v3.0h-3.0zM428.9 583.7h3.0v3.0h-3.0zM494.3 541.5h3.0v3.0h-3.0zM335.8 623.9h3.0v3.0h-3.0zM428.7 602.2h3.0v3.0h-3.0zM441.9 603.2h3.0v3.0h-3.0zM400.2 604.2h3.0v3.0h-3.0zM479.9 621.7h3.0v3.0h-3.0zM439.5 526.2h3.0v3.0h-3.0zM342.1 674.0h3.0v3.0h-3.0zM419.5 560.8h3.0v3.0h-3.0zM437.7 646.2h3.0v3.0h-3.0zM438.9 536.4h3.0v3.0h-3.0zM371.8 622.8h3.0v3.0h-3.0zM490.8 539.3h3.0v3.0h-3.0zM460.8 571.8h3.0v3.0h-3.0zM386.7 551.8h3.0v3.0h-3.0zM541.6 508.7h3.0v3.0h-3.0zM363.7 591.0h3.0v3.0h-3.0zM490.7 557.1h3.0v3.0h-3.0zM343.5 662.7h3.0v3.0h-3.0zM411.7 681.6h3.0v3.0h-3.0zM406.1 632.2h3.0v3.0h-3.0zM409.8 640.0h3.0v3.0h-3.0zM408.9 607.3h3.0v3.0h-3.0zM424.6 621.0h3.0v3.0h-3.0zM455.2 554.1h3.0v3.0h-3.0zM402.6 630.5h3.0v3.0h-3.0zM397.2 550.3h3.0v3.0h-3.0zM480.6 593.7h3.0v3.0h-3.0zM368.3 633.1h3.0v3.0h-3.0zM466.9 595.0h3.0v3.0h-3.0zM409.7 565.7h3.0v3.0h-3.0zM369.8 586.4h3.0v3.0h-3.0zM375.7 586.7h3.0v3.0h-3.0zM426.3 572.2h3.0v3.0h-3.0zM413.8 542.8h3.0v3.0h-3.0zM443.7 592.1h3.0v3.0h-3.0zM425.0 624.7h3.0v3.0h-3.0zM392.3 655.6h3.0v3.0h-3.0zM425.5 631.7h3.0v3.0h-3.0zM491.2 565.0h3.0v3.0h-3.0zM503.9 530.0h3.0v3.0h-3.0zM443.7 535.4h3.0v3.0h-3.0zM405.0 621.1h3.0v3.0h-3.0zM398.7 566.2h3.0v3.0h-3.0zM490.7 559.1h3.0v3.0h-3.0zM452.7 614.0h3.0v3.0h-3.0zM372.0 665.2h3.0v3.0h-3.0zM446.6 591.7h3.0v3.0h-3.0zM391.2 590.9h3.0v3.0h-3.0zM511.9 556.0h3.0v3.0h-3.0zM420.4 552.4h3.0v3.0h-3.0zM382.4 660.1h3.0v3.0h-3.0zM378.8 594.2h3.0v3.0h-3.0zM421.0 576.5h3.0v3.0h-3.0zM391.1 625.8h3.0v3.0h-3.0zM463.2 548.0h3.0v3.0h-3.0zM405.9 663.0h3.0v3.0h-3.0zM372.6 637.6h3.0v3.0h-3.0zM465.5 552.7h3.0v3.0h-3.0zM464.9 524.6h3.0v3.0h-3.0zM409.2 668.5h3.0v3.0h-3.0zM514.4 553.8h3.0v3.0h-3.0zM367.1 671.7h3.0v3.0h-3.0zM449.7 543.3h3.0v3.0h-3.0zM450.0 549.0h3.0v3.0h-3.0zM408.2 628.3h3.0v3.0h-3.0zM521.0 506.7h3.0v3.0h-3.0zM401.8 645.7h3.0v3.0h-3.0zM470.1 554.7h3.0v3.0h-3.0zM333.3 633.2h3.0v3.0h-3.0zM371.8 620.0h3.0v3.0h-3.0zM387.0 595.4h3.0v3.0h-3.0zM365.9 652.1h3.0v3.0h-3.0zM412.2 624.1h3.0v3.0h-3.0zM391.1 656.2h3.0v3.0h-3.0zM452.1 536.2h3.0v3.0h-3.0zM347.2 660.7h3.0v3.0h-3.0zM469.0 574.8h3.0v3.0h-3.0zM421.7 545.9h3.0v3.0h-3.0zM511.8 525.8h3.0v3.0h-3.0zM368.1 613.0h3.0v3.0h-3.0zM490.9 550.8h3.0v3.0h-3.0zM458.5 559.0h3.0v3.0h-3.0zM408.0 664.2h3.0v3.0h-3.0zM365.0 644.7h3.0v3.0h-3.0zM436.9 562.5h3.0v3.0h-3.0zM417.4 592.7h3.0v3.0h-3.0zM394.5 648.4h3.0v3.0h-3.0zM344.1 609.1h3.0v3.0h-3.0zM426.4 612.7h3.0v3.0h-3.0zM355.1 682.6h3.0v3.0h-3.0zM394.6 601.4h3.0v3.0h-3.0zM426.7 587.2h3.0v3.0h-3.0zM443.7 620.8h3.0v3.0h-3.0zM420.7 540.0h3.0v3.0h-3.0zM527.5 525.0h3.0v3.0h-3.0zM444.0 611.8h3.0v3.0h-3.0zM368.5 665.0h3.0v3.0h-3.0zM456.0 554.8h3.0v3.0h-3.0zM370.4 604.6h3.0v3.0h-3.0zM383.9 610.2h3.0v3.0h-3.0zM414.9 580.8h3.0v3.0h-3.0zM386.7 620.4h3.0v3.0h-3.0zM444.6 538.3h3.0v3.0h-3.0zM465.5 521.4h3.0v3.0h-3.0zM337.9 690.9h3.0v3.0h-3.0zM504.6 532.0h3.0v3.0h-3.0zM386.0 579.6h3.0v3.0h-3.0zM483.5 533.5h3.0v3.0h-3.0zM421.9 603.2h3.0v3.0h-3.0zM399.0 641.9h3.0v3.0h-3.0zM363.8 591.0h3.0v3.0h-3.0zM414.7 530.7h3.0v3.0h-3.0zM418.5 549.2h3.0v3.0h-3.0zM449.2 641.4h3.0v3.0h-3.0zM408.0 618.1h3.0v3.0h-3.0zM437.7 644.6h3.0v3.0h-3.0zM456.5 631.2h3.0v3.0h-3.0zM469.8 578.2h3.0v3.0h-3.0zM385.4 654.3h3.0v3.0h-3.0zM503.7 555.5h3.0v3.0h-3.0zM377.6 638.6h3.0v3.0h-3.0zM500.4 574.8h3.0v3.0h-3.0zM394.4 627.7h3.0v3.0h-3.0zM380.6 578.8h3.0v3.0h-3.0zM484.2 587.7h3.0v3.0h-3.0zM421.2 592.6h3.0v3.0h-3.0zM451.7 602.2h3.0v3.0h-3.0zM409.4 568.4h3.0v3.0h-3.0zM487.0 584.6h3.0v3.0h-3.0zM447.3 609.7h3.0v3.0h-3.0zM490.8 549.5h3.0v3.0h-3.0zM375.1 576.5h3.0v3.0h-3.0zM468.8 519.8h3.0v3.0h-3.0zM411.4 581.4h3.0v3.0h-3.0zM338.0 631.0h3.0v3.0h-3.0zM479.1 567.7h3.0v3.0h-3.0zM364.9 636.7h3.0v3.0h-3.0zM530.5 517.5h3.0v3.0h-3.0zM373.5 599.5h3.0v3.0h-3.0zM431.0 559.8h3.0v3.0h-3.0zM393.3 613.4h3.0v3.0h-3.0zM434.1 563.7h3.0v3.0h-3.0zM477.4 572.6h3.0v3.0h-3.0zM411.4 571.2h3.0v3.0h-3.0zM444.2 573.0h3.0v3.0h-3.0zM346.9 604.3h3.0v3.0h-3.0zM471.2 546.5h3.0v3.0h-3.0zM394.8 576.3h3.0v3.0h-3.0zM457.0 558.3h3.0v3.0h-3.0zM400.1 655.5h3.0v3.0h-3.0zM497.3 565.7h3.0v3.0h-3.0zM534.7 514.5h3.0v3.0h-3.0zM335.0 634.1h3.0v3.0h-3.0zM441.0 565.5h3.0v3.0h-3.0zM406.8 614.3h3.0v3.0h-3.0zM404.1 594.0h3.0v3.0h-3.0zM441.0 521.4h3.0v3.0h-3.0zM409.4 578.7h3.0v3.0h-3.0zM376.5 587.2h3.0v3.0h-3.0zM373.1 671.9h3.0v3.0h-3.0zM447.0 553.0h3.0v3.0h-3.0zM350.5 630.1h3.0v3.0h-3.0zM488.4 585.2h3.0v3.0h-3.0zM389.5 555.0h3.0v3.0h-3.0zM453.8 590.2h3.0v3.0h-3.0zM479.4 543.2h3.0v3.0h-3.0zM443.0 645.3h3.0v3.0h-3.0zM412.2 639.6h3.0v3.0h-3.0zM408.1 589.0h3.0v3.0h-3.0zM514.6 523.1h3.0v3.0h-3.0zM444.8 564.9h3.0v3.0h-3.0zM464.7 605.1h3.0v3.0h-3.0zM458.5 585.4h3.0v3.0h-3.0zM402.8 668.9h3.0v3.0h-3.0zM494.4 596.2h3.0v3.0h-3.0zM410.7 598.2h3.0v3.0h-3.0zM438.5 562.8h3.0v3.0h-3.0zM462.7 569.3h3.0v3.0h-3.0zM396.6 576.9h3.0v3.0h-3.0zM555.5 510.3h3.0v3.0h-3.0zM469.2 567.4h3.0v3.0h-3.0zM383.9 696.7h3.0v3.0h-3.0zM413.3 663.4h3.0v3.0h-3.0zM384.9 645.4h3.0v3.0h-3.0zM493.9 585.3h3.0v3.0h-3.0zM482.5 594.3h3.0v3.0h-3.0zM403.2 644.8h3.0v3.0h-3.0zM495.1 546.8h3.0v3.0h-3.0zM500.0 572.1h3.0v3.0h-3.0zM475.2 578.2h3.0v3.0h-3.0zM495.0 591.4h3.0v3.0h-3.0zM493.3 601.4h3.0v3.0h-3.0zM495.8 531.2h3.0v3.0h-3.0zM447.5 573.7h3.0v3.0h-3.0zM439.4 583.5h3.0v3.0h-3.0zM482.9 595.1h3.0v3.0h-3.0zM478.4 592.4h3.0v3.0h-3.0zM341.3 698.8h3.0v3.0h-3.0zM496.0 517.0h3.0v3.0h-3.0zM382.5 692.3h3.0v3.0h-3.0zM397.0 657.1h3.0v3.0h-3.0zM435.8 594.4h3.0v3.0h-3.0zM454.4 628.7h3.0v3.0h-3.0zM381.2 686.3h3.0v3.0h-3.0zM380.9 608.2h3.0v3.0h-3.0zM354.9 603.2h3.0v3.0h-3.0zM470.5 516.2h3.0v3.0h-3.0zM494.7 574.3h3.0v3.0h-3.0zM399.2 567.9h3.0v3.0h-3.0zM390.1 642.5h3.0v3.0h-3.0zM386.7 599.4h3.0v3.0h-3.0zM376.3 661.5h3.0v3.0h-3.0zM429.0 597.5h3.0v3.0h-3.0zM484.3 562.2h3.0v3.0h-3.0zM404.0 604.7h3.0v3.0h-3.0zM412.0 544.8h3.0v3.0h-3.0zM361.8 584.5h3.0v3.0h-3.0zM392.7 554.1h3.0v3.0h-3.0zM383.5 638.3h3.0v3.0h-3.0zM415.2 652.3h3.0v3.0h-3.0zM408.5 553.0h3.0v3.0h-3.0zM441.8 598.3h3.0v3.0h-3.0zM469.4 612.2h3.0v3.0h-3.0zM483.3 556.3h3.0v3.0h-3.0zM446.9 551.3h3.0v3.0h-3.0zM337.5 630.7h3.0v3.0h-3.0zM483.0 588.8h3.0v3.0h-3.0zM397.1 568.4h3.0v3.0h-3.0zM390.4 551.7h3.0v3.0h-3.0zM480.8 581.2h3.0v3.0h-3.0zM425.7 542.3h3.0v3.0h-3.0zM463.7 619.0h3.0v3.0h-3.0zM497.2 566.7h3.0v3.0h-3.0zM350.4 673.1h3.0v3.0h-3.0zM344.8 685.1h3.0v3.0h-3.0zM436.8 538.5h3.0v3.0h-3.0zM355.3 652.3h3.0v3.0h-3.0zM390.3 583.0h3.0v3.0h-3.0zM477.9 609.2h3.0v3.0h-3.0zM507.7 596.7h3.0v3.0h-3.0zM440.0 538.8h3.0v3.0h-3.0zM398.7 569.5h3.0v3.0h-3.0zM402.7 634.8h3.0v3.0h-3.0zM415.2 631.9h3.0v3.0h-3.0zM495.6 600.1h3.0v3.0h-3.0zM418.6 586.3h3.0v3.0h-3.0zM385.5 595.0h3.0v3.0h-3.0zM477.1 616.0h3.0v3.0h-3.0zM497.7 542.8h3.0v3.0h-3.0zM459.8 626.3h3.0v3.0h-3.0zM439.8 638.1h3.0v3.0h-3.0zM463.6 536.1h3.0v3.0h-3.0zM415.7 634.5h3.0v3.0h-3.0zM359.7 664.0h3.0v3.0h-3.0zM438.9 517.4h3.0v3.0h-3.0zM439.8 533.4h3.0v3.0h-3.0zM450.7 524.9h3.0v3.0h-3.0zM433.1 653.6h3.0v3.0h-3.0zM337.9 687.1h3.0v3.0h-3.0zM488.0 515.9h3.0v3.0h-3.0zM419.0 524.2h3.0v3.0h-3.0zM513.4 588.5h3.0v3.0h-3.0zM450.3 578.9h3.0v3.0h-3.0zM355.7 675.7h3.0v3.0h-3.0zM465.4 530.7h3.0v3.0h-3.0zM496.9 588.9h3.0v3.0h-3.0zM352.4 653.6h3.0v3.0h-3.0zM447.1 541.0h3.0v3.0h-3.0zM433.0 597.7h3.0v3.0h-3.0zM493.3 570.3h3.0v3.0h-3.0zM425.9 620.9h3.0v3.0h-3.0zM431.4 644.2h3.0v3.0h-3.0zM414.9 627.4h3.0v3.0h-3.0zM407.9 547.8h3.0v3.0h-3.0zM424.4 539.3h3.0v3.0h-3.0zM436.0 600.5h3.0v3.0h-3.0zM404.1 601.8h3.0v3.0h-3.0zM476.1 615.9h3.0v3.0h-3.0zM404.9 584.7h3.0v3.0h-3.0zM365.7 613.0h3.0v3.0h-3.0zM381.5 655.9h3.0v3.0h-3.0zM406.4 626.0h3.0v3.0h-3.0zM517.8 590.0h3.0v3.0h-3.0zM405.9 559.9h3.0v3.0h-3.0zM407.9 659.0h3.0v3.0h-3.0zM371.5 624.8h3.0v3.0h-3.0zM390.6 597.1h3.0v3.0h-3.0zM486.1 583.1h3.0v3.0h-3.0zM431.7 657.8h3.0v3.0h-3.0zM448.9 579.7h3.0v3.0h-3.0zM374.0 607.5h3.0v3.0h-3.0zM365.2 616.6h3.0v3.0h-3.0zM399.9 570.1h3.0v3.0h-3.0zM429.6 566.9h3.0v3.0h-3.0zM368.3 619.0h3.0v3.0h-3.0zM468.3 592.1h3.0v3.0h-3.0zM378.2 590.2h3.0v3.0h-3.0zM425.9 560.8h3.0v3.0h-3.0zM348.1 686.1h3.0v3.0h-3.0zM517.1 538.0h3.0v3.0h-3.0zM337.8 620.5h3.0v3.0h-3.0zM420.5 532.7h3.0v3.0h-3.0zM354.5 637.5h3.0v3.0h-3.0zM384.5 609.8h3.0v3.0h-3.0zM339.7 666.2h3.0v3.0h-3.0zM415.6 588.3h3.0v3.0h-3.0zM389.8 652.6h3.0v3.0h-3.0zM486.7 562.5h3.0v3.0h-3.0zM367.8 596.2h3.0v3.0h-3.0zM400.9 570.4h3.0v3.0h-3.0zM439.6 559.7h3.0v3.0h-3.0zM436.9 570.6h3.0v3.0h-3.0zM445.3 572.7h3.0v3.0h-3.0zM516.0 580.8h3.0v3.0h-3.0zM373.5 615.0h3.0v3.0h-3.0zM485.2 541.2h3.0v3.0h-3.0zM389.0 660.9h3.0v3.0h-3.0zM414.8 606.9h3.0v3.0h-3.0zM506.4 593.6h3.0v3.0h-3.0zM405.7 620.6h3.0v3.0h-3.0zM438.3 599.1h3.0v3.0h-3.0zM411.3 557.9h3.0v3.0h-3.0zM441.6 578.3h3.0v3.0h-3.0zM394.5 664.5h3.0v3.0h-3.0zM501.1 564.5h3.0v3.0h-3.0zM353.3 700.6h3.0v3.0h-3.0zM488.7 512.5h3.0v3.0h-3.0zM440.7 648.2h3.0v3.0h-3.0zM490.9 532.4h3.0v3.0h-3.0zM542.6 503.1h3.0v3.0h-3.0zM429.8 616.0h3.0v3.0h-3.0zM474.4 514.5h3.0v3.0h-3.0zM505.8 523.3h3.0v3.0h-3.0zM450.7 649.3h3.0v3.0h-3.0zM401.8 589.0h3.0v3.0h-3.0zM439.7 578.3h3.0v3.0h-3.0zM506.8 528.0h3.0v3.0h-3.0zM347.2 693.1h3.0v3.0h-3.0zM336.4 631.5h3.0v3.0h-3.0zM390.3 609.5h3.0v3.0h-3.0zM483.6 623.4h3.0v3.0h-3.0zM519.7 578.6h3.0v3.0h-3.0zM361.2 616.4h3.0v3.0h-3.0zM373.8 662.6h3.0v3.0h-3.0zM488.3 528.1h3.0v3.0h-3.0zM453.0 645.0h3.0v3.0h-3.0zM491.5 570.2h3.0v3.0h-3.0zM435.8 592.5h3.0v3.0h-3.0zM339.0 694.0h3.0v3.0h-3.0zM415.9 636.3h3.0v3.0h-3.0zM345.1 670.2h3.0v3.0h-3.0zM377.3 575.1h3.0v3.0h-3.0zM368.0 618.2h3.0v3.0h-3.0zM523.4 523.6h3.0v3.0h-3.0zM341.9 615.5h3.0v3.0h-3.0zM444.6 529.9h3.0v3.0h-3.0zM462.5 589.7h3.0v3.0h-3.0zM450.0 556.7h3.0v3.0h-3.0zM417.8 558.9h3.0v3.0h-3.0zM352.3 629.7h3.0v3.0h-3.0zM351.5 674.5h3.0v3.0h-3.0zM431.2 628.7h3.0v3.0h-3.0zM511.8 530.9h3.0v3.0h-3.0zM418.9 642.8h3.0v3.0h-3.0zM504.9 592.6h3.0v3.0h-3.0zM454.2 604.7h3.0v3.0h-3.0zM534.6 512.8h3.0v3.0h-3.0zM464.8 592.2h3.0v3.0h-3.0zM414.0 616.1h3.0v3.0h-3.0zM366.7 587.9h3.0v3.0h-3.0zM332.9 676.5h3.0v3.0h-3.0zM363.2 661.6h3.0v3.0h-3.0zM334.2 679.7h3.0v3.0h-3.0zM361.9 644.2h3.0v3.0h-3.0zM474.1 574.0h3.0v3.0h-3.0zM387.1 581.7h3.0v3.0h-3.0zM499.8 562.3h3.0v3.0h-3.0zM333.5 675.5h3.0v3.0h-3.0zM391.2 640.2h3.0v3.0h-3.0zM462.3 581.6h3.0v3.0h-3.0zM472.7 564.1h3.0v3.0h-3.0zM379.6 577.9h3.0v3.0h-3.0zM476.7 583.1h3.0v3.0h-3.0zM496.0 567.2h3.0v3.0h-3.0zM498.3 532.2h3.0v3.0h-3.0zM390.5 634.4h3.0v3.0h-3.0zM384.4 629.8h3.0v3.0h-3.0zM445.0 610.8h3.0v3.0h-3.0zM403.7 665.7h3.0v3.0h-3.0zM466.5 605.0h3.0v3.0h-3.0zM461.1 650.9h3.0v3.0h-3.0zM446.4 602.5h3.0v3.0h-3.0zM349.6 704.7h3.0v3.0h-3.0zM337.0 622.1h3.0v3.0h-3.0zM441.9 633.5h3.0v3.0h-3.0zM515.1 516.3h3.0v3.0h-3.0zM444.6 570.4h3.0v3.0h-3.0zM413.0 545.5h3.0v3.0h-3.0zM425.8 582.4h3.0v3.0h-3.0zM445.2 544.1h3.0v3.0h-3.0zM408.7 610.5h3.0v3.0h-3.0zM352.1 620.4h3.0v3.0h-3.0zM466.2 615.8h3.0v3.0h-3.0zM459.5 591.8h3.0v3.0h-3.0zM402.8 595.2h3.0v3.0h-3.0zM394.6 613.0h3.0v3.0h-3.0zM378.2 637.2h3.0v3.0h-3.0zM465.8 516.5h3.0v3.0h-3.0zM357.0 618.3h3.0v3.0h-3.0zM433.4 533.6h3.0v3.0h-3.0zM330.5 672.2h3.0v3.0h-3.0zM511.2 584.8h3.0v3.0h-3.0zM382.9 572.1h3.0v3.0h-3.0zM383.2 626.8h3.0v3.0h-3.0zM389.3 647.3h3.0v3.0h-3.0zM465.3 599.0h3.0v3.0h-3.0zM440.0 600.6h3.0v3.0h-3.0zM422.7 588.5h3.0v3.0h-3.0zM417.7 531.6h3.0v3.0h-3.0zM520.9 529.2h3.0v3.0h-3.0zM433.5 612.5h3.0v3.0h-3.0zM344.8 668.9h3.0v3.0h-3.0zM447.6 597.9h3.0v3.0h-3.0zM467.8 604.0h3.0v3.0h-3.0zM397.3 620.7h3.0v3.0h-3.0zM487.5 536.5h3.0v3.0h-3.0zM451.2 522.1h3.0v3.0h-3.0zM383.0 627.4h3.0v3.0h-3.0zM393.5 655.5h3.0v3.0h-3.0zM399.4 633.8h3.0v3.0h-3.0zM413.3 574.7h3.0v3.0h-3.0zM458.4 567.9h3.0v3.0h-3.0zM446.6 567.7h3.0v3.0h-3.0zM462.8 647.4h3.0v3.0h-3.0zM402.3 684.4h3.0v3.0h-3.0zM397.0 651.9h3.0v3.0h-3.0zM449.7 607.5h3.0v3.0h-3.0zM409.3 607.2h3.0v3.0h-3.0zM479.7 618.9h3.0v3.0h-3.0zM432.0 597.8h3.0v3.0h-3.0zM333.4 627.0h3.0v3.0h-3.0zM404.5 659.3h3.0v3.0h-3.0zM408.0 660.1h3.0v3.0h-3.0zM511.9 593.8h3.0v3.0h-3.0zM422.4 610.3h3.0v3.0h-3.0zM510.3 522.5h3.0v3.0h-3.0zM450.0 594.6h3.0v3.0h-3.0zM488.7 579.0h3.0v3.0h-3.0zM431.6 632.2h3.0v3.0h-3.0zM458.6 525.6h3.0v3.0h-3.0zM471.9 573.8h3.0v3.0h-3.0zM459.9 592.0h3.0v3.0h-3.0zM389.0 695.7h3.0v3.0h-3.0zM385.5 648.8h3.0v3.0h-3.0zM433.6 561.0h3.0v3.0h-3.0zM452.9 521.5h3.0v3.0h-3.0zM470.4 582.4h3.0v3.0h-3.0zM425.3 614.9h3.0v3.0h-3.0zM428.4 583.5h3.0v3.0h-3.0zM504.7 593.6h3.0v3.0h-3.0zM388.7 624.3h3.0v3.0h-3.0zM331.7 678.0h3.0v3.0h-3.0zM440.3 624.8h3.0v3.0h-3.0zM482.0 587.1h3.0v3.0h-3.0zM464.9 597.2h3.0v3.0h-3.0zM434.1 555.5h3.0v3.0h-3.0zM468.0 608.0h3.0v3.0h-3.0zM457.9 588.0h3.0v3.0h-3.0zM378.2 588.3h3.0v3.0h-3.0zM438.9 619.9h3.0v3.0h-3.0zM510.3 563.9h3.0v3.0h-3.0zM428.0 634.6h3.0v3.0h-3.0zM403.7 624.7h3.0v3.0h-3.0zM498.6 576.0h3.0v3.0h-3.0zM384.0 587.1h3.0v3.0h-3.0zM412.9 630.0h3.0v3.0h-3.0zM335.6 677.5h3.0v3.0h-3.0zM480.9 525.8h3.0v3.0h-3.0zM443.7 631.1h3.0v3.0h-3.0zM456.7 565.6h3.0v3.0h-3.0zM466.7 579.2h3.0v3.0h-3.0zM399.2 551.8h3.0v3.0h-3.0zM402.6 603.9h3.0v3.0h-3.0zM348.6 603.0h3.0v3.0h-3.0zM476.5 527.0h3.0v3.0h-3.0zM436.6 601.7h3.0v3.0h-3.0zM501.7 588.6h3.0v3.0h-3.0zM387.7 645.7h3.0v3.0h-3.0zM433.0 539.1h3.0v3.0h-3.0zM392.1 671.6h3.0v3.0h-3.0zM434.7 584.1h3.0v3.0h-3.0zM396.6 630.9h3.0v3.0h-3.0zM409.0 560.8h3.0v3.0h-3.0zM476.5 538.2h3.0v3.0h-3.0zM455.4 586.4h3.0v3.0h-3.0zM363.7 706.4h3.0v3.0h-3.0zM435.2 631.8h3.0v3.0h-3.0zM367.8 645.9h3.0v3.0h-3.0zM507.0 605.0h3.0v3.0h-3.0zM471.3 566.1h3.0v3.0h-3.0zM472.2 589.5h3.0v3.0h-3.0zM492.8 583.9h3.0v3.0h-3.0zM390.8 623.8h3.0v3.0h-3.0zM471.4 621.7h3.0v3.0h-3.0zM453.3 652.5h3.0v3.0h-3.0zM388.8 611.6h3.0v3.0h-3.0zM415.4 558.6h3.0v3.0h-3.0zM442.6 622.7h3.0v3.0h-3.0zM456.5 527.7h3.0v3.0h-3.0zM395.0 596.4h3.0v3.0h-3.0zM371.5 579.9h3.0v3.0h-3.0zM392.5 650.5h3.0v3.0h-3.0zM395.8 571.2h3.0v3.0h-3.0zM501.1 559.4h3.0v3.0h-3.0zM447.9 578.4h3.0v3.0h-3.0zM405.2 569.2h3.0v3.0h-3.0zM378.2 680.0h3.0v3.0h-3.0zM356.7 661.4h3.0v3.0h-3.0zM460.9 570.0h3.0v3.0h-3.0zM505.4 598.9h3.0v3.0h-3.0zM473.6 562.0h3.0v3.0h-3.0zM430.0 600.5h3.0v3.0h-3.0zM386.0 595.9h3.0v3.0h-3.0zM524.5 539.5h3.0v3.0h-3.0zM465.0 618.1h3.0v3.0h-3.0zM358.0 609.1h3.0v3.0h-3.0zM339.6 663.7h3.0v3.0h-3.0zM439.7 536.9h3.0v3.0h-3.0zM404.3 661.0h3.0v3.0h-3.0zM524.5 581.0h3.0v3.0h-3.0zM452.9 564.7h3.0v3.0h-3.0zM348.6 636.7h3.0v3.0h-3.0zM386.5 588.9h3.0v3.0h-3.0zM357.6 617.4h3.0v3.0h-3.0zM426.8 561.1h3.0v3.0h-3.0zM505.4 535.0h3.0v3.0h-3.0zM393.8 556.1h3.0v3.0h-3.0zM395.6 557.7h3.0v3.0h-3.0zM432.0 608.1h3.0v3.0h-3.0zM445.4 600.1h3.0v3.0h-3.0zM394.8 628.3h3.0v3.0h-3.0zM422.0 573.9h3.0v3.0h-3.0zM458.4 581.4h3.0v3.0h-3.0zM515.5 575.4h3.0v3.0h-3.0zM430.7 610.8h3.0v3.0h-3.0zM455.6 588.4h3.0v3.0h-3.0zM456.2 610.2h3.0v3.0h-3.0zM417.1 664.5h3.0v3.0h-3.0zM412.8 585.6h3.0v3.0h-3.0zM432.3 602.8h3.0v3.0h-3.0zM454.5 549.3h3.0v3.0h-3.0zM519.1 583.0h3.0v3.0h-3.0zM525.1 518.1h3.0v3.0h-3.0zM415.6 603.9h3.0v3.0h-3.0zM405.4 595.1h3.0v3.0h-3.0zM357.0 596.0h3.0v3.0h-3.0zM409.5 622.3h3.0v3.0h-3.0zM399.9 638.5h3.0v3.0h-3.0zM334.0 613.8h3.0v3.0h-3.0zM537.3 513.3h3.0v3.0h-3.0zM464.5 538.6h3.0v3.0h-3.0zM397.9 607.1h3.0v3.0h-3.0zM343.6 602.3h3.0v3.0h-3.0zM378.0 612.4h3.0v3.0h-3.0zM354.0 626.1h3.0v3.0h-3.0zM471.3 553.9h3.0v3.0h-3.0zM442.1 599.9h3.0v3.0h-3.0zM419.8 634.5h3.0v3.0h-3.0zM498.6 590.9h3.0v3.0h-3.0zM426.4 571.1h3.0v3.0h-3.0zM425.3 559.5h3.0v3.0h-3.0zM335.3 613.8h3.0v3.0h-3.0zM426.0 557.4h3.0v3.0h-3.0zM507.8 528.5h3.0v3.0h-3.0zM374.9 642.5h3.0v3.0h-3.0zM341.5 625.6h3.0v3.0h-3.0zM420.0 536.9h3.0v3.0h-3.0zM372.3 616.9h3.0v3.0h-3.0zM388.4 569.1h3.0v3.0h-3.0zM418.5 590.1h3.0v3.0h-3.0zM394.1 662.4h3.0v3.0h-3.0zM419.8 606.0h3.0v3.0h-3.0zM464.0 617.2h3.0v3.0h-3.0zM464.2 584.8h3.0v3.0h-3.0zM432.8 544.9h3.0v3.0h-3.0zM489.0 552.6h3.0v3.0h-3.0zM430.3 566.7h3.0v3.0h-3.0zM515.0 587.4h3.0v3.0h-3.0zM496.2 504.9h3.0v3.0h-3.0zM353.8 641.5h3.0v3.0h-3.0zM466.8 578.7h3.0v3.0h-3.0zM472.0 584.8h3.0v3.0h-3.0zM481.3 600.5h3.0v3.0h-3.0zM441.2 610.8h3.0v3.0h-3.0zM428.4 622.2h3.0v3.0h-3.0zM437.7 622.4h3.0v3.0h-3.0zM384.9 602.8h3.0v3.0h-3.0zM457.9 593.0h3.0v3.0h-3.0zM423.6 583.3h3.0v3.0h-3.0zM393.9 620.5h3.0v3.0h-3.0zM438.2 542.0h3.0v3.0h-3.0zM473.0 525.2h3.0v3.0h-3.0zM345.9 669.4h3.0v3.0h-3.0zM494.0 592.8h3.0v3.0h-3.0zM411.6 631.2h3.0v3.0h-3.0zM496.1 507.4h3.0v3.0h-3.0zM437.2 617.3h3.0v3.0h-3.0zM476.2 591.6h3.0v3.0h-3.0zM410.3 632.7h3.0v3.0h-3.0zM366.8 670.8h3.0v3.0h-3.0zM377.5 588.5h3.0v3.0h-3.0zM393.6 628.7h3.0v3.0h-3.0zM375.8 639.5h3.0v3.0h-3.0zM475.8 558.7h3.0v3.0h-3.0zM439.2 636.0h3.0v3.0h-3.0zM428.8 535.4h3.0v3.0h-3.0zM387.9 555.1h3.0v3.0h-3.0zM475.3 589.8h3.0v3.0h-3.0zM341.8 678.9h3.0v3.0h-3.0zM366.6 624.3h3.0v3.0h-3.0zM349.1 641.3h3.0v3.0h-3.0zM409.6 659.5h3.0v3.0h-3.0zM416.8 546.0h3.0v3.0h-3.0zM429.3 543.6h3.0v3.0h-3.0zM527.6 522.4h3.0v3.0h-3.0zM430.6 571.8h3.0v3.0h-3.0zM440.7 527.0h3.0v3.0h-3.0zM463.3 654.6h3.0v3.0h-3.0zM452.0 525.1h3.0v3.0h-3.0zM358.8 642.2h3.0v3.0h-3.0zM377.5 637.9h3.0v3.0h-3.0zM515.3 572.7h3.0v3.0h-3.0zM496.4 565.4h3.0v3.0h-3.0zM434.5 654.9h3.0v3.0h-3.0zM418.3 573.2h3.0v3.0h-3.0zM401.2 599.1h3.0v3.0h-3.0zM458.5 615.0h3.0v3.0h-3.0zM434.2 564.2h3.0v3.0h-3.0zM511.9 569.3h3.0v3.0h-3.0zM370.1 588.8h3.0v3.0h-3.0zM527.0 508.9h3.0v3.0h-3.0zM474.1 573.0h3.0v3.0h-3.0zM492.9 629.0h3.0v3.0h-3.0zM401.0 645.5h3.0v3.0h-3.0zM369.1 638.2h3.0v3.0h-3.0zM404.4 642.4h3.0v3.0h-3.0zM501.9 562.4h3.0v3.0h-3.0zM487.4 534.3h3.0v3.0h-3.0zM416.1 583.6h3.0v3.0h-3.0zM363.6 631.3h3.0v3.0h-3.0zM396.6 576.2h3.0v3.0h-3.0zM349.8 686.6h3.0v3.0h-3.0zM409.6 612.2h3.0v3.0h-3.0zM429.4 535.7h3.0v3.0h-3.0zM506.0 598.6h3.0v3.0h-3.0zM422.5 554.9h3.0v3.0h-3.0zM439.0 614.6h3.0v3.0h-3.0zM523.6 583.2h3.0v3.0h-3.0zM428.6 615.8h3.0v3.0h-3.0zM518.8 562.9h3.0v3.0h-3.0zM490.8 564.5h3.0v3.0h-3.0zM396.7 597.7h3.0v3.0h-3.0zM450.2 639.7h3.0v3.0h-3.0zM430.8 574.9h3.0v3.0h-3.0zM378.0 680.1h3.0v3.0h-3.0zM415.9 568.5h3.0v3.0h-3.0zM402.1 653.6h3.0v3.0h-3.0zM450.8 626.6h3.0v3.0h-3.0zM355.0 618.3h3.0v3.0h-3.0zM444.3 594.1h3.0v3.0h-3.0zM460.3 626.1h3.0v3.0h-3.0zM455.5 589.6h3.0v3.0h-3.0zM333.1 614.3h3.0v3.0h-3.0zM436.8 564.8h3.0v3.0h-3.0zM458.4 619.4h3.0v3.0h-3.0zM414.9 621.7h3.0v3.0h-3.0zM429.1 659.4h3.0v3.0h-3.0zM410.6 616.9h3.0v3.0h-3.0zM470.1 619.0h3.0v3.0h-3.0zM490.9 529.3h3.0v3.0h-3.0zM494.0 575.3h3.0v3.0h-3.0zM356.4 706.1h3.0v3.0h-3.0zM456.0 589.8h3.0v3.0h-3.0zM556.4 523.8h3.0v3.0h-3.0zM393.0 636.2h3.0v3.0h-3.0zM411.0 613.7h3.0v3.0h-3.0zM501.1 530.5h3.0v3.0h-3.0zM420.3 616.4h3.0v3.0h-3.0zM354.1 676.8h3.0v3.0h-3.0zM351.0 650.1h3.0v3.0h-3.0zM477.7 572.7h3.0v3.0h-3.0zM408.3 619.1h3.0v3.0h-3.0zM448.1 623.1h3.0v3.0h-3.0zM360.2 636.5h3.0v3.0h-3.0zM492.8 518.1h3.0v3.0h-3.0zM492.6 515.9h3.0v3.0h-3.0zM487.3 531.3h3.0v3.0h-3.0zM498.8 514.8h3.0v3.0h-3.0zM540.4 507.8h3.0v3.0h-3.0zM530.1 520.3h3.0v3.0h-3.0zM381.2 576.0h3.0v3.0h-3.0zM486.1 514.8h3.0v3.0h-3.0zM454.6 553.2h3.0v3.0h-3.0zM486.2 513.0h3.0v3.0h-3.0zM433.7 535.9h3.0v3.0h-3.0zM437.0 542.9h3.0v3.0h-3.0zM397.2 573.1h3.0v3.0h-3.0zM468.6 544.0h3.0v3.0h-3.0zM424.5 539.7h3.0v3.0h-3.0zM456.8 537.5h3.0v3.0h-3.0zM538.2 502.5h3.0v3.0h-3.0zM505.5 533.2h3.0v3.0h-3.0zM433.3 551.3h3.0v3.0h-3.0zM497.0 517.3h3.0v3.0h-3.0zM450.4 555.0h3.0v3.0h-3.0zM524.9 522.5h3.0v3.0h-3.0zM506.8 562.5h3.0v3.0h-3.0zM496.1 528.0h3.0v3.0h-3.0zM490.6 529.3h3.0v3.0h-3.0zM482.9 532.3h3.0v3.0h-3.0zM406.0 549.1h3.0v3.0h-3.0zM506.6 528.4h3.0v3.0h-3.0zM532.7 514.2h3.0v3.0h-3.0zM475.0 527.2h3.0v3.0h-3.0zM410.7 551.4h3.0v3.0h-3.0zM443.7 539.2h3.0v3.0h-3.0zM505.3 527.3h3.0v3.0h-3.0zM483.4 515.7h3.0v3.0h-3.0zM459.6 531.3h3.0v3.0h-3.0zM474.2 536.1h3.0v3.0h-3.0zM445.1 567.4h3.0v3.0h-3.0zM448.3 544.3h3.0v3.0h-3.0zM466.1 529.8h3.0v3.0h-3.0zM485.4 521.8h3.0v3.0h-3.0zM438.0 532.9h3.0v3.0h-3.0zM495.5 519.2h3.0v3.0h-3.0zM467.7 519.3h3.0v3.0h-3.0zM416.4 545.1h3.0v3.0h-3.0zM490.5 529.7h3.0v3.0h-3.0zM436.2 539.8h3.0v3.0h-3.0zM512.0 522.7h3.0v3.0h-3.0zM433.0 558.4h3.0v3.0h-3.0zM493.1 553.1h3.0v3.0h-3.0zM495.9 526.6h3.0v3.0h-3.0zM510.1 522.9h3.0v3.0h-3.0zM467.8 512.7h3.0v3.0h-3.0zM561.0 537.7h3.0v3.0h-3.0zM512.3 538.1h3.0v3.0h-3.0zM531.9 502.0h3.0v3.0h-3.0zM489.9 532.5h3.0v3.0h-3.0zM491.4 528.6h3.0v3.0h-3.0zM429.4 561.6h3.0v3.0h-3.0zM506.3 516.4h3.0v3.0h-3.0zM462.9 559.3h3.0v3.0h-3.0zM514.4 522.8h3.0v3.0h-3.0zM386.9 556.8h3.0v3.0h-3.0zM432.6 533.9h3.0v3.0h-3.0zM515.1 527.2h3.0v3.0h-3.0zM378.4 576.9h3.0v3.0h-3.0zM463.2 546.4h3.0v3.0h-3.0zM450.4 570.6h3.0v3.0h-3.0zM440.2 552.9h3.0v3.0h-3.0zM528.1 511.7h3.0v3.0h-3.0zM506.5 530.5h3.0v3.0h-3.0zM495.2 514.1h3.0v3.0h-3.0zM528.5 527.5h3.0v3.0h-3.0zM442.0 578.0h3.0v3.0h-3.0zM487.2 554.1h3.0v3.0h-3.0zM508.8 529.6h3.0v3.0h-3.0zM520.1 530.8h3.0v3.0h-3.0zM504.2 533.4h3.0v3.0h-3.0zM475.1 527.9h3.0v3.0h-3.0zM534.9 503.3h3.0v3.0h-3.0zM467.6 538.6h3.0v3.0h-3.0zM497.1 550.1h3.0v3.0h-3.0zM467.9 535.1h3.0v3.0h-3.0zM511.4 532.9h3.0v3.0h-3.0zM502.7 511.9h3.0v3.0h-3.0zM493.9 536.1h3.0v3.0h-3.0zM554.2 505.4h3.0v3.0h-3.0zM516.6 509.1h3.0v3.0h-3.0zM519.8 528.7h3.0v3.0h-3.0zM447.4 535.9h3.0v3.0h-3.0zM469.2 550.5h3.0v3.0h-3.0zM515.6 523.6h3.0v3.0h-3.0zM404.0 557.0h3.0v3.0h-3.0zM408.8 554.8h3.0v3.0h-3.0zM505.4 536.4h3.0v3.0h-3.0zM449.9 556.5h3.0v3.0h-3.0zM480.3 527.3h3.0v3.0h-3.0zM542.9 506.6h3.0v3.0h-3.0zM436.6 543.6h3.0v3.0h-3.0zM473.7 547.2h3.0v3.0h-3.0zM523.2 505.5h3.0v3.0h-3.0zM448.5 552.6h3.0v3.0h-3.0zM480.9 548.6h3.0v3.0h-3.0zM489.6 524.3h3.0v3.0h-3.0zM525.3 527.0h3.0v3.0h-3.0zM474.0 521.2h3.0v3.0h-3.0zM518.4 513.0h3.0v3.0h-3.0zM475.3 508.9h3.0v3.0h-3.0zM497.0 537.2h3.0v3.0h-3.0zM493.5 529.2h3.0v3.0h-3.0zM465.0 536.1h3.0v3.0h-3.0zM397.8 560.9h3.0v3.0h-3.0zM468.5 520.2h3.0v3.0h-3.0zM418.6 573.1h3.0v3.0h-3.0zM537.3 503.0h3.0v3.0h-3.0zM431.9 530.4h3.0v3.0h-3.0zM479.0 545.9h3.0v3.0h-3.0zM467.1 539.8h3.0v3.0h-3.0zM497.2 514.0h3.0v3.0h-3.0zM560.4 512.9h3.0v3.0h-3.0zM524.7 515.9h3.0v3.0h-3.0zM501.9 530.4h3.0v3.0h-3.0zM496.8 548.9h3.0v3.0h-3.0zM520.1 530.3h3.0v3.0h-3.0zM475.5 521.7h3.0v3.0h-3.0zM476.8 526.3h3.0v3.0h-3.0zM453.1 551.0h3.0v3.0h-3.0zM475.1 545.1h3.0v3.0h-3.0zM457.4 529.7h3.0v3.0h-3.0zM501.8 540.8h3.0v3.0h-3.0zM464.7 533.8h3.0v3.0h-3.0zM553.4 510.5h3.0v3.0h-3.0zM438.3 553.5h3.0v3.0h-3.0zM426.3 545.5h3.0v3.0h-3.0zM494.0 509.4h3.0v3.0h-3.0zM445.8 542.1h3.0v3.0h-3.0zM504.7 531.3h3.0v3.0h-3.0zM520.1 519.9h3.0v3.0h-3.0zM509.4 544.1h3.0v3.0h-3.0zM411.0 563.6h3.0v3.0h-3.0zM471.6 541.5h3.0v3.0h-3.0zM525.0 514.6h3.0v3.0h-3.0zM447.3 554.8h3.0v3.0h-3.0zM476.2 526.6h3.0v3.0h-3.0zM447.7 572.7h3.0v3.0h-3.0zM533.7 520.9h3.0v3.0h-3.0zM436.9 547.4h3.0v3.0h-3.0zM434.8 564.2h3.0v3.0h-3.0zM512.1 522.3h3.0v3.0h-3.0zM461.3 532.1h3.0v3.0h-3.0zM493.5 550.9h3.0v3.0h-3.0zM521.1 519.7h3.0v3.0h-3.0zM519.9 515.4h3.0v3.0h-3.0zM527.5 503.8h3.0v3.0h-3.0zM441.2 577.5h3.0v3.0h-3.0zM436.1 527.8h3.0v3.0h-3.0zM497.4 523.6h3.0v3.0h-3.0zM560.7 519.8h3.0v3.0h-3.0zM474.6 531.4h3.0v3.0h-3.0zM524.9 529.4h3.0v3.0h-3.0zM462.2 535.2h3.0v3.0h-3.0zM461.2 522.4h3.0v3.0h-3.0zM466.3 560.5h3.0v3.0h-3.0zM484.6 531.7h3.0v3.0h-3.0zM501.5 520.1h3.0v3.0h-3.0zM516.7 513.1h3.0v3.0h-3.0zM454.7 576.5h3.0v3.0h-3.0zM512.1 522.4h3.0v3.0h-3.0zM507.7 515.8h3.0v3.0h-3.0zM469.3 517.9h3.0v3.0h-3.0zM480.2 515.0h3.0v3.0h-3.0zM506.3 560.0h3.0v3.0h-3.0zM491.5 531.2h3.0v3.0h-3.0zM525.2 528.7h3.0v3.0h-3.0zM399.8 568.1h3.0v3.0h-3.0zM439.7 544.1h3.0v3.0h-3.0zM527.4 509.4h3.0v3.0h-3.0zM480.0 530.9h3.0v3.0h-3.0zM533.2 509.5h3.0v3.0h-3.0zM537.3 527.5h3.0v3.0h-3.0zM511.8 528.7h3.0v3.0h-3.0zM525.4 511.1h3.0v3.0h-3.0zM475.2 533.0h3.0v3.0h-3.0zM522.1 514.5h3.0v3.0h-3.0zM473.2 510.5h3.0v3.0h-3.0zM511.1 521.8h3.0v3.0h-3.0zM461.8 531.1h3.0v3.0h-3.0zM469.5 519.1h3.0v3.0h-3.0zM468.4 524.7h3.0v3.0h-3.0zM529.8 519.1h3.0v3.0h-3.0zM507.6 525.9h3.0v3.0h-3.0zM533.5 523.2h3.0v3.0h-3.0zM500.7 510.0h3.0v3.0h-3.0zM509.7 547.0h3.0v3.0h-3.0zM514.7 517.7h3.0v3.0h-3.0zM518.2 539.5h3.0v3.0h-3.0zM540.9 504.9h3.0v3.0h-3.0zM483.0 520.7h3.0v3.0h-3.0zM501.3 552.4h3.0v3.0h-3.0zM452.1 563.4h3.0v3.0h-3.0zM494.5 519.8h3.0v3.0h-3.0zM466.3 524.0h3.0v3.0h-3.0zM454.1 542.5h3.0v3.0h-3.0zM425.1 563.8h3.0v3.0h-3.0zM477.7 536.4h3.0v3.0h-3.0zM501.7 516.6h3.0v3.0h-3.0zM467.0 537.6h3.0v3.0h-3.0zM477.0 542.1h3.0v3.0h-3.0zM472.1 538.4h3.0v3.0h-3.0zM475.4 550.7h3.0v3.0h-3.0zM460.9 539.2h3.0v3.0h-3.0zM444.7 542.0h3.0v3.0h-3.0zM499.5 552.9h3.0v3.0h-3.0zM464.8 578.7h3.0v3.0h-3.0zM481.1 539.0h3.0v3.0h-3.0zM479.5 564.3h3.0v3.0h-3.0zM454.2 547.8h3.0v3.0h-3.0zM450.5 561.9h3.0v3.0h-3.0zM440.0 566.3h3.0v3.0h-3.0zM461.7 557.3h3.0v3.0h-3.0zM508.3 562.6h3.0v3.0h-3.0zM488.2 558.7h3.0v3.0h-3.0zM465.1 534.9h3.0v3.0h-3.0zM482.0 564.8h3.0v3.0h-3.0zM479.9 555.5h3.0v3.0h-3.0zM482.9 563.7h3.0v3.0h-3.0zM450.0 561.9h3.0v3.0h-3.0zM466.3 553.3h3.0v3.0h-3.0zM450.5 550.8h3.0v3.0h-3.0zM473.3 541.1h3.0v3.0h-3.0zM475.3 560.7h3.0v3.0h-3.0zM463.6 550.8h3.0v3.0h-3.0zM470.0 543.9h3.0v3.0h-3.0zM484.6 545.3h3.0v3.0h-3.0zM460.3 550.3h3.0v3.0h-3.0zM451.7 545.7h3.0v3.0h-3.0zM475.5 553.9h3.0v3.0h-3.0zM451.4 524.4h3.0v3.0h-3.0zM474.4 573.4h3.0v3.0h-3.0zM444.8 559.4h3.0v3.0h-3.0zM448.1 543.7h3.0v3.0h-3.0zM482.7 559.2h3.0v3.0h-3.0zM465.8 589.4h3.0v3.0h-3.0zM465.7 559.5h3.0v3.0h-3.0zM470.6 556.7h3.0v3.0h-3.0zM478.8 569.8h3.0v3.0h-3.0zM464.7 558.7h3.0v3.0h-3.0zM448.4 544.8h3.0v3.0h-3.0zM456.9 540.6h3.0v3.0h-3.0zM466.1 534.7h3.0v3.0h-3.0zM423.4 549.9h3.0v3.0h-3.0zM450.5 566.1h3.0v3.0h-3.0zM463.7 540.5h3.0v3.0h-3.0zM471.5 551.7h3.0v3.0h-3.0zM456.9 562.1h3.0v3.0h-3.0zM470.1 579.5h3.0v3.0h-3.0zM451.0 557.6h3.0v3.0h-3.0zM466.7 552.2h3.0v3.0h-3.0zM479.9 548.6h3.0v3.0h-3.0zM471.0 536.3h3.0v3.0h-3.0zM472.8 542.4h3.0v3.0h-3.0zM435.9 552.9h3.0v3.0h-3.0zM480.1 527.8h3.0v3.0h-3.0zM466.6 539.5h3.0v3.0h-3.0zM476.5 560.0h3.0v3.0h-3.0zM462.3 552.7h3.0v3.0h-3.0zM475.5 540.5h3.0v3.0h-3.0zM481.8 568.6h3.0v3.0h-3.0zM447.8 547.2h3.0v3.0h-3.0zM468.2 551.2h3.0v3.0h-3.0zM462.7 523.6h3.0v3.0h-3.0zM448.8 568.1h3.0v3.0h-3.0zM471.7 536.9h3.0v3.0h-3.0zM439.1 574.4h3.0v3.0h-3.0zM468.3 569.9h3.0v3.0h-3.0zM458.7 544.8h3.0v3.0h-3.0zM470.3 536.6h3.0v3.0h-3.0zM456.9 570.5h3.0v3.0h-3.0zM472.3 538.0h3.0v3.0h-3.0zM480.2 538.4h3.0v3.0h-3.0zM454.3 553.6h3.0v3.0h-3.0zM478.7 564.8h3.0v3.0h-3.0zM470.8 558.3h3.0v3.0h-3.0zM458.1 582.4h3.0v3.0h-3.0zM491.0 521.5h3.0v3.0h-3.0zM469.4 544.4h3.0v3.0h-3.0zM457.7 571.1h3.0v3.0h-3.0zM477.4 547.9h3.0v3.0h-3.0zM484.6 553.9h3.0v3.0h-3.0zM473.7 559.3h3.0v3.0h-3.0zM463.9 547.8h3.0v3.0h-3.0zM479.9 542.2h3.0v3.0h-3.0zM451.2 551.9h3.0v3.0h-3.0zM462.7 567.1h3.0v3.0h-3.0zM478.2 526.5h3.0v3.0h-3.0zM469.5 546.1h3.0v3.0h-3.0zM462.6 556.9h3.0v3.0h-3.0zM468.4 522.9h3.0v3.0h-3.0zM443.4 579.3h3.0v3.0h-3.0zM455.2 565.5h3.0v3.0h-3.0zM473.9 544.2h3.0v3.0h-3.0zM473.0 551.5h3.0v3.0h-3.0zM466.6 546.3h3.0v3.0h-3.0zM454.8 555.1h3.0v3.0h-3.0zM475.4 568.8h3.0v3.0h-3.0zM448.2 551.4h3.0v3.0h-3.0zM490.6 572.6h3.0v3.0h-3.0zM488.0 552.0h3.0v3.0h-3.0zM479.1 540.6h3.0v3.0h-3.0zM467.6 541.9h3.0v3.0h-3.0zM476.4 531.9h3.0v3.0h-3.0zM446.3 571.5h3.0v3.0h-3.0zM479.8 562.2h3.0v3.0h-3.0zM467.4 571.8h3.0v3.0h-3.0zM476.2 525.2h3.0v3.0h-3.0zM465.0 555.6h3.0v3.0h-3.0zM471.9 543.8h3.0v3.0h-3.0zM464.0 546.7h3.0v3.0h-3.0zM465.2 565.2h3.0v3.0h-3.0zM456.8 563.1h3.0v3.0h-3.0zM482.2 551.8h3.0v3.0h-3.0zM476.8 544.2h3.0v3.0h-3.0zM452.6 552.6h3.0v3.0h-3.0zM484.9 529.9h3.0v3.0h-3.0zM485.2 561.4h3.0v3.0h-3.0zM477.1 542.3h3.0v3.0h-3.0zM466.4 545.4h3.0v3.0h-3.0zM462.3 531.6h3.0v3.0h-3.0zM449.2 569.7h3.0v3.0h-3.0zM485.3 535.4h3.0v3.0h-3.0zM476.8 542.4h3.0v3.0h-3.0zM454.7 530.2h3.0v3.0h-3.0zM482.8 537.8h3.0v3.0h-3.0zM456.4 534.3h3.0v3.0h-3.0zM456.2 572.5h3.0v3.0h-3.0zM461.7 559.4h3.0v3.0h-3.0zM459.2 568.9h3.0v3.0h-3.0zM461.8 559.4h3.0v3.0h-3.0zM462.6 539.4h3.0v3.0h-3.0zM470.5 527.5h3.0v3.0h-3.0zM458.9 574.9h3.0v3.0h-3.0zM456.0 568.2h3.0v3.0h-3.0zM479.4 560.1h3.0v3.0h-3.0zM469.2 545.0h3.0v3.0h-3.0zM478.6 555.5h3.0v3.0h-3.0zM463.3 561.8h3.0v3.0h-3.0zM464.7 544.7h3.0v3.0h-3.0zM487.1 558.8h3.0v3.0h-3.0zM447.4 556.1h3.0v3.0h-3.0zM468.1 531.1h3.0v3.0h-3.0zM462.9 578.4h3.0v3.0h-3.0zM478.7 559.9h3.0v3.0h-3.0zM468.2 554.5h3.0v3.0h-3.0zM465.8 545.4h3.0v3.0h-3.0zM471.6 538.0h3.0v3.0h-3.0zM474.8 566.9h3.0v3.0h-3.0zM443.6 541.7h3.0v3.0h-3.0zM448.2 531.6h3.0v3.0h-3.0zM470.2 524.7h3.0v3.0h-3.0zM446.3 552.9h3.0v3.0h-3.0zM464.3 538.8h3.0v3.0h-3.0zM463.1 546.8h3.0v3.0h-3.0zM450.3 559.3h3.0v3.0h-3.0zM469.1 544.2h3.0v3.0h-3.0zM455.2 563.5h3.0v3.0h-3.0zM458.9 547.7h3.0v3.0h-3.0zM463.4 547.2h3.0v3.0h-3.0zM479.8 519.7h3.0v3.0h-3.0zM450.1 559.0h3.0v3.0h-3.0zM485.3 549.8h3.0v3.0h-3.0zM473.0 550.5h3.0v3.0h-3.0zM452.7 545.7h3.0v3.0h-3.0zM481.1 566.5h3.0v3.0h-3.0zM483.5 535.2h3.0v3.0h-3.0zM453.8 555.2h3.0v3.0h-3.0zM471.2 539.4h3.0v3.0h-3.0zM448.6 544.8h3.0v3.0h-3.0zM462.2 536.5h3.0v3.0h-3.0zM462.8 534.3h3.0v3.0h-3.0zM460.5 576.3h3.0v3.0h-3.0zM483.6 578.7h3.0v3.0h-3.0zM473.5 557.1h3.0v3.0h-3.0zM470.4 551.9h3.0v3.0h-3.0zM455.6 570.7h3.0v3.0h-3.0zM479.2 550.9h3.0v3.0h-3.0zM481.2 542.6h3.0v3.0h-3.0zM454.2 545.6h3.0v3.0h-3.0zM456.3 542.8h3.0v3.0h-3.0zM451.3 565.1h3.0v3.0h-3.0zM483.7 541.4h3.0v3.0h-3.0zM479.2 525.0h3.0v3.0h-3.0zM472.6 551.8h3.0v3.0h-3.0zM500.0 536.4h3.0v3.0h-3.0zM466.4 561.3h3.0v3.0h-3.0zM462.9 541.8h3.0v3.0h-3.0zM472.8 553.1h3.0v3.0h-3.0zM463.8 577.9h3.0v3.0h-3.0zM464.6 562.1h3.0v3.0h-3.0zM463.6 549.9h3.0v3.0h-3.0zM448.4 541.3h3.0v3.0h-3.0zM477.4 566.1h3.0v3.0h-3.0zM456.6 546.6h3.0v3.0h-3.0zM484.5 546.2h3.0v3.0h-3.0zM464.7 530.4h3.0v3.0h-3.0zM434.0 574.5h3.0v3.0h-3.0zM490.4 575.3h3.0v3.0h-3.0zM447.3 540.3h3.0v3.0h-3.0zM452.6 587.5h3.0v3.0h-3.0zM464.0 542.5h3.0v3.0h-3.0zM493.9 543.7h3.0v3.0h-3.0zM454.4 570.0h3.0v3.0h-3.0zM449.4 584.5h3.0v3.0h-3.0zM486.1 573.4h3.0v3.0h-3.0zM473.2 531.2h3.0v3.0h-3.0zM487.6 513.4h3.0v3.0h-3.0zM476.1 549.7h3.0v3.0h-3.0zM454.5 544.2h3.0v3.0h-3.0zM464.6 566.4h3.0v3.0h-3.0zM464.7 537.3h3.0v3.0h-3.0zM473.6 569.4h3.0v3.0h-3.0zM469.2 550.5h3.0v3.0h-3.0zM455.4 524.7h3.0v3.0h-3.0zM458.9 544.6h3.0v3.0h-3.0zM445.4 557.5h3.0v3.0h-3.0zM483.1 554.0h3.0v3.0h-3.0zM464.9 528.7h3.0v3.0h-3.0zM487.7 540.7h3.0v3.0h-3.0zM444.9 568.8h3.0v3.0h-3.0zM470.5 544.9h3.0v3.0h-3.0zM470.9 544.5h3.0v3.0h-3.0zM486.2 567.2h3.0v3.0h-3.0zM446.9 559.9h3.0v3.0h-3.0zM458.2 559.5h3.0v3.0h-3.0zM447.4 554.9h3.0v3.0h-3.0zM525.6 545.7h3.0v3.0h-3.0zM468.4 546.3h3.0v3.0h-3.0zM471.7 557.8h3.0v3.0h-3.0zM464.0 541.2h3.0v3.0h-3.0zM485.9 535.2h3.0v3.0h-3.0zM473.2 554.6h3.0v3.0h-3.0zM468.6 534.9h3.0v3.0h-3.0zM479.8 544.6h3.0v3.0h-3.0zM459.6 553.8h3.0v3.0h-3.0zM467.1 520.7h3.0v3.0h-3.0zM486.4 555.3h3.0v3.0h-3.0zM486.0 539.1h3.0v3.0h-3.0zM478.7 530.3h3.0v3.0h-3.0zM443.9 544.0h3.0v3.0h-3.0zM482.8 573.2h3.0v3.0h-3.0zM457.3 555.1h3.0v3.0h-3.0zM476.3 513.9h3.0v3.0h-3.0zM465.0 547.3h3.0v3.0h-3.0zM468.7 557.0h3.0v3.0h-3.0zM470.6 522.5h3.0v3.0h-3.0zM443.7 548.7h3.0v3.0h-3.0zM483.9 524.0h3.0v3.0h-3.0zM466.9 561.6h3.0v3.0h-3.0zM460.6 539.3h3.0v3.0h-3.0zM467.4 547.9h3.0v3.0h-3.0zM480.9 550.9h3.0v3.0h-3.0zM476.9 537.6h3.0v3.0h-3.0zM465.4 534.4h3.0v3.0h-3.0zM463.1 569.4h3.0v3.0h-3.0zM446.9 557.1h3.0v3.0h-3.0zM466.5 550.9h3.0v3.0h-3.0zM474.2 539.8h3.0v3.0h-3.0zM465.8 555.7h3.0v3.0h-3.0zM469.4 562.4h3.0v3.0h-3.0zM443.2 570.6h3.0v3.0h-3.0zM474.9 545.0h3.0v3.0h-3.0zM447.1 534.8h3.0v3.0h-3.0zM458.9 564.2h3.0v3.0h-3.0zM433.5 537.0h3.0v3.0h-3.0zM471.9 526.2h3.0v3.0h-3.0zM469.4 562.7h3.0v3.0h-3.0zM434.1 544.7h3.0v3.0h-3.0zM467.2 537.9h3.0v3.0h-3.0zM458.9 579.7h3.0v3.0h-3.0zM460.3 553.5h3.0v3.0h-3.0zM455.7 548.3h3.0v3.0h-3.0zM468.1 565.7h3.0v3.0h-3.0zM460.8 554.8h3.0v3.0h-3.0zM463.0 554.8h3.0v3.0h-3.0zM460.1 544.6h3.0v3.0h-3.0zM470.8 557.4h3.0v3.0h-3.0zM477.7 544.8h3.0v3.0h-3.0zM468.7 537.6h3.0v3.0h-3.0zM473.8 555.6h3.0v3.0h-3.0zM463.0 554.2h3.0v3.0h-3.0zM458.6 587.8h3.0v3.0h-3.0zM447.5 522.2h3.0v3.0h-3.0zM450.0 537.5h3.0v3.0h-3.0zM460.9 544.2h3.0v3.0h-3.0zM486.5 543.7h3.0v3.0h-3.0zM474.8 567.5h3.0v3.0h-3.0zM458.8 559.9h3.0v3.0h-3.0zM466.4 539.4h3.0v3.0h-3.0zM453.4 608.0h3.0v3.0h-3.0zM469.9 538.6h3.0v3.0h-3.0zM450.8 538.9h3.0v3.0h-3.0zM448.9 566.7h3.0v3.0h-3.0zM466.8 568.0h3.0v3.0h-3.0zM477.5 539.5h3.0v3.0h-3.0zM479.8 574.0h3.0v3.0h-3.0zM470.0 539.8h3.0v3.0h-3.0zM487.6 558.2h3.0v3.0h-3.0zM455.3 545.7h3.0v3.0h-3.0zM467.9 554.7h3.0v3.0h-3.0zM462.3 552.7h3.0v3.0h-3.0zM474.6 564.7h3.0v3.0h-3.0zM445.3 535.2h3.0v3.0h-3.0zM481.4 544.7h3.0v3.0h-3.0zM448.0 579.0h3.0v3.0h-3.0zM483.8 535.8h3.0v3.0h-3.0zM511.1 536.3h3.0v3.0h-3.0zM435.4 563.0h3.0v3.0h-3.0zM492.3 544.3h3.0v3.0h-3.0zM465.7 548.8h3.0v3.0h-3.0zM461.7 534.7h3.0v3.0h-3.0zM469.3 553.7h3.0v3.0h-3.0zM445.6 559.1h3.0v3.0h-3.0zM462.5 536.7h3.0v3.0h-3.0zM483.1 557.7h3.0v3.0h-3.0zM477.8 548.8h3.0v3.0h-3.0zM461.7 566.4h3.0v3.0h-3.0zM479.2 561.3h3.0v3.0h-3.0zM454.1 525.3h3.0v3.0h-3.0zM452.7 571.5h3.0v3.0h-3.0zM456.7 538.4h3.0v3.0h-3.0zM459.1 577.0h3.0v3.0h-3.0zM479.4 541.1h3.0v3.0h-3.0zM469.8 510.7h3.0v3.0h-3.0zM469.4 577.6h3.0v3.0h-3.0zM491.8 567.3h3.0v3.0h-3.0zM463.6 537.8h3.0v3.0h-3.0zM467.1 568.6h3.0v3.0h-3.0zM479.0 539.8h3.0v3.0h-3.0zM457.2 539.3h3.0v3.0h-3.0zM466.8 555.2h3.0v3.0h-3.0zM472.4 533.6h3.0v3.0h-3.0zM456.5 540.8h3.0v3.0h-3.0zM496.1 518.9h3.0v3.0h-3.0zM491.3 542.8h3.0v3.0h-3.0zM447.8 533.3h3.0v3.0h-3.0zM449.7 534.3h3.0v3.0h-3.0zM456.3 564.8h3.0v3.0h-3.0zM442.0 549.2h3.0v3.0h-3.0zM477.3 574.6h3.0v3.0h-3.0zM463.5 541.9h3.0v3.0h-3.0zM485.0 556.3h3.0v3.0h-3.0zM448.7 565.1h3.0v3.0h-3.0zM464.8 548.0h3.0v3.0h-3.0zM466.6 556.4h3.0v3.0h-3.0zM478.4 574.0h3.0v3.0h-3.0zM479.5 552.3h3.0v3.0h-3.0zM444.8 548.0h3.0v3.0h-3.0zM457.2 563.2h3.0v3.0h-3.0zM459.6 561.9h3.0v3.0h-3.0zM470.1 553.7h3.0v3.0h-3.0zM484.7 592.1h3.0v3.0h-3.0zM471.2 570.7h3.0v3.0h-3.0zM459.3 547.2h3.0v3.0h-3.0zM465.7 541.3h3.0v3.0h-3.0zM465.9 553.5h3.0v3.0h-3.0zM450.6 551.3h3.0v3.0h-3.0zM448.4 574.3h3.0v3.0h-3.0zM463.2 536.0h3.0v3.0h-3.0zM466.6 571.8h3.0v3.0h-3.0zM446.4 564.6h3.0v3.0h-3.0zM501.7 560.3h3.0v3.0h-3.0zM456.7 565.4h3.0v3.0h-3.0zM436.3 558.3h3.0v3.0h-3.0zM465.2 551.9h3.0v3.0h-3.0zM465.1 544.0h3.0v3.0h-3.0zM453.5 542.6h3.0v3.0h-3.0zM460.7 585.7h3.0v3.0h-3.0zM460.9 549.2h3.0v3.0h-3.0zM464.6 563.8h3.0v3.0h-3.0zM461.5 563.4h3.0v3.0h-3.0zM469.3 549.3h3.0v3.0h-3.0zM459.0 540.9h3.0v3.0h-3.0zM440.7 569.7h3.0v3.0h-3.0zM440.6 524.3h3.0v3.0h-3.0zM471.0 563.5h3.0v3.0h-3.0zM473.8 563.8h3.0v3.0h-3.0zM455.1 565.0h3.0v3.0h-3.0zM396.8 332.3h3.0v3.0h-3.0zM387.2 325.0h3.0v3.0h-3.0zM427.3 322.3h3.0v3.0h-3.0zM402.1 345.8h3.0v3.0h-3.0zM375.4 332.1h3.0v3.0h-3.0zM423.5 334.3h3.0v3.0h-3.0zM379.2 348.0h3.0v3.0h-3.0zM375.2 335.4h3.0v3.0h-3.0zM425.6 318.9h3.0v3.0h-3.0zM417.6 336.9h3.0v3.0h-3.0zM381.6 344.8h3.0v3.0h-3.0zM399.1 334.5h3.0v3.0h-3.0zM399.6 334.9h3.0v3.0h-3.0zM357.1 336.1h3.0v3.0h-3.0zM416.7 328.7h3.0v3.0h-3.0zM401.5 347.8h3.0v3.0h-3.0zM377.2 331.7h3.0v3.0h-3.0zM385.8 329.8h3.0v3.0h-3.0zM392.7 320.8h3.0v3.0h-3.0zM375.3 317.7h3.0v3.0h-3.0zM404.4 329.9h3.0v3.0h-3.0zM385.3 339.2h3.0v3.0h-3.0zM385.0 323.7h3.0v3.0h-3.0zM409.5 327.4h3.0v3.0h-3.0zM398.7 319.7h3.0v3.0h-3.0zM388.7 324.3h3.0v3.0h-3.0zM365.3 343.4h3.0v3.0h-3.0zM399.1 344.7h3.0v3.0h-3.0zM358.1 336.8h3.0v3.0h-3.0zM410.5 326.4h3.0v3.0h-3.0zM429.7 343.2h3.0v3.0h-3.0zM397.2 323.4h3.0v3.0h-3.0zM385.7 345.2h3.0v3.0h-3.0zM395.1 319.5h3.0v3.0h-3.0zM400.1 343.2h3.0v3.0h-3.0zM401.3 332.2h3.0v3.0h-3.0zM373.1 342.8h3.0v3.0h-3.0zM405.7 338.0h3.0v3.0h-3.0zM455.6 335.7h3.0v3.0h-3.0zM395.7 339.5h3.0v3.0h-3.0zM388.5 319.3h3.0v3.0h-3.0zM403.0 328.4h3.0v3.0h-3.0zM391.7 347.4h3.0v3.0h-3.0zM377.3 331.1h3.0v3.0h-3.0zM373.7 342.8h3.0v3.0h-3.0zM365.1 328.8h3.0v3.0h-3.0zM358.0 334.9h3.0v3.0h-3.0zM366.9 329.6h3.0v3.0h-3.0zM394.0 343.7h3.0v3.0h-3.0zM359.4 334.9h3.0v3.0h-3.0zM378.4 322.8h3.0v3.0h-3.0zM396.7 344.4h3.0v3.0h-3.0zM383.7 325.7h3.0v3.0h-3.0zM424.9 332.4h3.0v3.0h-3.0zM419.1 332.8h3.0v3.0h-3.0zM400.3 339.3h3.0v3.0h-3.0zM390.2 332.7h3.0v3.0h-3.0zM362.3 326.5h3.0v3.0h-3.0zM371.7 336.9h3.0v3.0h-3.0zM383.4 324.0h3.0v3.0h-3.0zM394.7 328.1h3.0v3.0h-3.0zM409.5 326.5h3.0v3.0h-3.0zM403.2 332.9h3.0v3.0h-3.0zM373.8 334.6h3.0v3.0h-3.0zM385.7 319.6h3.0v3.0h-3.0zM366.4 327.8h3.0v3.0h-3.0zM422.2 330.1h3.0v3.0h-3.0zM387.2 340.4h3.0v3.0h-3.0zM406.3 346.5h3.0v3.0h-3.0zM368.8 331.4h3.0v3.0h-3.0zM409.9 336.6h3.0v3.0h-3.0zM392.2 347.8h3.0v3.0h-3.0zM368.9 341.8h3.0v3.0h-3.0zM382.7 331.0h3.0v3.0h-3.0zM373.3 331.8h3.0v3.0h-3.0zM368.5 324.8h3.0v3.0h-3.0zM393.1 338.7h3.0v3.0h-3.0zM377.3 331.5h3.0v3.0h-3.0zM409.6 346.8h3.0v3.0h-3.0zM385.0 344.1h3.0v3.0h-3.0zM378.9 344.4h3.0v3.0h-3.0zM367.8 344.5h3.0v3.0h-3.0zM419.6 327.7h3.0v3.0h-3.0zM412.0 327.4h3.0v3.0h-3.0zM377.8 338.0h3.0v3.0h-3.0zM374.0 330.0h3.0v3.0h-3.0zM376.7 337.0h3.0v3.0h-3.0zM382.1 330.9h3.0v3.0h-3.0zM384.9 332.1h3.0v3.0h-3.0zM369.8 327.8h3.0v3.0h-3.0zM385.0 328.4h3.0v3.0h-3.0zM409.6 349.2h3.0v3.0h-3.0zM397.6 320.4h3.0v3.0h-3.0zM389.1 337.1h3.0v3.0h-3.0zM367.3 334.8h3.0v3.0h-3.0zM393.8 329.5h3.0v3.0h-3.0zM404.5 350.0h3.0v3.0h-3.0zM406.6 326.8h3.0v3.0h-3.0zM379.3 345.3h3.0v3.0h-3.0zM375.5 337.5h3.0v3.0h-3.0zM399.3 334.0h3.0v3.0h-3.0zM386.8 335.9h3.0v3.0h-3.0zM386.3 336.7h3.0v3.0h-3.0zM380.9 337.9h3.0v3.0h-3.0zM374.6 320.8h3.0v3.0h-3.0zM372.3 336.1h3.0v3.0h-3.0zM373.6 338.7h3.0v3.0h-3.0zM407.0 341.0h3.0v3.0h-3.0zM378.4 318.2h3.0v3.0h-3.0zM421.9 324.0h3.0v3.0h-3.0zM408.8 334.3h3.0v3.0h-3.0zM389.5 321.5h3.0v3.0h-3.0zM376.6 330.9h3.0v3.0h-3.0zM357.9 334.1h3.0v3.0h-3.0zM409.5 329.3h3.0v3.0h-3.0zM393.4 332.3h3.0v3.0h-3.0zM378.6 346.7h3.0v3.0h-3.0zM361.7 333.7h3.0v3.0h-3.0zM410.0 334.3h3.0v3.0h-3.0zM421.7 326.2h3.0v3.0h-3.0zM367.7 351.6h3.0v3.0h-3.0zM386.5 338.3h3.0v3.0h-3.0zM395.4 332.0h3.0v3.0h-3.0zM407.6 333.5h3.0v3.0h-3.0zM379.7 342.9h3.0v3.0h-3.0zM433.8 324.1h3.0v3.0h-3.0zM387.8 344.9h3.0v3.0h-3.0zM380.7 320.6h3.0v3.0h-3.0zM363.2 326.0h3.0v3.0h-3.0zM404.0 317.0h3.0v3.0h-3.0zM390.2 337.4h3.0v3.0h-3.0zM371.0 331.4h3.0v3.0h-3.0zM366.5 337.0h3.0v3.0h-3.0zM410.9 346.6h3.0v3.0h-3.0zM414.0 322.3h3.0v3.0h-3.0zM403.2 340.4h3.0v3.0h-3.0zM392.6 328.7h3.0v3.0h-3.0zM377.0 342.4h3.0v3.0h-3.0zM412.5 343.2h3.0v3.0h-3.0zM418.3 329.9h3.0v3.0h-3.0zM395.0 340.4h3.0v3.0h-3.0zM385.0 330.8h3.0v3.0h-3.0zM428.1 347.1h3.0v3.0h-3.0zM372.9 326.5h3.0v3.0h-3.0zM400.4 334.9h3.0v3.0h-3.0zM393.0 325.5h3.0v3.0h-3.0zM386.9 338.2h3.0v3.0h-3.0zM371.0 339.0h3.0v3.0h-3.0zM432.9 339.9h3.0v3.0h-3.0zM441.5 332.1h3.0v3.0h-3.0zM392.1 341.2h3.0v3.0h-3.0zM385.6 325.7h3.0v3.0h-3.0zM400.7 321.1h3.0v3.0h-3.0zM363.3 348.0h3.0v3.0h-3.0zM402.2 334.8h3.0v3.0h-3.0zM370.8 337.8h3.0v3.0h-3.0zM362.3 338.8h3.0v3.0h-3.0zM394.3 337.1h3.0v3.0h-3.0zM393.7 336.8h3.0v3.0h-3.0zM432.3 326.6h3.0v3.0h-3.0zM365.9 331.7h3.0v3.0h-3.0zM416.8 336.9h3.0v3.0h-3.0zM379.4 331.4h3.0v3.0h-3.0zM400.6 344.5h3.0v3.0h-3.0zM387.3 324.8h3.0v3.0h-3.0zM404.9 334.3h3.0v3.0h-3.0zM370.5 338.8h3.0v3.0h-3.0zM412.4 336.5h3.0v3.0h-3.0zM406.0 335.3h3.0v3.0h-3.0zM379.1 329.1h3.0v3.0h-3.0zM393.0 319.9h3.0v3.0h-3.0zM361.9 329.7h3.0v3.0h-3.0zM361.1 339.5h3.0v3.0h-3.0zM372.5 350.1h3.0v3.0h-3.0zM393.9 322.8h3.0v3.0h-3.0zM397.4 318.6h3.0v3.0h-3.0zM399.1 321.3h3.0v3.0h-3.0zM437.4 341.6h3.0v3.0h-3.0zM381.0 344.1h3.0v3.0h-3.0zM422.2 329.1h3.0v3.0h-3.0zM381.3 335.8h3.0v3.0h-3.0zM383.1 337.9h3.0v3.0h-3.0zM401.0 324.3h3.0v3.0h-3.0zM399.0 347.7h3.0v3.0h-3.0zM378.5 329.4h3.0v3.0h-3.0zM387.3 323.9h3.0v3.0h-3.0zM382.3 332.4h3.0v3.0h-3.0zM382.8 341.5h3.0v3.0h-3.0zM379.3 326.0h3.0v3.0h-3.0zM381.5 339.2h3.0v3.0h-3.0zM400.9 317.6h3.0v3.0h-3.0zM388.3 350.0h3.0v3.0h-3.0zM384.0 330.5h3.0v3.0h-3.0zM372.1 344.3h3.0v3.0h-3.0zM416.8 333.5h3.0v3.0h-3.0zM383.7 333.9h3.0v3.0h-3.0zM424.7 336.9h3.0v3.0h-3.0zM384.3 335.0h3.0v3.0h-3.0zM368.2 342.1h3.0v3.0h-3.0zM382.3 320.2h3.0v3.0h-3.0zM382.5 317.6h3.0v3.0h-3.0zM388.0 343.6h3.0v3.0h-3.0zM440.3 338.3h3.0v3.0h-3.0zM395.8 316.5h3.0v3.0h-3.0zM462.9 331.5h3.0v3.0h-3.0zM369.8 336.9h3.0v3.0h-3.0zM429.9 323.0h3.0v3.0h-3.0zM426.1 331.0h3.0v3.0h-3.0zM417.3 330.9h3.0v3.0h-3.0zM383.2 336.2h3.0v3.0h-3.0zM395.5 328.7h3.0v3.0h-3.0zM383.9 333.5h3.0v3.0h-3.0zM387.5 331.4h3.0v3.0h-3.0zM441.6 325.4h3.0v3.0h-3.0zM447.8 335.4h3.0v3.0h-3.0zM437.0 361.7h3.0v3.0h-3.0zM454.1 336.0h3.0v3.0h-3.0zM459.5 335.5h3.0v3.0h-3.0zM399.3 345.6h3.0v3.0h-3.0zM402.0 335.6h3.0v3.0h-3.0zM425.7 318.3h3.0v3.0h-3.0zM377.1 342.8h3.0v3.0h-3.0zM441.7 334.6h3.0v3.0h-3.0zM387.0 341.9h3.0v3.0h-3.0zM409.8 332.8h3.0v3.0h-3.0zM439.3 333.5h3.0v3.0h-3.0zM422.3 329.7h3.0v3.0h-3.0zM410.0 330.8h3.0v3.0h-3.0zM423.7 333.7h3.0v3.0h-3.0zM366.9 351.8h3.0v3.0h-3.0zM460.9 336.3h3.0v3.0h-3.0zM455.2 341.4h3.0v3.0h-3.0zM407.1 334.3h3.0v3.0h-3.0zM404.0 346.9h3.0v3.0h-3.0zM401.3 343.1h3.0v3.0h-3.0zM436.5 351.4h3.0v3.0h-3.0zM434.7 339.8h3.0v3.0h-3.0zM382.8 330.2h3.0v3.0h-3.0zM435.0 347.6h3.0v3.0h-3.0zM396.5 347.4h3.0v3.0h-3.0zM409.9 348.6h3.0v3.0h-3.0zM449.1 325.6h3.0v3.0h-3.0zM422.8 332.9h3.0v3.0h-3.0zM365.6 350.4h3.0v3.0h-3.0zM393.8 337.7h3.0v3.0h-3.0zM451.0 334.3h3.0v3.0h-3.0zM389.8 324.8h3.0v3.0h-3.0zM395.1 334.8h3.0v3.0h-3.0zM360.8 338.9h3.0v3.0h-3.0zM458.6 336.1h3.0v3.0h-3.0zM430.6 339.5h3.0v3.0h-3.0zM452.4 336.2h3.0v3.0h-3.0zM448.1 329.7h3.0v3.0h-3.0zM386.7 334.2h3.0v3.0h-3.0zM455.6 337.3h3.0v3.0h-3.0zM400.6 341.9h3.0v3.0h-3.0zM443.1 323.2h3.0v3.0h-3.0zM432.9 345.6h3.0v3.0h-3.0zM430.8 333.6h3.0v3.0h-3.0zM423.3 331.0h3.0v3.0h-3.0zM392.3 347.5h3.0v3.0h-3.0zM439.1 328.8h3.0v3.0h-3.0zM452.4 329.9h3.0v3.0h-3.0zM428.4 340.8h3.0v3.0h-3.0zM395.4 329.7h3.0v3.0h-3.0zM448.4 328.3h3.0v3.0h-3.0zM453.4 330.7h3.0v3.0h-3.0zM409.2 347.6h3.0v3.0h-3.0zM421.8 339.9h3.0v3.0h-3.0zM424.5 342.6h3.0v3.0h-3.0zM410.9 327.8h3.0v3.0h-3.0zM436.5 332.9h3.0v3.0h-3.0zM470.6 353.1h3.0v3.0h-3.0zM450.1 327.2h3.0v3.0h-3.0zM432.9 320.3h3.0v3.0h-3.0zM414.5 330.5h3.0v3.0h-3.0zM375.4 326.3h3.0v3.0h-3.0zM425.1 341.9h3.0v3.0h-3.0zM377.6 323.6h3.0v3.0h-3.0zM430.6 331.7h3.0v3.0h-3.0zM428.7 319.3h3.0v3.0h-3.0zM451.6 327.7h3.0v3.0h-3.0zM459.1 337.5h3.0v3.0h-3.0zM466.3 350.9h3.0v3.0h-3.0zM427.6 347.7h3.0v3.0h-3.0zM435.2 338.7h3.0v3.0h-3.0zM452.6 331.1h3.0v3.0h-3.0zM399.1 333.6h3.0v3.0h-3.0zM435.3 336.1h3.0v3.0h-3.0zM422.8 328.6h3.0v3.0h-3.0zM450.1 329.4h3.0v3.0h-3.0zM432.2 345.8h3.0v3.0h-3.0zM452.3 338.6h3.0v3.0h-3.0zM452.5 323.0h3.0v3.0h-3.0zM433.1 328.9h3.0v3.0h-3.0zM443.3 328.7h3.0v3.0h-3.0zM425.4 325.7h3.0v3.0h-3.0zM408.2 378.4h3.0v3.0h-3.0zM397.8 331.5h3.0v3.0h-3.0zM447.4 323.8h3.0v3.0h-3.0zM413.3 355.0h3.0v3.0h-3.0zM395.2 352.5h3.0v3.0h-3.0zM377.8 326.4h3.0v3.0h-3.0zM405.2 341.1h3.0v3.0h-3.0zM407.3 327.8h3.0v3.0h-3.0zM367.2 329.9h3.0v3.0h-3.0zM452.4 341.2h3.0v3.0h-3.0zM414.0 342.5h3.0v3.0h-3.0zM410.6 378.9h3.0v3.0h-3.0zM419.6 341.1h3.0v3.0h-3.0zM432.8 330.7h3.0v3.0h-3.0zM431.5 331.1h3.0v3.0h-3.0zM419.4 374.0h3.0v3.0h-3.0zM382.8 327.9h3.0v3.0h-3.0zM412.6 348.4h3.0v3.0h-3.0zM386.4 348.4h3.0v3.0h-3.0zM442.0 356.8h3.0v3.0h-3.0zM415.5 349.9h3.0v3.0h-3.0zM423.7 335.3h3.0v3.0h-3.0zM442.9 328.4h3.0v3.0h-3.0zM391.0 328.7h3.0v3.0h-3.0zM392.6 337.4h3.0v3.0h-3.0zM421.7 339.3h3.0v3.0h-3.0zM367.8 353.4h3.0v3.0h-3.0zM457.8 330.8h3.0v3.0h-3.0zM335.5 375.3h3.0v3.0h-3.0zM429.5 348.8h3.0v3.0h-3.0zM337.6 373.8h3.0v3.0h-3.0zM469.9 352.5h3.0v3.0h-3.0zM383.9 330.0h3.0v3.0h-3.0zM365.6 330.6h3.0v3.0h-3.0zM367.3 339.3h3.0v3.0h-3.0zM386.0 345.3h3.0v3.0h-3.0zM359.1 343.4h3.0v3.0h-3.0zM414.8 380.3h3.0v3.0h-3.0zM377.6 347.2h3.0v3.0h-3.0zM431.4 320.6h3.0v3.0h-3.0zM416.2 330.6h3.0v3.0h-3.0zM439.4 330.1h3.0v3.0h-3.0zM430.8 353.6h3.0v3.0h-3.0zM391.5 337.4h3.0v3.0h-3.0zM436.8 355.5h3.0v3.0h-3.0zM390.7 348.7h3.0v3.0h-3.0zM425.8 347.6h3.0v3.0h-3.0zM429.5 330.3h3.0v3.0h-3.0zM383.6 329.9h3.0v3.0h-3.0zM411.9 352.7h3.0v3.0h-3.0zM340.9 378.3h3.0v3.0h-3.0zM411.8 341.9h3.0v3.0h-3.0zM434.7 328.0h3.0v3.0h-3.0zM432.7 330.7h3.0v3.0h-3.0zM398.5 325.7h3.0v3.0h-3.0zM437.8 332.8h3.0v3.0h-3.0zM336.6 377.9h3.0v3.0h-3.0zM408.4 335.8h3.0v3.0h-3.0zM435.3 354.8h3.0v3.0h-3.0zM398.3 320.0h3.0v3.0h-3.0zM334.3 380.3h3.0v3.0h-3.0z"/></g>
<rect x="577.3" y="62" width="5" height="812" fill="#606060"/><rect x="125" y="496.8" width="929" height="3.2" fill="#303030"/>
<text transform="translate(127.45,101.83) scale(0.3500,0.4732)" font-size="100" font-weight="normal" fill="#111" stroke="#111" stroke-width="1.4">2</text>
<text transform="translate(150.08,101.83) scale(0.4042,0.4732)" font-size="100" font-weight="normal" fill="#111" stroke="#111" stroke-width="1.4">0</text>
<text transform="translate(169.38,101.83) scale(0.6800,0.4732)" font-size="100" font-weight="normal" fill="#111" stroke="#111" stroke-width="1.4">.</text>
<text transform="translate(188.47,101.83) scale(0.3647,0.4732)" font-size="100" font-weight="normal" fill="#111" stroke="#111" stroke-width="1.4">4</text>
<text transform="translate(210.74,101.83) scale(0.3660,0.4732)" font-size="100" font-weight="normal" fill="#111" stroke="#111" stroke-width="1.4">5</text>
<path d="M961.60 68.90V102.80" stroke="#111" stroke-width="4.58" fill="none"/><path d="M952.90 79.40L962.10 70.10" stroke="#111" stroke-width="3.8" fill="none"/>
<text transform="translate(969.53,102.32) scale(0.6300,0.4775)" font-size="100" font-weight="normal" fill="#111" stroke="#111" stroke-width="1.4">.</text>
<text transform="translate(986.13,102.32) scale(0.4348,0.4775)" font-size="100" font-weight="normal" fill="#111" stroke="#111" stroke-width="1.4">7</text>
<text transform="translate(1010.85,102.32) scale(0.3617,0.4775)" font-size="100" font-weight="normal" fill="#111" stroke="#111" stroke-width="1.4">8</text>
<text transform="translate(126.43,863.73) scale(0.4130,0.4746)" font-size="100" font-weight="normal" fill="#111" stroke="#111" stroke-width="1.4">7</text>
<text transform="translate(149.27,863.73) scale(0.4261,0.4746)" font-size="100" font-weight="normal" fill="#111" stroke="#111" stroke-width="1.4">7</text>
<text transform="translate(168.14,863.73) scale(0.7400,0.4746)" font-size="100" font-weight="normal" fill="#111" stroke="#111" stroke-width="1.4">.</text>
<path d="M199.70 830.50V864.20" stroke="#111" stroke-width="4.58" fill="none"/><path d="M190.50 841.00L200.20 831.70" stroke="#111" stroke-width="3.8" fill="none"/>
<text transform="translate(210.72,863.73) scale(0.3702,0.4746)" font-size="100" font-weight="normal" fill="#111" stroke="#111" stroke-width="1.4">8</text>
<text transform="translate(946.28,860.52) scale(0.4042,0.4845)" font-size="100" font-weight="normal" fill="#111" stroke="#111" stroke-width="1.4">0</text>
<text transform="translate(964.30,860.52) scale(0.7000,0.4845)" font-size="100" font-weight="normal" fill="#111" stroke="#111" stroke-width="1.4">.</text>
<text transform="translate(983.84,860.52) scale(0.3638,0.4845)" font-size="100" font-weight="normal" fill="#111" stroke="#111" stroke-width="1.4">5</text>
<text transform="translate(1007.59,860.52) scale(0.3826,0.4845)" font-size="100" font-weight="normal" fill="#111" stroke="#111" stroke-width="1.4">9</text>
<text transform="translate(536.52,970.22) scale(0.3768,0.4831)" font-size="100" font-weight="normal" fill="#111" stroke="#111" stroke-width="1.2">CD25</text>
<text transform="translate(653.58,975.42) scale(0.4560,0.6750)" font-size="100" font-weight="normal" fill="#111">-</text>
<text transform="translate(682.89,970.22) scale(0.4010,0.4831)" font-size="100" font-weight="normal" fill="#111" stroke="#111" stroke-width="1.2">FITC</text>
<text transform="translate(53.81,605.28) rotate(-90) scale(0.3765,0.4887)" font-size="100" font-weight="normal" fill="#111" stroke="#111" stroke-width="1.2">CD4a</text>
<text transform="translate(59.50,486.68) rotate(-90) scale(0.4200,0.7000)" font-size="100" font-weight="normal" fill="#111">-</text>
<text transform="translate(53.30,453.79) rotate(-90) scale(0.3487,0.4841)" font-size="100" font-weight="normal" fill="#111" stroke="#111" stroke-width="1.2">RPE</text>
<path d="M79.30 132.90V155.80" stroke="#2c2c2c" stroke-width="3.4" fill="none"/><path d="M73.00 139.90L79.90 133.90" stroke="#2c2c2c" stroke-width="3.0" fill="none"/>
<text transform="translate(86.62,155.48) scale(0.3958,0.3225)" font-size="100" font-weight="normal" fill="#222" stroke="#222" stroke-width="2">0</text>
<text transform="translate(100.06,117.14) scale(0.2480,0.2571)" font-size="100" font-weight="bold" fill="#111">5</text>
<path d="M79.30 310.80V333.60" stroke="#2c2c2c" stroke-width="3.4" fill="none"/><path d="M73.00 317.80L79.90 311.80" stroke="#2c2c2c" stroke-width="3.0" fill="none"/>
<text transform="translate(86.62,333.28) scale(0.3958,0.3211)" font-size="100" font-weight="normal" fill="#222" stroke="#222" stroke-width="2">0</text>
<text transform="translate(98.18,293.50) scale(0.2623,0.2203)" font-size="100" font-weight="bold" fill="#111">4</text>
<path d="M79.30 489.80V511.90" stroke="#2c2c2c" stroke-width="3.4" fill="none"/><path d="M73.00 496.80L79.90 490.80" stroke="#2c2c2c" stroke-width="3.0" fill="none"/>
<text transform="translate(86.62,511.59) scale(0.3958,0.3113)" font-size="100" font-weight="normal" fill="#222" stroke="#222" stroke-width="2">0</text>
<text transform="translate(100.72,477.73) scale(0.1900,0.2676)" font-size="100" font-weight="bold" fill="#111">3</text>
<path d="M79.30 674.80V698.10" stroke="#2c2c2c" stroke-width="3.4" fill="none"/><path d="M73.00 681.80L79.90 675.80" stroke="#2c2c2c" stroke-width="3.0" fill="none"/>
<text transform="translate(86.62,697.77) scale(0.3958,0.3282)" font-size="100" font-weight="normal" fill="#222" stroke="#222" stroke-width="2">0</text>
<text transform="translate(97.68,660.00) scale(0.2735,0.2686)" font-size="100" font-weight="bold" fill="#111">2</text>
<text transform="translate(85.98,849.47) scale(0.4042,0.3268)" font-size="100" font-weight="normal" fill="#222" stroke="#222" stroke-width="2">0</text>
<text transform="translate(120.54,924.97) scale(0.3896,0.3254)" font-size="100" font-weight="normal" fill="#222" stroke="#222" stroke-width="2">0</text>
<path d="M340.50 902.60V925.00" stroke="#2c2c2c" stroke-width="3.4" fill="none"/><path d="M334.20 909.60L341.10 903.60" stroke="#2c2c2c" stroke-width="3.0" fill="none"/>
<text transform="translate(347.43,924.68) scale(0.3917,0.3155)" font-size="100" font-weight="normal" fill="#222" stroke="#222" stroke-width="2">0</text>
<text transform="translate(367.06,898.40) scale(0.2816,0.2629)" font-size="100" font-weight="bold" fill="#111">2</text>
<path d="M545.50 902.60V925.00" stroke="#2c2c2c" stroke-width="3.4" fill="none"/><path d="M539.20 909.60L546.10 903.60" stroke="#2c2c2c" stroke-width="3.0" fill="none"/>
<text transform="translate(552.43,924.68) scale(0.3917,0.3155)" font-size="100" font-weight="normal" fill="#222" stroke="#222" stroke-width="2">0</text>
<text transform="translate(573.88,897.74) scale(0.2600,0.2592)" font-size="100" font-weight="bold" fill="#111">3</text>
<path d="M751.30 902.60V925.00" stroke="#2c2c2c" stroke-width="3.4" fill="none"/><path d="M745.00 909.60L751.90 903.60" stroke="#2c2c2c" stroke-width="3.0" fill="none"/>
<text transform="translate(758.23,924.68) scale(0.3917,0.3155)" font-size="100" font-weight="normal" fill="#222" stroke="#222" stroke-width="2">0</text>
<text transform="translate(777.38,896.70) scale(0.2585,0.2319)" font-size="100" font-weight="bold" fill="#111">4</text>
<path d="M956.20 902.60V925.00" stroke="#2c2c2c" stroke-width="3.4" fill="none"/><path d="M949.90 909.60L956.80 903.60" stroke="#2c2c2c" stroke-width="3.0" fill="none"/>
<text transform="translate(963.13,924.68) scale(0.3917,0.3155)" font-size="100" font-weight="normal" fill="#222" stroke="#222" stroke-width="2">0</text>
<text transform="translate(983.24,896.85) scale(0.2520,0.2471)" font-size="100" font-weight="bold" fill="#111">5</text>
</g>
</svg>
</body></html>
